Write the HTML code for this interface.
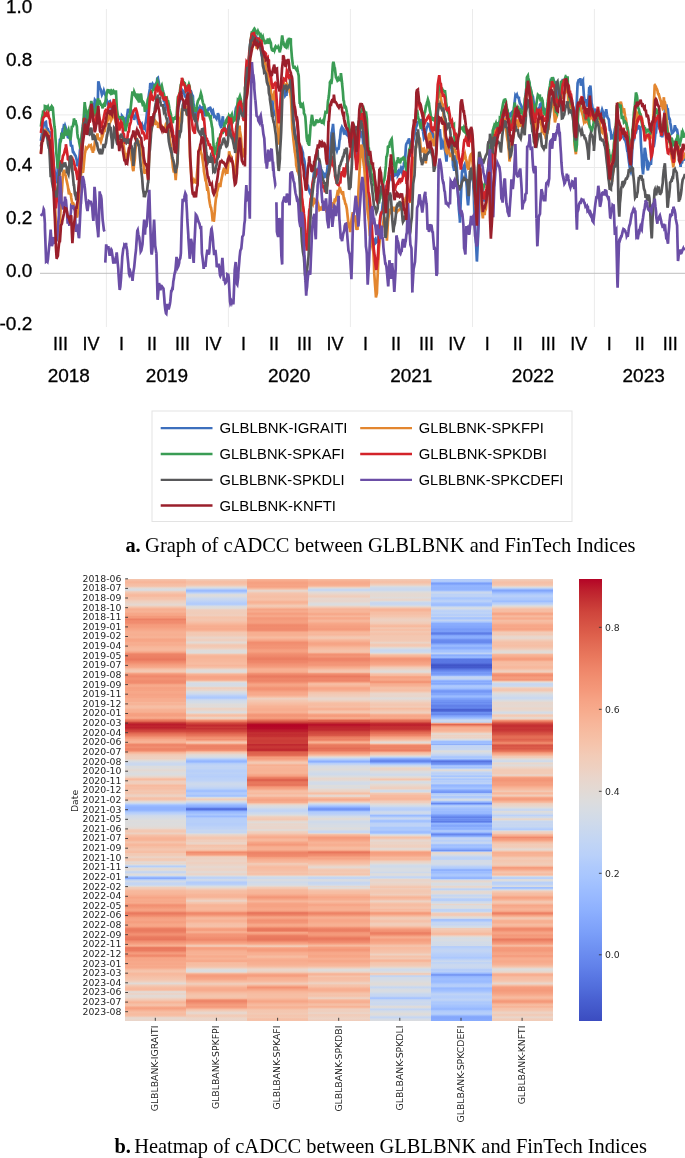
<!DOCTYPE html>
<html><head><meta charset="utf-8"><title>cADCC</title>
<style>
html,body{margin:0;padding:0;background:#fff;}
body{width:685px;height:1158px;position:relative;overflow:hidden;}
svg{position:absolute;left:0;top:0;}
.ax{font-family:"Liberation Sans",sans-serif;fill:#000;stroke:#000;stroke-width:0.3px;}
.lg{font-family:"Liberation Sans",sans-serif;fill:#000;font-size:15.2px;}
.cap{font-family:"Liberation Serif",serif;fill:#000;font-size:20.4px;}
.hm{font-family:"DejaVu Sans","Liberation Sans",sans-serif;fill:#262626;font-size:9.3px;}
.hmcol{position:absolute;top:578.7px;height:442.1px;}
</style></head><body>
<div class="hmcol" style="left:125.00px;width:61.44px;background:linear-gradient(to bottom,#f3c7b1 0.0%,#f5c0a7 0.2%,#f7b99e 0.5%,#f7b497 0.7%,#f7b89c 0.9%,#f7bca1 1.1%,#f6bfa6 1.4%,#f5c0a7 1.6%,#f2cbb7 1.8%,#e6d7cf 2.0%,#dbdcde 2.3%,#d5dbe5 2.5%,#e6d7cf 2.7%,#f2cbb7 2.9%,#f5c4ac 3.2%,#f6bea4 3.4%,#f7b99e 3.6%,#f7b99e 3.9%,#f5c0a7 4.1%,#f5c4ac 4.3%,#f5c2aa 4.5%,#f2cbb7 4.8%,#efcebd 5.0%,#edd2c3 5.2%,#ebd3c6 5.4%,#e6d7cf 5.7%,#e4d9d2 5.9%,#eed0c0 6.1%,#f3c8b2 6.3%,#f7b99e 6.6%,#f7af91 6.8%,#f7af91 7.0%,#f7b396 7.3%,#f7b194 7.5%,#f7aa8c 7.7%,#f6a586 7.9%,#f7a889 8.2%,#f49a7b 8.4%,#f49a7b 8.6%,#f49a7b 8.8%,#ec7f63 9.1%,#ee8669 9.3%,#f18d6f 9.5%,#f08b6e 9.8%,#f18d6f 10.0%,#f39577 10.2%,#f59c7d 10.4%,#f59c7d 10.7%,#f59d7e 10.9%,#f6a283 11.1%,#f6a586 11.3%,#f7a98b 11.6%,#f7ad90 11.8%,#f7b093 12.0%,#f7b093 12.2%,#f7af91 12.5%,#f7ad90 12.7%,#f7b194 12.9%,#f7b396 13.2%,#f7ad90 13.4%,#f6a586 13.6%,#f6a586 13.8%,#f7a688 14.1%,#f7ac8e 14.3%,#f7af91 14.5%,#f7ac8e 14.7%,#f7ad90 15.0%,#f7b497 15.2%,#f7b599 15.4%,#f7b89c 15.6%,#f7b99e 15.9%,#f7b99e 16.1%,#f7b396 16.3%,#f6a385 16.6%,#f29274 16.8%,#ed8366 17.0%,#ed8366 17.2%,#ec8165 17.5%,#ec7f63 17.7%,#ec7f63 17.9%,#e8765c 18.1%,#eb7d62 18.4%,#ee8669 18.6%,#f08a6c 18.8%,#f29072 19.0%,#f49a7b 19.3%,#f5a081 19.5%,#f6a385 19.7%,#f7aa8c 20.0%,#f7b79b 20.2%,#f6bfa6 20.4%,#f4c6af 20.6%,#f2cab5 20.9%,#f5c2aa 21.1%,#f7a98b 21.3%,#f49a7b 21.5%,#f18f71 21.8%,#ef886b 22.0%,#f08b6e 22.2%,#f29274 22.4%,#f29274 22.7%,#f18d6f 22.9%,#f08b6e 23.1%,#f08b6e 23.4%,#f29072 23.6%,#f5a081 23.8%,#f7a98b 24.0%,#f7a98b 24.3%,#f6a385 24.5%,#f5a081 24.7%,#f6a385 24.9%,#f6a283 25.2%,#f7a889 25.4%,#f7a889 25.6%,#f7a688 25.9%,#f6a385 26.1%,#f6a385 26.3%,#f7a688 26.5%,#f7a688 26.8%,#f7ac8e 27.0%,#f7ad90 27.2%,#f7ad90 27.4%,#f7ad90 27.7%,#f7b79b 27.9%,#f7b599 28.1%,#f7b194 28.3%,#f7ba9f 28.6%,#f6bea4 28.8%,#f6bfa6 29.0%,#f7b99e 29.3%,#f7b396 29.5%,#f7b093 29.7%,#f7b194 29.9%,#f7ac8e 30.2%,#f6a283 30.4%,#f5a081 30.6%,#f59d7e 30.8%,#f6a385 31.1%,#f7a98b 31.3%,#f7ac8e 31.5%,#f18f71 31.7%,#e9785d 32.0%,#e36c55 32.2%,#d0473d 32.4%,#c12b30 32.7%,#bb1b2c 32.9%,#bd1f2d 33.1%,#c0282f 33.3%,#bd1f2d 33.6%,#c0282f 33.8%,#c53334 34.0%,#cc403a 34.2%,#d1493f 34.5%,#da5a49 34.7%,#e16751 34.9%,#e67259 35.1%,#eb7d62 35.4%,#ef886b 35.6%,#f39577 35.8%,#f59f80 36.1%,#f7a98b 36.3%,#f7ac8e 36.5%,#f7b497 36.7%,#f7b194 37.0%,#f5a081 37.2%,#ef886b 37.4%,#ee8468 37.6%,#f08b6e 37.9%,#f18f71 38.1%,#ee8669 38.3%,#ed8366 38.5%,#ef886b 38.8%,#f4987a 39.0%,#f7b093 39.2%,#f6bea4 39.5%,#f3c8b2 39.7%,#f2cbb7 39.9%,#efcebd 40.1%,#eed0c0 40.4%,#efcfbf 40.6%,#ead5c9 40.8%,#e2dad5 41.0%,#d7dce3 41.3%,#d1dae9 41.5%,#cbd8ee 41.7%,#cad8ef 42.0%,#cfdaea 42.2%,#dbdcde 42.4%,#dadce0 42.6%,#dedcdb 42.9%,#e1dad6 43.1%,#e5d8d1 43.3%,#e0dbd8 43.5%,#dddcdc 43.8%,#dadce0 44.0%,#dbdcde 44.2%,#dedcdb 44.4%,#e8d6cc 44.7%,#edd1c2 44.9%,#f5c4ac 45.1%,#f7ba9f 45.4%,#f4c6af 45.6%,#efcebd 45.8%,#efcebd 46.0%,#f1cdba 46.3%,#f5c4ac 46.5%,#f7ba9f 46.7%,#f7bca1 46.9%,#f6bfa6 47.2%,#f6bea4 47.4%,#f5c1a9 47.6%,#f5c4ac 47.8%,#f3c7b1 48.1%,#f5c4ac 48.3%,#f4c6af 48.5%,#efcebd 48.8%,#edd1c2 49.0%,#eed0c0 49.2%,#f4c6af 49.4%,#f6bfa6 49.7%,#f5c2aa 49.9%,#f0cdbb 50.1%,#e5d8d1 50.3%,#d7dce3 50.6%,#c7d7f0 50.8%,#b1cbfc 51.0%,#9ebeff 51.2%,#94b6ff 51.5%,#90b2fe 51.7%,#90b2fe 51.9%,#90b2fe 52.2%,#96b7ff 52.4%,#a3c2fe 52.6%,#b1cbfc 52.8%,#bbd1f8 53.1%,#c3d5f4 53.3%,#cdd9ec 53.5%,#d1dae9 53.7%,#d4dbe6 54.0%,#d7dce3 54.2%,#dadce0 54.4%,#dcdddd 54.6%,#dddcdc 54.9%,#dbdcde 55.1%,#dddcdc 55.3%,#dcdddd 55.6%,#dedcdb 55.8%,#dfdbd9 56.0%,#e2dad5 56.2%,#e7d7ce 56.5%,#f0cdbb 56.7%,#f2c9b4 56.9%,#f3c7b1 57.1%,#f0cdbb 57.4%,#edd1c2 57.6%,#f3c8b2 57.8%,#f5c0a7 58.0%,#f7ba9f 58.3%,#f7b599 58.5%,#f7b396 58.7%,#f7b396 59.0%,#f7b79b 59.2%,#f5c0a7 59.4%,#f5c4ac 59.6%,#f7bca1 59.9%,#f7b79b 60.1%,#f7b79b 60.3%,#f6bda2 60.5%,#f5c0a7 60.8%,#f5c4ac 61.0%,#f4c6af 61.2%,#f5c2aa 61.5%,#f6bea4 61.7%,#f6bea4 61.9%,#f2c9b4 62.1%,#f2cab5 62.4%,#f1ccb8 62.6%,#edd1c2 62.8%,#ebd3c6 63.0%,#f2c9b4 63.3%,#f2c9b4 63.5%,#f1ccb8 63.7%,#e9d5cb 63.9%,#e2dad5 64.2%,#ead5c9 64.4%,#dddcdc 64.6%,#c0d4f5 64.9%,#b2ccfb 65.1%,#d2dbe8 65.3%,#e1dad6 65.5%,#e3d9d3 65.8%,#d9dce1 66.0%,#c7d7f0 66.2%,#c6d6f1 66.4%,#d8dce2 66.7%,#e0dbd8 66.9%,#d6dce4 67.1%,#b3cdfb 67.3%,#8caffe 67.6%,#88abfd 67.8%,#b2ccfb 68.0%,#cdd9ec 68.3%,#d2dbe8 68.5%,#c6d6f1 68.7%,#c3d5f4 68.9%,#c5d6f2 69.2%,#d2dbe8 69.4%,#e4d9d2 69.6%,#f0cdbb 69.8%,#f2c9b4 70.1%,#f5c1a9 70.3%,#f7ba9f 70.5%,#f7b89c 70.7%,#f7b79b 71.0%,#f7b599 71.2%,#f7b396 71.4%,#f7ac8e 71.7%,#f7a98b 71.9%,#f6a385 72.1%,#f7a889 72.3%,#f7ac8e 72.6%,#f7aa8c 72.8%,#f7a98b 73.0%,#f7ac8e 73.2%,#f6a283 73.5%,#f29274 73.7%,#f29072 73.9%,#f39475 74.1%,#f49a7b 74.4%,#f59f80 74.6%,#f6a385 74.8%,#f5a081 75.1%,#f18f71 75.3%,#eb7d62 75.5%,#e97a5f 75.7%,#ee8468 76.0%,#f18d6f 76.2%,#f39475 76.4%,#f59f80 76.6%,#f6a385 76.9%,#f6a586 77.1%,#f6a385 77.3%,#f59d7e 77.6%,#f5a081 77.8%,#f6a586 78.0%,#f7a889 78.2%,#f7a688 78.5%,#f59f80 78.7%,#f18d6f 78.9%,#ec7f63 79.1%,#e97a5f 79.4%,#e97a5f 79.6%,#ec7f63 79.8%,#ee8468 80.0%,#f29072 80.3%,#f29072 80.5%,#ef886b 80.7%,#ea7b60 81.0%,#e97a5f 81.2%,#e9785d 81.4%,#e8765c 81.6%,#f08b6e 81.9%,#f29274 82.1%,#f39778 82.3%,#f59f80 82.5%,#f7a98b 82.8%,#f7b396 83.0%,#f39778 83.2%,#e97a5f 83.4%,#e9785d 83.7%,#eb7d62 83.9%,#ea7b60 84.1%,#f29274 84.4%,#f4987a 84.6%,#f59d7e 84.8%,#f29072 85.0%,#ee8468 85.3%,#f39778 85.5%,#f6a586 85.7%,#f7a688 85.9%,#f6a586 86.2%,#f7a688 86.4%,#f7a98b 86.6%,#f7a98b 86.8%,#f7a688 87.1%,#f7a98b 87.3%,#f7ac8e 87.5%,#f7a688 87.8%,#f7ad90 88.0%,#f7b497 88.2%,#f6bea4 88.4%,#f5c4ac 88.7%,#f5c4ac 88.9%,#f6bda2 89.1%,#f7b89c 89.3%,#f7ba9f 89.6%,#f6bda2 89.8%,#f5c0a7 90.0%,#f5c1a9 90.2%,#f4c5ad 90.5%,#f4c6af 90.7%,#f1ccb8 90.9%,#edd2c3 91.2%,#e4d9d2 91.4%,#e0dbd8 91.6%,#efcebd 91.8%,#f4c6af 92.1%,#f5c0a7 92.3%,#f7bca1 92.5%,#f7ba9f 92.7%,#f7b99e 93.0%,#f1cdba 93.2%,#e0dbd8 93.4%,#e9d5cb 93.7%,#edd1c2 93.9%,#e5d8d1 94.1%,#e2dad5 94.3%,#e5d8d1 94.6%,#ead5c9 94.8%,#f1cdba 95.0%,#f2c9b4 95.2%,#f6bfa6 95.5%,#f7b396 95.7%,#f7b599 95.9%,#f6bda2 96.1%,#f5c1a9 96.4%,#f6bea4 96.6%,#f7aa8c 96.8%,#f5a081 97.1%,#f6a586 97.3%,#f7ad90 97.5%,#f7b599 97.7%,#f6bea4 98.0%,#f6bea4 98.2%,#f7ba9f 98.4%,#f7bca1 98.6%,#f5c1a9 98.9%,#edd1c2 99.1%,#e6d7cf 99.3%,#e7d7ce 99.5%,#ead5c9 99.8%,#e9d5cb 100.0%)"></div>
<div class="hmcol" style="left:186.14px;width:61.44px;background:linear-gradient(to bottom,#edd1c2 0.0%,#f2cab5 0.2%,#f5c0a7 0.5%,#f6bda2 0.7%,#f6bfa6 0.9%,#f5c0a7 1.1%,#f3c8b2 1.4%,#eed0c0 1.6%,#e1dad6 1.8%,#d7dce3 2.0%,#b9d0f9 2.3%,#9ebeff 2.5%,#97b8ff 2.7%,#a7c5fe 2.9%,#bfd3f6 3.2%,#d5dbe5 3.4%,#dedcdb 3.6%,#dbdcde 3.9%,#d5dbe5 4.1%,#cdd9ec 4.3%,#c9d7f0 4.5%,#c5d6f2 4.8%,#bed2f6 5.0%,#bbd1f8 5.2%,#b5cdfa 5.4%,#b1cbfc 5.7%,#bed2f6 5.9%,#d2dbe8 6.1%,#dedcdb 6.3%,#dedcdb 6.6%,#ead5c9 6.8%,#efcebd 7.0%,#f0cdbb 7.3%,#f1cdba 7.5%,#f1ccb8 7.7%,#f0cdbb 7.9%,#efcfbf 8.2%,#f2cbb7 8.4%,#f5c4ac 8.6%,#f5c4ac 8.8%,#f4c6af 9.1%,#f3c7b1 9.3%,#f5c4ac 9.5%,#f6bfa6 9.8%,#f7ba9f 10.0%,#f7b79b 10.2%,#f7b194 10.4%,#f7ac8e 10.7%,#f7af91 10.9%,#f7ad90 11.1%,#f7aa8c 11.3%,#f7b093 11.6%,#f7b99e 11.8%,#f4c5ad 12.0%,#f2cab5 12.2%,#f3c8b2 12.5%,#f2c9b4 12.7%,#f0cdbb 12.9%,#ead4c8 13.2%,#ebd3c6 13.4%,#eed0c0 13.6%,#f0cdbb 13.8%,#ead4c8 14.1%,#e2dad5 14.3%,#e4d9d2 14.5%,#efcebd 14.7%,#f3c7b1 15.0%,#f3c8b2 15.2%,#f2cab5 15.4%,#f1cdba 15.6%,#ead5c9 15.9%,#dedcdb 16.1%,#dfdbd9 16.3%,#dcdddd 16.6%,#e3d9d3 16.8%,#f4c6af 17.0%,#f7ba9f 17.2%,#f7b497 17.5%,#f7b497 17.7%,#f7b497 17.9%,#f7b79b 18.1%,#f7b79b 18.4%,#f7b89c 18.6%,#f7b99e 18.8%,#f7bca1 19.0%,#f7bca1 19.3%,#f7b599 19.5%,#f7b99e 19.7%,#f5c0a7 20.0%,#f2cab5 20.2%,#e9d5cb 20.4%,#e0dbd8 20.6%,#dddcdc 20.9%,#dfdbd9 21.1%,#efcebd 21.3%,#f7b497 21.5%,#f7ac8e 21.8%,#f6a385 22.0%,#f6a385 22.2%,#f6a385 22.4%,#f7a889 22.7%,#f7ac8e 22.9%,#f2c9b4 23.1%,#dedcdb 23.4%,#d5dbe5 23.6%,#d6dce4 23.8%,#d4dbe6 24.0%,#dbdcde 24.3%,#ebd3c6 24.5%,#f0cdbb 24.7%,#edd2c3 24.9%,#e8d6cc 25.2%,#dddcdc 25.4%,#d6dce4 25.6%,#cfdaea 25.9%,#c9d7f0 26.1%,#bed2f6 26.3%,#b6cefa 26.5%,#adc9fd 26.8%,#b1cbfc 27.0%,#c3d5f4 27.2%,#ccd9ed 27.4%,#d2dbe8 27.7%,#d2dbe8 27.9%,#d8dce2 28.1%,#dedcdb 28.3%,#e0dbd8 28.6%,#dedcdb 28.8%,#e0dbd8 29.0%,#ecd3c5 29.3%,#ebd3c6 29.5%,#e8d6cc 29.7%,#e1dad6 29.9%,#dadce0 30.2%,#e8d6cc 30.4%,#f2c9b4 30.6%,#f7bca1 30.8%,#f5c4ac 31.1%,#eed0c0 31.3%,#ecd3c5 31.5%,#f5c1a9 31.7%,#f29072 32.0%,#ec8165 32.2%,#de614d 32.4%,#cf453c 32.7%,#c83836 32.9%,#c0282f 33.1%,#c32e31 33.3%,#c83836 33.6%,#c32e31 33.8%,#c73635 34.0%,#cc403a 34.2%,#d0473d 34.5%,#d85646 34.7%,#dd5f4b 34.9%,#e36b54 35.1%,#e7745b 35.4%,#ec7f63 35.6%,#f18d6f 35.8%,#f39475 36.1%,#f18d6f 36.3%,#f59f80 36.5%,#f7b599 36.7%,#f3c7b1 37.0%,#f7bca1 37.2%,#f49a7b 37.4%,#ee8468 37.6%,#ec8165 37.9%,#ed8366 38.1%,#ec8165 38.3%,#ee8468 38.5%,#f29072 38.8%,#f7af91 39.0%,#f4c5ad 39.2%,#eed0c0 39.5%,#e5d8d1 39.7%,#dfdbd9 39.9%,#dcdddd 40.1%,#d1dae9 40.4%,#c1d4f4 40.6%,#afcafc 40.8%,#9ebeff 41.0%,#94b6ff 41.3%,#9ebeff 41.5%,#b2ccfb 41.7%,#bcd2f7 42.0%,#c0d4f5 42.2%,#c3d5f4 42.4%,#c0d4f5 42.6%,#c1d4f4 42.9%,#bcd2f7 43.1%,#b9d0f9 43.3%,#b7cff9 43.5%,#bbd1f8 43.8%,#bcd2f7 44.0%,#b9d0f9 44.2%,#b9d0f9 44.4%,#b6cefa 44.7%,#b9d0f9 44.9%,#bbd1f8 45.1%,#bcd2f7 45.4%,#bfd3f6 45.6%,#c3d5f4 45.8%,#c9d7f0 46.0%,#ccd9ed 46.3%,#cdd9ec 46.5%,#cad8ef 46.7%,#c9d7f0 46.9%,#c1d4f4 47.2%,#bcd2f7 47.4%,#b2ccfb 47.6%,#a3c2fe 47.8%,#a1c0ff 48.1%,#adc9fd 48.3%,#b1cbfc 48.5%,#aec9fc 48.8%,#a3c2fe 49.0%,#abc8fd 49.2%,#d7dce3 49.4%,#ecd3c5 49.7%,#f1cdba 49.9%,#e6d7cf 50.1%,#d9dce1 50.3%,#c5d6f2 50.6%,#b2ccfb 50.8%,#a2c1ff 51.0%,#96b7ff 51.2%,#8badfd 51.5%,#799cf8 51.7%,#5a78e4 51.9%,#5470de 52.2%,#7396f5 52.4%,#90b2fe 52.6%,#9abbff 52.8%,#a2c1ff 53.1%,#abc8fd 53.3%,#a3c2fe 53.5%,#97b8ff 53.7%,#adc9fd 54.0%,#b6cefa 54.2%,#b7cff9 54.4%,#b7cff9 54.6%,#b7cff9 54.9%,#b7cff9 55.1%,#b5cdfa 55.3%,#b6cefa 55.6%,#b7cff9 55.8%,#bbd1f8 56.0%,#bed2f6 56.2%,#bfd3f6 56.5%,#c4d5f3 56.7%,#c7d7f0 56.9%,#c5d6f2 57.1%,#c6d6f1 57.4%,#d7dce3 57.6%,#e6d7cf 57.8%,#ebd3c6 58.0%,#f1ccb8 58.3%,#f4c6af 58.5%,#f4c6af 58.7%,#f2cbb7 59.0%,#efcfbf 59.2%,#efcebd 59.4%,#ecd3c5 59.6%,#ebd3c6 59.9%,#f2cbb7 60.1%,#f5c1a9 60.3%,#f5c4ac 60.5%,#f3c7b1 60.8%,#f2cab5 61.0%,#f4c6af 61.2%,#f7b79b 61.5%,#f39778 61.7%,#f08a6c 61.9%,#f39577 62.1%,#f59d7e 62.4%,#f7b396 62.6%,#f2cab5 62.8%,#edd1c2 63.0%,#efcfbf 63.3%,#edd2c3 63.5%,#ecd3c5 63.7%,#ecd3c5 63.9%,#efcfbf 64.2%,#eed0c0 64.4%,#ebd3c6 64.6%,#ead5c9 64.9%,#e5d8d1 65.1%,#e7d7ce 65.3%,#ead5c9 65.5%,#ebd3c6 65.8%,#ead5c9 66.0%,#e3d9d3 66.2%,#e3d9d3 66.4%,#ead4c8 66.7%,#ead4c8 66.9%,#dfdbd9 67.1%,#cdd9ec 67.3%,#b9d0f9 67.6%,#c0d4f5 67.8%,#cfdaea 68.0%,#cad8ef 68.3%,#b7cff9 68.5%,#b1cbfc 68.7%,#b5cdfa 68.9%,#bcd2f7 69.2%,#cfdaea 69.4%,#dcdddd 69.6%,#e4d9d2 69.8%,#efcfbf 70.1%,#f3c7b1 70.3%,#f6bfa6 70.5%,#f6bda2 70.7%,#f7bca1 71.0%,#f7b99e 71.2%,#f7b599 71.4%,#f7b497 71.7%,#f7b396 71.9%,#f7b79b 72.1%,#f5c1a9 72.3%,#f2cbb7 72.6%,#ead5c9 72.8%,#efcebd 73.0%,#f4c6af 73.2%,#f6bfa6 73.5%,#f7b497 73.7%,#f7b497 73.9%,#f7b497 74.1%,#f7b79b 74.4%,#f7b79b 74.6%,#f7b79b 74.8%,#f7b093 75.1%,#f6a283 75.3%,#f08a6c 75.5%,#ef886b 75.7%,#f29072 76.0%,#f59f80 76.2%,#f7aa8c 76.4%,#f7b599 76.6%,#f7ba9f 76.9%,#f7b497 77.1%,#f7b093 77.3%,#f7b396 77.6%,#f7ba9f 77.8%,#f6bfa6 78.0%,#f5c0a7 78.2%,#f5c2aa 78.5%,#f6bea4 78.7%,#f7b093 78.9%,#f6a283 79.1%,#f59c7d 79.4%,#f6a283 79.6%,#f7b093 79.8%,#f7ad90 80.0%,#f49a7b 80.3%,#f39577 80.5%,#f39577 80.7%,#f29274 81.0%,#f18d6f 81.2%,#f08b6e 81.4%,#ee8669 81.6%,#f18f71 81.9%,#f59d7e 82.1%,#f59d7e 82.3%,#f7a889 82.5%,#f6bda2 82.8%,#efcfbf 83.0%,#f6bfa6 83.2%,#f6a283 83.4%,#f59f80 83.7%,#f6a586 83.9%,#f7ac8e 84.1%,#f7b194 84.4%,#f7b194 84.6%,#f7b194 84.8%,#f7b497 85.0%,#f7aa8c 85.3%,#f7ac8e 85.5%,#f7af91 85.7%,#f7b396 85.9%,#f7ac8e 86.2%,#f7a889 86.4%,#f7aa8c 86.6%,#f7bca1 86.8%,#f6bda2 87.1%,#f7bca1 87.3%,#f5c0a7 87.5%,#f5c4ac 87.8%,#efcebd 88.0%,#e6d7cf 88.2%,#dcdddd 88.4%,#d8dce2 88.7%,#dfdbd9 88.9%,#f0cdbb 89.1%,#f7b194 89.3%,#f59d7e 89.6%,#f59d7e 89.8%,#f59c7d 90.0%,#f6a283 90.2%,#f7a688 90.5%,#f7ac8e 90.7%,#f7b79b 90.9%,#f6bea4 91.2%,#f2c9b4 91.4%,#efcebd 91.6%,#f3c8b2 91.8%,#f7bca1 92.1%,#f7b497 92.3%,#f7ac8e 92.5%,#f7ac8e 92.7%,#f7a98b 93.0%,#f7ad90 93.2%,#f7b599 93.4%,#f6bda2 93.7%,#f5c0a7 93.9%,#f5c2aa 94.1%,#f4c5ad 94.3%,#f4c5ad 94.6%,#f5c0a7 94.8%,#f7b497 95.0%,#f18f71 95.2%,#ed8366 95.5%,#ef886b 95.7%,#f18f71 95.9%,#f39577 96.1%,#f59f80 96.4%,#f59d7e 96.6%,#f4987a 96.8%,#f7a98b 97.1%,#f7bca1 97.3%,#f4c6af 97.5%,#f1ccb8 97.7%,#ead5c9 98.0%,#e5d8d1 98.2%,#ead4c8 98.4%,#f1cdba 98.6%,#f2cab5 98.9%,#eed0c0 99.1%,#ecd3c5 99.3%,#ead5c9 99.5%,#ead4c8 99.8%,#edd2c3 100.0%)"></div>
<div class="hmcol" style="left:247.29px;width:61.44px;background:linear-gradient(to bottom,#f7b89c 0.0%,#f7af91 0.2%,#f7a889 0.5%,#f6a283 0.7%,#f5a081 0.9%,#f6a283 1.1%,#f6a586 1.4%,#f6a385 1.6%,#f6a283 1.8%,#f7af91 2.0%,#f5c0a7 2.3%,#ecd3c5 2.5%,#e3d9d3 2.7%,#eed0c0 2.9%,#f4c6af 3.2%,#f5c1a9 3.4%,#f5c2aa 3.6%,#f6bea4 3.9%,#f5c0a7 4.1%,#f6bea4 4.3%,#f5c4ac 4.5%,#f6bfa6 4.8%,#f7b89c 5.0%,#f7b194 5.2%,#f7b396 5.4%,#f6bda2 5.7%,#f4c6af 5.9%,#f1ccb8 6.1%,#f4c5ad 6.3%,#f7b89c 6.6%,#f6a385 6.8%,#f6a586 7.0%,#f7ac8e 7.3%,#f7a98b 7.5%,#f5a081 7.7%,#f59c7d 7.9%,#f6a586 8.2%,#f7aa8c 8.4%,#f6a385 8.6%,#f4987a 8.8%,#f49a7b 9.1%,#f59c7d 9.3%,#f59f80 9.5%,#f59f80 9.8%,#f59d7e 10.0%,#f29274 10.2%,#f08a6c 10.4%,#f08a6c 10.7%,#f18d6f 10.9%,#f08a6c 11.1%,#f08b6e 11.3%,#f08b6e 11.6%,#f4987a 11.8%,#f7ac8e 12.0%,#f7af91 12.2%,#f7af91 12.5%,#f7af91 12.7%,#f7b497 12.9%,#f7bca1 13.2%,#f7b89c 13.4%,#f7b093 13.6%,#f7aa8c 13.8%,#f59c7d 14.1%,#f18d6f 14.3%,#f18d6f 14.5%,#f18f71 14.7%,#f29274 15.0%,#f39475 15.2%,#f39577 15.4%,#f29274 15.6%,#f59d7e 15.9%,#f59f80 16.1%,#f6a385 16.3%,#f59c7d 16.6%,#f39475 16.8%,#f18f71 17.0%,#f08b6e 17.2%,#ef886b 17.5%,#ed8366 17.7%,#ec8165 17.9%,#ea7b60 18.1%,#ed8366 18.4%,#ee8669 18.6%,#ee8468 18.8%,#f08b6e 19.0%,#f29274 19.3%,#f39577 19.5%,#f4987a 19.7%,#f5a081 20.0%,#f7a98b 20.2%,#f7b093 20.4%,#f7b093 20.6%,#f7af91 20.9%,#f7ac8e 21.1%,#f39577 21.3%,#f18d6f 21.5%,#ec8165 21.8%,#e97a5f 22.0%,#ea7b60 22.2%,#ed8366 22.4%,#ee8669 22.7%,#ed8366 22.9%,#ee8468 23.1%,#f29072 23.4%,#f49a7b 23.6%,#f6a385 23.8%,#f6a586 24.0%,#f59f80 24.3%,#f39778 24.5%,#f39475 24.7%,#f18f71 24.9%,#f4987a 25.2%,#f59f80 25.4%,#f7a688 25.6%,#f7a98b 25.9%,#f7a98b 26.1%,#f7ad90 26.3%,#f7b599 26.5%,#f5c4ac 26.8%,#eed0c0 27.0%,#efcfbf 27.2%,#f2c9b4 27.4%,#f4c6af 27.7%,#f5c2aa 27.9%,#f6bfa6 28.1%,#f6bda2 28.3%,#f7b79b 28.6%,#f7b396 28.8%,#f7b396 29.0%,#f7af91 29.3%,#f7ad90 29.5%,#f7ac8e 29.7%,#f7b194 29.9%,#f7b093 30.2%,#f7a688 30.4%,#f49a7b 30.6%,#f39577 30.8%,#f39778 31.1%,#f59d7e 31.3%,#f59f80 31.5%,#f08a6c 31.7%,#e36c55 32.0%,#da5a49 32.2%,#d0473d 32.4%,#be242e 32.7%,#b50927 32.9%,#b40426 33.1%,#b40426 33.3%,#b50927 33.6%,#b50927 33.8%,#b8122a 34.0%,#bb1b2c 34.2%,#bd1f2d 34.5%,#c12b30 34.7%,#c43032 34.9%,#c12b30 35.1%,#c32e31 35.4%,#c32e31 35.6%,#ca3b37 35.8%,#cc403a 36.1%,#cb3e38 36.3%,#ca3b37 36.5%,#ca3b37 36.7%,#cb3e38 37.0%,#cc403a 37.2%,#c0282f 37.4%,#c12b30 37.6%,#c73635 37.9%,#c73635 38.1%,#c53334 38.3%,#c0282f 38.5%,#c12b30 38.8%,#d44e41 39.0%,#de614d 39.2%,#df634e 39.5%,#e16751 39.7%,#e26952 39.9%,#ee8669 40.1%,#f59f80 40.4%,#f59d7e 40.6%,#f6a385 40.8%,#f7ad90 41.0%,#f5c0a7 41.3%,#f3c8b2 41.5%,#f3c7b1 41.7%,#f7b599 42.0%,#f7af91 42.2%,#f7b599 42.4%,#f7b599 42.6%,#f7b396 42.9%,#f7b396 43.1%,#f7b194 43.3%,#f7b396 43.5%,#f7b497 43.8%,#f7b194 44.0%,#f7a98b 44.2%,#f7a688 44.4%,#f39577 44.7%,#ec8165 44.9%,#e97a5f 45.1%,#de614d 45.4%,#de614d 45.6%,#e57058 45.8%,#e8765c 46.0%,#e9785d 46.3%,#e7745b 46.5%,#e8765c 46.7%,#f18d6f 46.9%,#f59d7e 47.2%,#f6a283 47.4%,#f7aa8c 47.6%,#f7b89c 47.8%,#f6bfa6 48.1%,#f6bda2 48.3%,#f7b89c 48.5%,#f5c1a9 48.8%,#f5c4ac 49.0%,#f6bfa6 49.2%,#f7b093 49.4%,#f7a98b 49.7%,#f6a385 49.9%,#f6a283 50.1%,#f7a889 50.3%,#f7ad90 50.6%,#f4c5ad 50.8%,#ecd3c5 51.0%,#e1dad6 51.2%,#d9dce1 51.5%,#d5dbe5 51.7%,#cdd9ec 51.9%,#c4d5f3 52.2%,#c1d4f4 52.4%,#c3d5f4 52.6%,#cad8ef 52.8%,#cfdaea 53.1%,#d6dce4 53.3%,#e0dbd8 53.5%,#ebd3c6 53.7%,#f1ccb8 54.0%,#f2cab5 54.2%,#f3c7b1 54.4%,#eed0c0 54.6%,#e4d9d2 54.9%,#e0dbd8 55.1%,#e7d7ce 55.3%,#e9d5cb 55.6%,#e7d7ce 55.8%,#e9d5cb 56.0%,#e9d5cb 56.2%,#e9d5cb 56.5%,#e1dad6 56.7%,#e3d9d3 56.9%,#edd2c3 57.1%,#f0cdbb 57.4%,#f2c9b4 57.6%,#f6bfa6 57.8%,#f7b79b 58.0%,#f7ad90 58.3%,#f7aa8c 58.5%,#f7b194 58.7%,#f7b99e 59.0%,#f7b79b 59.2%,#f7af91 59.4%,#f7a688 59.6%,#f59f80 59.9%,#f4987a 60.1%,#f59f80 60.3%,#f7aa8c 60.5%,#f7b093 60.8%,#f7b093 61.0%,#f7b093 61.2%,#f5a081 61.5%,#f18f71 61.7%,#ed8366 61.9%,#ee8468 62.1%,#ef886b 62.4%,#f08a6c 62.6%,#f18f71 62.8%,#f5a081 63.0%,#f7a889 63.3%,#f7b093 63.5%,#f7b396 63.7%,#f7b79b 63.9%,#f6bea4 64.2%,#f1ccb8 64.4%,#f2c9b4 64.6%,#f5c1a9 64.9%,#f7bca1 65.1%,#f7ba9f 65.3%,#f7bca1 65.5%,#f6bea4 65.8%,#f6bfa6 66.0%,#f5c2aa 66.2%,#f5c4ac 66.4%,#f6bfa6 66.7%,#f5c4ac 66.9%,#edd1c2 67.1%,#d9dce1 67.3%,#ccd9ed 67.6%,#cdd9ec 67.8%,#dadce0 68.0%,#d8dce2 68.3%,#d1dae9 68.5%,#cedaeb 68.7%,#d3dbe7 68.9%,#d5dbe5 69.2%,#dddcdc 69.4%,#ead5c9 69.6%,#f2cbb7 69.8%,#f4c5ad 70.1%,#f7ba9f 70.3%,#f7b79b 70.5%,#f7b79b 70.7%,#f7b599 71.0%,#f7b497 71.2%,#f7ad90 71.4%,#f6a283 71.7%,#f4987a 71.9%,#f39778 72.1%,#f5a081 72.3%,#f7aa8c 72.6%,#f7b396 72.8%,#f7b79b 73.0%,#f7ad90 73.2%,#f6a283 73.5%,#f6a283 73.7%,#f6a283 73.9%,#f6a283 74.1%,#f7a688 74.4%,#f7a889 74.6%,#f7a98b 74.8%,#f6a283 75.1%,#f18f71 75.3%,#e7745b 75.5%,#e8765c 75.7%,#ed8366 76.0%,#f18d6f 76.2%,#f5a081 76.4%,#f7a688 76.6%,#f5a081 76.9%,#f39475 77.1%,#f29072 77.3%,#f39577 77.6%,#f39577 77.8%,#f6a283 78.0%,#f7a98b 78.2%,#f7a889 78.5%,#f59c7d 78.7%,#f08a6c 78.9%,#ea7b60 79.1%,#e8765c 79.4%,#e9785d 79.6%,#f18f71 79.8%,#f7a889 80.0%,#f59d7e 80.3%,#f18f71 80.5%,#ec7f63 80.7%,#e97a5f 81.0%,#e97a5f 81.2%,#e8765c 81.4%,#e8765c 81.6%,#ec8165 81.9%,#f29274 82.1%,#f59c7d 82.3%,#f6a385 82.5%,#f7b89c 82.8%,#f1cdba 83.0%,#f3c8b2 83.2%,#f7a98b 83.4%,#f59c7d 83.7%,#f59c7d 83.9%,#f59c7d 84.1%,#f7a688 84.4%,#f7af91 84.6%,#f7af91 84.8%,#f7b093 85.0%,#f7b99e 85.3%,#f6bda2 85.5%,#f7b89c 85.7%,#f7b093 85.9%,#f7ac8e 86.2%,#f7a98b 86.4%,#f7ad90 86.6%,#f7af91 86.8%,#f7b093 87.1%,#f7b396 87.3%,#f7b79b 87.5%,#f5c0a7 87.8%,#f2cab5 88.0%,#edd2c3 88.2%,#e8d6cc 88.4%,#ebd3c6 88.7%,#efcebd 88.9%,#f5c2aa 89.1%,#f7ad90 89.3%,#f59d7e 89.6%,#f59f80 89.8%,#f6a385 90.0%,#f7af91 90.2%,#f7b194 90.5%,#f7b396 90.7%,#f7b79b 90.9%,#f6bfa6 91.2%,#f2c9b4 91.4%,#f0cdbb 91.6%,#f6bfa6 91.8%,#f7aa8c 92.1%,#f39778 92.3%,#f29072 92.5%,#f5a081 92.7%,#f7a889 93.0%,#f7b093 93.2%,#f7b79b 93.4%,#f7b99e 93.7%,#f6bea4 93.9%,#f6bda2 94.1%,#f6bea4 94.3%,#f6bfa6 94.6%,#f7bca1 94.8%,#f7b79b 95.0%,#f7b093 95.2%,#f6a586 95.5%,#f7a889 95.7%,#f7ad90 95.9%,#f7b599 96.1%,#f7ba9f 96.4%,#f7ba9f 96.6%,#f7af91 96.8%,#f7b599 97.1%,#f6bea4 97.3%,#f4c5ad 97.5%,#f3c7b1 97.7%,#f4c6af 98.0%,#f2cab5 98.2%,#f2cab5 98.4%,#f3c7b1 98.6%,#f5c4ac 98.9%,#f2c9b4 99.1%,#f3c7b1 99.3%,#f5c0a7 99.5%,#f5c0a7 99.8%,#f5c4ac 100.0%)"></div>
<div class="hmcol" style="left:308.43px;width:61.44px;background:linear-gradient(to bottom,#f6bfa6 0.0%,#f7b89c 0.2%,#f7af91 0.5%,#f7ac8e 0.7%,#f7aa8c 0.9%,#f7ac8e 1.1%,#f7af91 1.4%,#f7b89c 1.6%,#f3c7b1 1.8%,#e3d9d3 2.0%,#ccd9ed 2.3%,#c0d4f5 2.5%,#cedaeb 2.7%,#dddcdc 2.9%,#e5d8d1 3.2%,#e9d5cb 3.4%,#edd2c3 3.6%,#f0cdbb 3.9%,#efcfbf 4.1%,#e9d5cb 4.3%,#e6d7cf 4.5%,#e8d6cc 4.8%,#e9d5cb 5.0%,#e5d8d1 5.2%,#e0dbd8 5.4%,#dadce0 5.7%,#dcdddd 5.9%,#e7d7ce 6.1%,#f1cdba 6.3%,#f6bfa6 6.6%,#f7b194 6.8%,#f7b599 7.0%,#f7b599 7.3%,#f7b497 7.5%,#f7af91 7.7%,#f6a586 7.9%,#f7ad90 8.2%,#f7ba9f 8.4%,#f7b194 8.6%,#f7a889 8.8%,#f7ac8e 9.1%,#f7b599 9.3%,#f7b89c 9.5%,#f7b093 9.8%,#f7a98b 10.0%,#f6a586 10.2%,#f6a385 10.4%,#f59f80 10.7%,#f59f80 10.9%,#f59f80 11.1%,#f4987a 11.3%,#f59f80 11.6%,#f7af91 11.8%,#f7b497 12.0%,#f7ba9f 12.2%,#f7b599 12.5%,#f7b99e 12.7%,#f5c1a9 12.9%,#f3c8b2 13.2%,#f3c8b2 13.4%,#f6bfa6 13.6%,#f7b89c 13.8%,#f7b093 14.1%,#f7a98b 14.3%,#f6a586 14.5%,#f6a385 14.7%,#f7a889 15.0%,#f7af91 15.2%,#f7b599 15.4%,#f7ba9f 15.6%,#f6bea4 15.9%,#f5c1a9 16.1%,#f4c5ad 16.3%,#f5c0a7 16.6%,#f7aa8c 16.8%,#f29274 17.0%,#f29072 17.2%,#f39577 17.5%,#f29274 17.7%,#ee8669 17.9%,#ee8468 18.1%,#ee8468 18.4%,#f08b6e 18.6%,#f18f71 18.8%,#f39475 19.0%,#f39577 19.3%,#f39577 19.5%,#f5a081 19.7%,#f7aa8c 20.0%,#f7b194 20.2%,#f7ba9f 20.4%,#f5c2aa 20.6%,#f3c7b1 20.9%,#f3c7b1 21.1%,#f6a283 21.3%,#f18f71 21.5%,#ee8468 21.8%,#e9785d 22.0%,#ec7f63 22.2%,#ee8468 22.4%,#ef886b 22.7%,#ee8468 22.9%,#ee8669 23.1%,#f6a385 23.4%,#f7b89c 23.6%,#f6bea4 23.8%,#f7ba9f 24.0%,#f7b497 24.3%,#f7aa8c 24.5%,#f7a688 24.7%,#f7a688 24.9%,#f7ad90 25.2%,#f7b497 25.4%,#f5c2aa 25.6%,#f3c7b1 25.9%,#f2cab5 26.1%,#f1ccb8 26.3%,#f0cdbb 26.5%,#ecd3c5 26.8%,#e8d6cc 27.0%,#e8d6cc 27.2%,#ecd3c5 27.4%,#f1ccb8 27.7%,#f5c4ac 27.9%,#f6bea4 28.1%,#f6bda2 28.3%,#f7bca1 28.6%,#f6bfa6 28.8%,#f6bea4 29.0%,#f7b396 29.3%,#f7b194 29.5%,#f7ba9f 29.7%,#f5c4ac 29.9%,#f4c6af 30.2%,#f7b99e 30.4%,#f7a688 30.6%,#f59c7d 30.8%,#f59c7d 31.1%,#f7a889 31.3%,#f7b093 31.5%,#f39475 31.7%,#dd5f4b 32.0%,#dd5f4b 32.2%,#cd423b 32.4%,#c0282f 32.7%,#b8122a 32.9%,#b8122a 33.1%,#bd1f2d 33.3%,#be242e 33.6%,#c0282f 33.8%,#c0282f 34.0%,#c12b30 34.2%,#cc403a 34.5%,#d0473d 34.7%,#d1493f 34.9%,#d55042 35.1%,#d85646 35.4%,#e36c55 35.6%,#e97a5f 35.8%,#ed8366 36.1%,#ec7f63 36.3%,#ee8669 36.5%,#f6a283 36.7%,#f7b194 37.0%,#f5a081 37.2%,#ee8669 37.4%,#e97a5f 37.6%,#e9785d 37.9%,#e7745b 38.1%,#e36b54 38.3%,#e67259 38.5%,#e7745b 38.8%,#ee8669 39.0%,#f39778 39.2%,#f6a283 39.5%,#f7b093 39.7%,#f6bda2 39.9%,#eed0c0 40.1%,#d9dce1 40.4%,#c5d6f2 40.6%,#b6cefa 40.8%,#a3c2fe 41.0%,#8caffe 41.3%,#9abbff 41.5%,#b6cefa 41.7%,#c3d5f4 42.0%,#d1dae9 42.2%,#d8dce2 42.4%,#dadce0 42.6%,#dddcdc 42.9%,#dfdbd9 43.1%,#dbdcde 43.3%,#d6dce4 43.5%,#d2dbe8 43.8%,#cfdaea 44.0%,#cedaeb 44.2%,#d3dbe7 44.4%,#dbdcde 44.7%,#e1dad6 44.9%,#e8d6cc 45.1%,#e6d7cf 45.4%,#e1dad6 45.6%,#d8dce2 45.8%,#d3dbe7 46.0%,#d2dbe8 46.3%,#d5dbe5 46.5%,#dcdddd 46.7%,#dedcdb 46.9%,#dadce0 47.2%,#e0dbd8 47.4%,#e6d7cf 47.6%,#ead5c9 47.8%,#edd1c2 48.1%,#f3c7b1 48.3%,#f7bca1 48.5%,#f1cdba 48.8%,#e5d8d1 49.0%,#e8d6cc 49.2%,#f5c1a9 49.4%,#f7b396 49.7%,#f7aa8c 49.9%,#f7b194 50.1%,#f5c1a9 50.3%,#ead5c9 50.6%,#d4dbe6 50.8%,#c5d6f2 51.0%,#b5cdfa 51.2%,#9bbcff 51.5%,#89acfd 51.7%,#779af7 51.9%,#7295f4 52.2%,#85a8fc 52.4%,#a5c3fe 52.6%,#b2ccfb 52.8%,#b6cefa 53.1%,#bed2f6 53.3%,#c6d6f1 53.5%,#d2dbe8 53.7%,#d8dce2 54.0%,#e0dbd8 54.2%,#dfdbd9 54.4%,#d7dce3 54.6%,#cfdaea 54.9%,#cfdaea 55.1%,#d3dbe7 55.3%,#d5dbe5 55.6%,#d7dce3 55.8%,#d6dce4 56.0%,#dadce0 56.2%,#dddcdc 56.5%,#dadce0 56.7%,#d1dae9 56.9%,#c9d7f0 57.1%,#c9d7f0 57.4%,#e7d7ce 57.6%,#f5c0a7 57.8%,#f7b599 58.0%,#f6a586 58.3%,#f49a7b 58.5%,#f59d7e 58.7%,#f6a385 59.0%,#f7a889 59.2%,#f7ad90 59.4%,#f7b396 59.6%,#f7b194 59.9%,#f7ad90 60.1%,#f7af91 60.3%,#f7b497 60.5%,#f7bca1 60.8%,#f7ba9f 61.0%,#f7b79b 61.2%,#f5a081 61.5%,#eb7d62 61.7%,#e8765c 61.9%,#ec8165 62.1%,#f18d6f 62.4%,#f29072 62.6%,#f59c7d 62.8%,#f6a586 63.0%,#f6a385 63.3%,#f7ac8e 63.5%,#f7b497 63.7%,#f7b99e 63.9%,#f6bea4 64.2%,#f5c1a9 64.4%,#f3c8b2 64.6%,#edd2c3 64.9%,#e7d7ce 65.1%,#e5d8d1 65.3%,#edd1c2 65.5%,#f3c8b2 65.8%,#f4c6af 66.0%,#f3c8b2 66.2%,#f2cab5 66.4%,#f4c6af 66.7%,#f4c5ad 66.9%,#ecd3c5 67.1%,#d5dbe5 67.3%,#c0d4f5 67.6%,#c4d5f3 67.8%,#d7dce3 68.0%,#d8dce2 68.3%,#cdd9ec 68.5%,#c5d6f2 68.7%,#c7d7f0 68.9%,#cdd9ec 69.2%,#d9dce1 69.4%,#e7d7ce 69.6%,#e0dbd8 69.8%,#e7d7ce 70.1%,#f3c8b2 70.3%,#f5c2aa 70.5%,#f6bfa6 70.7%,#f6bda2 71.0%,#f7bca1 71.2%,#f7b497 71.4%,#f7af91 71.7%,#f7a889 71.9%,#f7a688 72.1%,#f7ac8e 72.3%,#f7af91 72.6%,#f7b79b 72.8%,#f7bca1 73.0%,#f7b599 73.2%,#f7ac8e 73.5%,#f6a385 73.7%,#f7a688 73.9%,#f7ac8e 74.1%,#f7af91 74.4%,#f7af91 74.6%,#f7b093 74.8%,#f7aa8c 75.1%,#f39577 75.3%,#ee8669 75.5%,#ed8366 75.7%,#f18f71 76.0%,#f59c7d 76.2%,#f7a889 76.4%,#f7b093 76.6%,#f7ad90 76.9%,#f7a688 77.1%,#f7a688 77.3%,#f7a889 77.6%,#f7ac8e 77.8%,#f7af91 78.0%,#f7b194 78.2%,#f7af91 78.5%,#f6a385 78.7%,#f29072 78.9%,#ee8669 79.1%,#eb7d62 79.4%,#ec7f63 79.6%,#ee8669 79.8%,#f39577 80.0%,#f49a7b 80.3%,#f49a7b 80.5%,#f39475 80.7%,#ee8669 81.0%,#ea7b60 81.2%,#e9785d 81.4%,#ea7b60 81.6%,#ee8468 81.9%,#f08b6e 82.1%,#f29072 82.3%,#f59f80 82.5%,#f7b194 82.8%,#f5c0a7 83.0%,#f7ac8e 83.2%,#f59f80 83.4%,#f59c7d 83.7%,#f39475 83.9%,#f49a7b 84.1%,#f6a385 84.4%,#f7aa8c 84.6%,#f7a889 84.8%,#f7a98b 85.0%,#f6a283 85.3%,#f7a889 85.5%,#f7a98b 85.7%,#f7b093 85.9%,#f7ac8e 86.2%,#f6a586 86.4%,#f7a98b 86.6%,#f7ad90 86.8%,#f7b396 87.1%,#f7b599 87.3%,#f7b79b 87.5%,#f5c4ac 87.8%,#efcebd 88.0%,#e7d7ce 88.2%,#dcdddd 88.4%,#e1dad6 88.7%,#ebd3c6 88.9%,#f2cab5 89.1%,#f7b497 89.3%,#f7b396 89.6%,#f5c2aa 89.8%,#f5c4ac 90.0%,#f6bda2 90.2%,#f6bea4 90.5%,#f6bfa6 90.7%,#f5c1a9 90.9%,#f2cab5 91.2%,#edd1c2 91.4%,#eed0c0 91.6%,#f4c5ad 91.8%,#f5c2aa 92.1%,#f6bea4 92.3%,#f7b599 92.5%,#f7b093 92.7%,#f7ad90 93.0%,#f7af91 93.2%,#f7b79b 93.4%,#f5c0a7 93.7%,#f4c5ad 93.9%,#f5c2aa 94.1%,#f5c2aa 94.3%,#f2c9b4 94.6%,#ebd3c6 94.8%,#f1ccb8 95.0%,#f7b89c 95.2%,#f7b093 95.5%,#f7af91 95.7%,#f7b093 95.9%,#f6bda2 96.1%,#f5c0a7 96.4%,#f7b99e 96.6%,#f7af91 96.8%,#f5c4ac 97.1%,#efcfbf 97.3%,#efcfbf 97.5%,#efcebd 97.7%,#eed0c0 98.0%,#e8d6cc 98.2%,#eed0c0 98.4%,#f2cbb7 98.6%,#efcebd 98.9%,#eed0c0 99.1%,#edd2c3 99.3%,#ecd3c5 99.5%,#efcebd 99.8%,#f0cdbb 100.0%)"></div>
<div class="hmcol" style="left:369.57px;width:61.44px;background:linear-gradient(to bottom,#f1ccb8 0.0%,#f3c8b2 0.2%,#f5c1a9 0.5%,#f6bfa6 0.7%,#f5c2aa 0.9%,#f2c9b4 1.1%,#eed0c0 1.4%,#dfdbd9 1.6%,#d5dbe5 1.8%,#cdd9ec 2.0%,#cbd8ee 2.3%,#c7d7f0 2.5%,#d2dbe8 2.7%,#dcdddd 2.9%,#e2dad5 3.2%,#e3d9d3 3.4%,#e4d9d2 3.6%,#e4d9d2 3.9%,#e0dbd8 4.1%,#dddcdc 4.3%,#e7d7ce 4.5%,#e9d5cb 4.8%,#dcdddd 5.0%,#cfdaea 5.2%,#c6d6f1 5.4%,#c7d7f0 5.7%,#cdd9ec 5.9%,#d8dce2 6.1%,#ead5c9 6.3%,#f5c1a9 6.6%,#f7b599 6.8%,#f7b194 7.0%,#f7b89c 7.3%,#f6bea4 7.5%,#f6bfa6 7.7%,#f6bea4 7.9%,#f5c4ac 8.2%,#f5c4ac 8.4%,#f3c8b2 8.6%,#f1ccb8 8.8%,#efcfbf 9.1%,#edd1c2 9.3%,#eed0c0 9.5%,#f1cdba 9.8%,#f1ccb8 10.0%,#f3c7b1 10.2%,#f6bea4 10.4%,#f7b89c 10.7%,#f6bea4 10.9%,#f2cab5 11.1%,#f5c1a9 11.3%,#f6bea4 11.6%,#f3c8b2 11.8%,#f3c7b1 12.0%,#f5c4ac 12.2%,#f5c1a9 12.5%,#f4c5ad 12.7%,#f3c7b1 12.9%,#f3c7b1 13.2%,#f3c8b2 13.4%,#f3c7b1 13.6%,#f3c7b1 13.8%,#f2cbb7 14.1%,#ebd3c6 14.3%,#ead4c8 14.5%,#f2cab5 14.7%,#f3c7b1 15.0%,#f2cbb7 15.2%,#ebd3c6 15.4%,#dedcdb 15.6%,#d1dae9 15.9%,#c7d7f0 16.1%,#cad8ef 16.3%,#cedaeb 16.6%,#dfdbd9 16.8%,#f1ccb8 17.0%,#f6bda2 17.2%,#f7b497 17.5%,#f7a889 17.7%,#f4987a 17.9%,#f29274 18.1%,#f39778 18.4%,#f49a7b 18.6%,#f59f80 18.8%,#f6a283 19.0%,#f7a688 19.3%,#f7ad90 19.5%,#f7b99e 19.7%,#f2c9b4 20.0%,#f0cdbb 20.2%,#ecd3c5 20.4%,#e7d7ce 20.6%,#dfdbd9 20.9%,#e1dad6 21.1%,#efcfbf 21.3%,#f6bfa6 21.5%,#f6bda2 21.8%,#f7a98b 22.0%,#f5a081 22.2%,#f6a586 22.4%,#f7a889 22.7%,#f7a889 22.9%,#f39778 23.1%,#f39475 23.4%,#f6a586 23.6%,#f7ad90 23.8%,#f7ad90 24.0%,#f7b599 24.3%,#f6bda2 24.5%,#f5c0a7 24.7%,#f6bfa6 24.9%,#f6bda2 25.2%,#f5c2aa 25.4%,#f1ccb8 25.6%,#ead5c9 25.9%,#e8d6cc 26.1%,#e8d6cc 26.3%,#ead4c8 26.5%,#e3d9d3 26.8%,#dfdbd9 27.0%,#e1dad6 27.2%,#e9d5cb 27.4%,#edd2c3 27.7%,#f1cdba 27.9%,#f2cbb7 28.1%,#f3c7b1 28.3%,#f3c7b1 28.6%,#f2cbb7 28.8%,#f2cab5 29.0%,#f6bda2 29.3%,#f5c0a7 29.5%,#f4c5ad 29.7%,#f2cab5 29.9%,#efcebd 30.2%,#f3c8b2 30.4%,#f7b599 30.6%,#f7a98b 30.8%,#f7a688 31.1%,#f7aa8c 31.3%,#f7ac8e 31.5%,#f29072 31.7%,#e57058 32.0%,#e36b54 32.2%,#d65244 32.4%,#c32e31 32.7%,#be242e 32.9%,#bd1f2d 33.1%,#c32e31 33.3%,#c43032 33.6%,#c43032 33.8%,#c53334 34.0%,#cf453c 34.2%,#da5a49 34.5%,#e26952 34.7%,#e36c55 34.9%,#ea7b60 35.1%,#ee8468 35.4%,#f39577 35.6%,#f6a586 35.8%,#f7af91 36.1%,#f7b79b 36.3%,#f5c2aa 36.5%,#edd1c2 36.7%,#e1dad6 37.0%,#efcfbf 37.2%,#f7ad90 37.4%,#ef886b 37.6%,#ee8468 37.9%,#ed8366 38.1%,#ee8669 38.3%,#ed8366 38.5%,#eb7d62 38.8%,#f29274 39.0%,#f7b396 39.2%,#f5c1a9 39.5%,#f3c8b2 39.7%,#ecd3c5 39.9%,#dcdddd 40.1%,#b2ccfb 40.4%,#90b2fe 40.6%,#7ea1fa 40.8%,#6a8bef 41.0%,#6687ed 41.3%,#799cf8 41.5%,#96b7ff 41.7%,#b6cefa 42.0%,#c9d7f0 42.2%,#d4dbe6 42.4%,#e4d9d2 42.6%,#ecd3c5 42.9%,#ead4c8 43.1%,#e6d7cf 43.3%,#dddcdc 43.5%,#d8dce2 43.8%,#d4dbe6 44.0%,#cfdaea 44.2%,#cfdaea 44.4%,#dddcdc 44.7%,#e4d9d2 44.9%,#eed0c0 45.1%,#f5c4ac 45.4%,#ebd3c6 45.6%,#dbdcde 45.8%,#d5dbe5 46.0%,#dddcdc 46.3%,#e4d9d2 46.5%,#e7d7ce 46.7%,#ead4c8 46.9%,#eed0c0 47.2%,#efcfbf 47.4%,#e7d7ce 47.6%,#d2dbe8 47.8%,#d2dbe8 48.1%,#e5d8d1 48.3%,#f3c8b2 48.5%,#f5c2aa 48.8%,#f7ba9f 49.0%,#f7ba9f 49.2%,#f7b99e 49.4%,#f7b599 49.7%,#f7b89c 49.9%,#f5c2aa 50.1%,#f1ccb8 50.3%,#efcfbf 50.6%,#e6d7cf 50.8%,#e0dbd8 51.0%,#d7dce3 51.2%,#ccd9ed 51.5%,#bfd3f6 51.7%,#b9d0f9 51.9%,#b5cdfa 52.2%,#bed2f6 52.4%,#cad8ef 52.6%,#cedaeb 52.8%,#cbd8ee 53.1%,#b5cdfa 53.3%,#9abbff 53.5%,#a5c3fe 53.7%,#bfd3f6 54.0%,#c9d7f0 54.2%,#bed2f6 54.4%,#a6c4fe 54.6%,#a3c2fe 54.9%,#afcafc 55.1%,#bcd2f7 55.3%,#bed2f6 55.6%,#bfd3f6 55.8%,#b9d0f9 56.0%,#abc8fd 56.2%,#abc8fd 56.5%,#aec9fc 56.7%,#aac7fd 56.9%,#9fbfff 57.1%,#9ebeff 57.4%,#afcafc 57.6%,#cfdaea 57.8%,#e0dbd8 58.0%,#f2cbb7 58.3%,#f5c0a7 58.5%,#f3c7b1 58.7%,#ebd3c6 59.0%,#e5d8d1 59.2%,#e8d6cc 59.4%,#ebd3c6 59.6%,#ead4c8 59.9%,#edd2c3 60.1%,#eed0c0 60.3%,#efcfbf 60.5%,#ebd3c6 60.8%,#e2dad5 61.0%,#e5d8d1 61.2%,#f4c6af 61.5%,#f7a889 61.7%,#f59d7e 61.9%,#f5a081 62.1%,#f6a385 62.4%,#f7a889 62.6%,#f7b093 62.8%,#f7b99e 63.0%,#f7b89c 63.3%,#f7ba9f 63.5%,#f3c7b1 63.7%,#edd1c2 63.9%,#e8d6cc 64.2%,#e2dad5 64.4%,#d8dce2 64.6%,#cfdaea 64.9%,#cfdaea 65.1%,#d2dbe8 65.3%,#d6dce4 65.5%,#d7dce3 65.8%,#d7dce3 66.0%,#d4dbe6 66.2%,#cdd9ec 66.4%,#dddcdc 66.7%,#dddcdc 66.9%,#d9dce1 67.1%,#cad8ef 67.3%,#c3d5f4 67.6%,#d8dce2 67.8%,#ead4c8 68.0%,#ead4c8 68.3%,#e8d6cc 68.5%,#e6d7cf 68.7%,#ead5c9 68.9%,#ecd3c5 69.2%,#f0cdbb 69.4%,#f3c8b2 69.6%,#f4c6af 69.8%,#efcfbf 70.1%,#f3c8b2 70.3%,#f3c8b2 70.5%,#f3c7b1 70.7%,#f2c9b4 71.0%,#f2cab5 71.2%,#efcebd 71.4%,#f5c2aa 71.7%,#f7b89c 71.9%,#f7b396 72.1%,#f7ba9f 72.3%,#f5c2aa 72.6%,#eed0c0 72.8%,#edd2c3 73.0%,#f2cab5 73.2%,#f6bea4 73.5%,#f7bca1 73.7%,#f6bda2 73.9%,#f5c0a7 74.1%,#f5c4ac 74.4%,#f5c1a9 74.6%,#f7b99e 74.8%,#f6bfa6 75.1%,#f7af91 75.3%,#f59c7d 75.5%,#f49a7b 75.7%,#f7a889 76.0%,#f7b79b 76.2%,#f5c0a7 76.4%,#f2cab5 76.6%,#f1ccb8 76.9%,#f3c7b1 77.1%,#f5c1a9 77.3%,#f5c1a9 77.6%,#f2cab5 77.8%,#f1cdba 78.0%,#f1cdba 78.2%,#f2c9b4 78.5%,#f7bca1 78.7%,#f7b093 78.9%,#f6a385 79.1%,#f39577 79.4%,#f29274 79.6%,#f29072 79.8%,#ec8165 80.0%,#ec7f63 80.3%,#f18d6f 80.5%,#f49a7b 80.7%,#f7ad90 81.0%,#f7ac8e 81.2%,#f6a385 81.4%,#f59d7e 81.6%,#f5a081 81.9%,#f6a586 82.1%,#f7a889 82.3%,#f7ac8e 82.5%,#f7bca1 82.8%,#f4c5ad 83.0%,#f5c1a9 83.2%,#f7ba9f 83.4%,#f7bca1 83.7%,#f6bea4 83.9%,#f5c0a7 84.1%,#f5c2aa 84.4%,#f4c6af 84.6%,#f1ccb8 84.8%,#edd2c3 85.0%,#f5c4ac 85.3%,#f5c1a9 85.5%,#f3c7b1 85.7%,#f2c9b4 85.9%,#f7b79b 86.2%,#f7b396 86.4%,#f7ba9f 86.6%,#f4c5ad 86.8%,#f3c7b1 87.1%,#f3c7b1 87.3%,#f1ccb8 87.5%,#ecd3c5 87.8%,#e0dbd8 88.0%,#d4dbe6 88.2%,#cedaeb 88.4%,#d5dbe5 88.7%,#dfdbd9 88.9%,#e4d9d2 89.1%,#f3c7b1 89.3%,#e9d5cb 89.6%,#b7cff9 89.8%,#c9d7f0 90.0%,#d3dbe7 90.2%,#d3dbe7 90.5%,#d5dbe5 90.7%,#d8dce2 90.9%,#dbdcde 91.2%,#dfdbd9 91.4%,#e0dbd8 91.6%,#e0dbd8 91.8%,#d6dce4 92.1%,#c6d6f1 92.3%,#c7d7f0 92.5%,#d3dbe7 92.7%,#d9dce1 93.0%,#d9dce1 93.2%,#d6dce4 93.4%,#cedaeb 93.7%,#c7d7f0 93.9%,#c5d6f2 94.1%,#c6d6f1 94.3%,#bad0f8 94.6%,#9dbdff 94.8%,#b1cbfc 95.0%,#c6d6f1 95.2%,#cad8ef 95.5%,#cdd9ec 95.7%,#cedaeb 95.9%,#c9d7f0 96.1%,#cdd9ec 96.4%,#d9dce1 96.6%,#e2dad5 96.8%,#d6dce4 97.1%,#bfd3f6 97.3%,#c6d6f1 97.5%,#d3dbe7 97.7%,#d7dce3 98.0%,#dcdddd 98.2%,#e0dbd8 98.4%,#dedcdb 98.6%,#d3dbe7 98.9%,#c4d5f3 99.1%,#c7d7f0 99.3%,#d3dbe7 99.5%,#d8dce2 99.8%,#dbdcde 100.0%)"></div>
<div class="hmcol" style="left:430.71px;width:61.44px;background:linear-gradient(to bottom,#afcafc 0.0%,#b2ccfb 0.2%,#b5cdfa 0.5%,#a1c0ff 0.7%,#7b9ff9 0.9%,#7b9ff9 1.1%,#8caffe 1.4%,#9abbff 1.6%,#8db0fe 1.8%,#93b5fe 2.0%,#90b2fe 2.3%,#96b7ff 2.5%,#a5c3fe 2.7%,#c6d6f1 2.9%,#ccd9ed 3.2%,#bcd2f7 3.4%,#bcd2f7 3.6%,#c1d4f4 3.9%,#b5cdfa 4.1%,#a7c5fe 4.3%,#aac7fd 4.5%,#b7cff9 4.8%,#bbd1f8 5.0%,#b9d0f9 5.2%,#a6c4fe 5.4%,#a2c1ff 5.7%,#9abbff 5.9%,#abc8fd 6.1%,#c7d7f0 6.3%,#d8dce2 6.6%,#d2dbe8 6.8%,#c4d5f3 7.0%,#b9d0f9 7.3%,#bfd3f6 7.5%,#c0d4f5 7.7%,#bcd2f7 7.9%,#afcafc 8.2%,#c9d7f0 8.4%,#b7cff9 8.6%,#a1c0ff 8.8%,#aec9fc 9.1%,#c7d7f0 9.3%,#bad0f8 9.5%,#a5c3fe 9.8%,#8badfd 10.0%,#88abfd 10.2%,#89acfd 10.4%,#84a7fc 10.7%,#84a7fc 10.9%,#81a4fb 11.1%,#779af7 11.3%,#799cf8 11.6%,#80a3fa 11.8%,#7396f5 12.0%,#5b7ae5 12.2%,#6282ea 12.5%,#7da0f9 12.7%,#89acfd 12.9%,#8caffe 13.2%,#88abfd 13.4%,#7699f6 13.6%,#6a8bef 13.8%,#688aef 14.1%,#6485ec 14.3%,#7093f3 14.5%,#81a4fb 14.7%,#97b8ff 15.0%,#9abbff 15.2%,#8fb1fe 15.4%,#86a9fc 15.6%,#94b6ff 15.9%,#a5c3fe 16.1%,#a1c0ff 16.3%,#adc9fd 16.6%,#c5d6f2 16.8%,#aec9fc 17.0%,#85a8fc 17.2%,#93b5fe 17.5%,#9ebeff 17.7%,#84a7fc 17.9%,#5977e3 18.1%,#5a78e4 18.4%,#5977e3 18.6%,#5a78e4 18.8%,#5875e1 19.0%,#485fd1 19.3%,#3e51c5 19.5%,#455cce 19.7%,#4358cb 20.0%,#4c66d6 20.2%,#5673e0 20.4%,#6180e9 20.6%,#6b8df0 20.9%,#799cf8 21.1%,#7597f6 21.3%,#779af7 21.5%,#86a9fc 21.8%,#b6cefa 22.0%,#c1d4f4 22.2%,#c7d7f0 22.4%,#bbd1f8 22.7%,#9dbdff 22.9%,#84a7fc 23.1%,#90b2fe 23.4%,#86a9fc 23.6%,#82a6fb 23.8%,#a6c4fe 24.0%,#aec9fc 24.3%,#aac7fd 24.5%,#a5c3fe 24.7%,#98b9ff 24.9%,#7a9df8 25.2%,#7396f5 25.4%,#7699f6 25.6%,#84a7fc 25.9%,#82a6fb 26.1%,#8fb1fe 26.3%,#9ebeff 26.5%,#92b4fe 26.8%,#82a6fb 27.0%,#81a4fb 27.2%,#7295f4 27.4%,#7295f4 27.7%,#688aef 27.9%,#7093f3 28.1%,#6e90f2 28.3%,#6180e9 28.6%,#5f7fe8 28.8%,#6788ee 29.0%,#5d7ce6 29.3%,#4961d2 29.5%,#4a63d3 29.7%,#4c66d6 29.9%,#6c8ff1 30.2%,#6b8df0 30.4%,#6282ea 30.6%,#779af7 30.8%,#86a9fc 31.1%,#93b5fe 31.3%,#9dbdff 31.5%,#b6cefa 31.7%,#ccd9ed 32.0%,#c7d7f0 32.2%,#c1d4f4 32.4%,#f59c7d 32.7%,#e0654f 32.9%,#e97a5f 33.1%,#f39778 33.3%,#f7aa8c 33.6%,#f7b093 33.8%,#f7b093 34.0%,#f7b093 34.2%,#f7ba9f 34.5%,#f4c5ad 34.7%,#ead5c9 34.9%,#e4d9d2 35.1%,#edd2c3 35.4%,#ead5c9 35.6%,#edd1c2 35.8%,#e5d8d1 36.1%,#d9dce1 36.3%,#c7d7f0 36.5%,#9ebeff 36.7%,#9ebeff 37.0%,#a3c2fe 37.2%,#82a6fb 37.4%,#bcd2f7 37.6%,#c4d5f3 37.9%,#c1d4f4 38.1%,#c6d6f1 38.3%,#c1d4f4 38.5%,#d6dce4 38.8%,#dddcdc 39.0%,#d7dce3 39.2%,#cfdaea 39.5%,#c6d6f1 39.7%,#c1d4f4 39.9%,#aec9fc 40.1%,#a9c6fd 40.4%,#b2ccfb 40.6%,#97b8ff 40.8%,#6e90f2 41.0%,#5673e0 41.3%,#6485ec 41.5%,#6b8df0 41.7%,#7a9df8 42.0%,#a1c0ff 42.2%,#aec9fc 42.4%,#9fbfff 42.6%,#b9d0f9 42.9%,#d6dce4 43.1%,#e2dad5 43.3%,#d1dae9 43.5%,#bfd3f6 43.8%,#bad0f8 44.0%,#c0d4f5 44.2%,#b3cdfb 44.4%,#a7c5fe 44.7%,#c4d5f3 44.9%,#b6cefa 45.1%,#a9c6fd 45.4%,#b9d0f9 45.6%,#b5cdfa 45.8%,#b9d0f9 46.0%,#bed2f6 46.3%,#a1c0ff 46.5%,#94b6ff 46.7%,#98b9ff 46.9%,#a1c0ff 47.2%,#a6c4fe 47.4%,#96b7ff 47.6%,#85a8fc 47.8%,#779af7 48.1%,#7597f6 48.3%,#aac7fd 48.5%,#bad0f8 48.8%,#c1d4f4 49.0%,#aec9fc 49.2%,#aec9fc 49.4%,#c6d6f1 49.7%,#d6dce4 49.9%,#cedaeb 50.1%,#a9c6fd 50.3%,#85a8fc 50.6%,#6687ed 50.8%,#81a4fb 51.0%,#abc8fd 51.2%,#b9d0f9 51.5%,#abc8fd 51.7%,#a5c3fe 51.9%,#9dbdff 52.2%,#a1c0ff 52.4%,#9abbff 52.6%,#9abbff 52.8%,#97b8ff 53.1%,#84a7fc 53.3%,#779af7 53.5%,#6c8ff1 53.7%,#6180e9 54.0%,#7396f5 54.2%,#6a8bef 54.4%,#6e90f2 54.6%,#5b7ae5 54.9%,#7295f4 55.1%,#94b6ff 55.3%,#8caffe 55.6%,#82a6fb 55.8%,#86a9fc 56.0%,#92b4fe 56.2%,#8db0fe 56.5%,#94b6ff 56.7%,#abc8fd 56.9%,#aec9fc 57.1%,#93b5fe 57.4%,#7597f6 57.6%,#6687ed 57.8%,#7699f6 58.0%,#93b5fe 58.3%,#b9d0f9 58.5%,#c4d5f3 58.7%,#c3d5f4 59.0%,#b7cff9 59.2%,#bed2f6 59.4%,#c7d7f0 59.6%,#bfd3f6 59.9%,#a3c2fe 60.1%,#9fbfff 60.3%,#a5c3fe 60.5%,#9fbfff 60.8%,#90b2fe 61.0%,#85a8fc 61.2%,#6b8df0 61.5%,#b5cdfa 61.7%,#e7d7ce 61.9%,#e3d9d3 62.1%,#d8dce2 62.4%,#d1dae9 62.6%,#c5d6f2 62.8%,#bfd3f6 63.0%,#bcd2f7 63.3%,#c0d4f5 63.5%,#d4dbe6 63.7%,#d2dbe8 63.9%,#d3dbe7 64.2%,#d4dbe6 64.4%,#cfdaea 64.6%,#c3d5f4 64.9%,#b7cff9 65.1%,#b3cdfb 65.3%,#abc8fd 65.5%,#8badfd 65.8%,#90b2fe 66.0%,#a1c0ff 66.2%,#9bbcff 66.4%,#a5c3fe 66.7%,#abc8fd 66.9%,#abc8fd 67.1%,#a3c2fe 67.3%,#92b4fe 67.6%,#93b5fe 67.8%,#c7d7f0 68.0%,#e8d6cc 68.3%,#e6d7cf 68.5%,#dedcdb 68.7%,#d8dce2 68.9%,#d6dce4 69.2%,#dedcdb 69.4%,#e9d5cb 69.6%,#e3d9d3 69.8%,#c3d5f4 70.1%,#bcd2f7 70.3%,#d8dce2 70.5%,#e3d9d3 70.7%,#e5d8d1 71.0%,#e1dad6 71.2%,#d1dae9 71.4%,#c1d4f4 71.7%,#cfdaea 71.9%,#d1dae9 72.1%,#bed2f6 72.3%,#b3cdfb 72.6%,#b7cff9 72.8%,#cedaeb 73.0%,#d1dae9 73.2%,#dcdddd 73.5%,#edd2c3 73.7%,#dbdcde 73.9%,#dbdcde 74.1%,#dedcdb 74.4%,#d2dbe8 74.6%,#bcd2f7 74.8%,#c0d4f5 75.1%,#c7d7f0 75.3%,#e8d6cc 75.5%,#f2cbb7 75.7%,#f2c9b4 76.0%,#f0cdbb 76.2%,#e4d9d2 76.4%,#e0dbd8 76.6%,#cbd8ee 76.9%,#96b7ff 77.1%,#aac7fd 77.3%,#bbd1f8 77.6%,#cbd8ee 77.8%,#c5d6f2 78.0%,#c3d5f4 78.2%,#cfdaea 78.5%,#d4dbe6 78.7%,#dbdcde 78.9%,#f3c8b2 79.1%,#f1ccb8 79.4%,#f5c4ac 79.6%,#f4c5ad 79.8%,#f5c0a7 80.0%,#f7b89c 80.3%,#f6bfa6 80.5%,#eed0c0 80.7%,#dedcdb 81.0%,#d7dce3 81.2%,#d5dbe5 81.4%,#d9dce1 81.6%,#d8dce2 81.9%,#d3dbe7 82.1%,#d1dae9 82.3%,#d4dbe6 82.5%,#cfdaea 82.8%,#d2dbe8 83.0%,#adc9fd 83.2%,#b9d0f9 83.4%,#bfd3f6 83.7%,#c1d4f4 83.9%,#c3d5f4 84.1%,#c0d4f5 84.4%,#bbd1f8 84.6%,#b9d0f9 84.8%,#b6cefa 85.0%,#b5cdfa 85.3%,#b1cbfc 85.5%,#aac7fd 85.7%,#b3cdfb 85.9%,#c1d4f4 86.2%,#c7d7f0 86.4%,#ccd9ed 86.6%,#bcd2f7 86.8%,#c6d6f1 87.1%,#cad8ef 87.3%,#cad8ef 87.5%,#cbd8ee 87.8%,#c6d6f1 88.0%,#c0d4f5 88.2%,#b1cbfc 88.4%,#b9d0f9 88.7%,#bad0f8 88.9%,#a1c0ff 89.1%,#92b4fe 89.3%,#6788ee 89.6%,#8fb1fe 89.8%,#96b7ff 90.0%,#9abbff 90.2%,#9fbfff 90.5%,#9ebeff 90.7%,#9abbff 90.9%,#9abbff 91.2%,#a3c2fe 91.4%,#adc9fd 91.6%,#b5cdfa 91.8%,#b6cefa 92.1%,#b2ccfb 92.3%,#98b9ff 92.5%,#98b9ff 92.7%,#9fbfff 93.0%,#a1c0ff 93.2%,#aac7fd 93.4%,#b6cefa 93.7%,#bfd3f6 93.9%,#bed2f6 94.1%,#b7cff9 94.3%,#b6cefa 94.6%,#b6cefa 94.8%,#bcd2f7 95.0%,#bfd3f6 95.2%,#b7cff9 95.5%,#aac7fd 95.7%,#adc9fd 95.9%,#aec9fc 96.1%,#a7c5fe 96.4%,#a3c2fe 96.6%,#a2c1ff 96.8%,#9abbff 97.1%,#92b4fe 97.3%,#9fbfff 97.5%,#afcafc 97.7%,#b2ccfb 98.0%,#b7cff9 98.2%,#b5cdfa 98.4%,#aac7fd 98.6%,#8badfd 98.9%,#84a7fc 99.1%,#84a7fc 99.3%,#85a8fc 99.5%,#88abfd 99.8%,#89acfd 100.0%)"></div>
<div class="hmcol" style="left:491.86px;width:61.14px;background:linear-gradient(to bottom,#edd1c2 0.0%,#f2cab5 0.2%,#f4c5ad 0.5%,#f6bfa6 0.7%,#f5c0a7 0.9%,#f5c2aa 1.1%,#f4c6af 1.4%,#eed0c0 1.6%,#e0dbd8 1.8%,#cad8ef 2.0%,#a3c2fe 2.3%,#81a4fb 2.5%,#82a6fb 2.7%,#90b2fe 2.9%,#a2c1ff 3.2%,#aac7fd 3.4%,#b3cdfb 3.6%,#b9d0f9 3.9%,#b5cdfa 4.1%,#aec9fc 4.3%,#adc9fd 4.5%,#aac7fd 4.8%,#97b8ff 5.0%,#a7c5fe 5.2%,#b5cdfa 5.4%,#bed2f6 5.7%,#cedaeb 5.9%,#dbdcde 6.1%,#e8d6cc 6.3%,#f2c9b4 6.6%,#f6bea4 6.8%,#f7bca1 7.0%,#f6bfa6 7.3%,#f7b599 7.5%,#f7ac8e 7.7%,#f5a081 7.9%,#f7b093 8.2%,#f7ba9f 8.4%,#f7b89c 8.6%,#f7ac8e 8.8%,#f7ac8e 9.1%,#f6bea4 9.3%,#f6bea4 9.5%,#f7b99e 9.8%,#f7b79b 10.0%,#f7af91 10.2%,#f7a889 10.4%,#f7a688 10.7%,#f7a98b 10.9%,#f7a889 11.1%,#f5a081 11.3%,#f7aa8c 11.6%,#f7b99e 11.8%,#f3c8b2 12.0%,#f0cdbb 12.2%,#f3c8b2 12.5%,#f1cdba 12.7%,#ead4c8 12.9%,#e7d7ce 13.2%,#e6d7cf 13.4%,#ecd3c5 13.6%,#f1cdba 13.8%,#f4c6af 14.1%,#f5c1a9 14.3%,#f5c0a7 14.5%,#f5c2aa 14.7%,#f6bea4 15.0%,#f5c0a7 15.2%,#f5c2aa 15.4%,#f3c7b1 15.6%,#f0cdbb 15.9%,#e9d5cb 16.1%,#e4d9d2 16.3%,#dfdbd9 16.6%,#e6d7cf 16.8%,#f7bca1 17.0%,#f7b497 17.2%,#f7af91 17.5%,#f7a889 17.7%,#f6a283 17.9%,#f49a7b 18.1%,#f6a586 18.4%,#f7b497 18.6%,#f7bca1 18.8%,#f7ba9f 19.0%,#f6bda2 19.3%,#f6bea4 19.5%,#f7b99e 19.7%,#f7b89c 20.0%,#f7ba9f 20.2%,#f5c0a7 20.4%,#f2c9b4 20.6%,#eed0c0 20.9%,#f2cbb7 21.1%,#f7a889 21.3%,#f39778 21.5%,#f18d6f 21.8%,#f39475 22.0%,#f49a7b 22.2%,#f59f80 22.4%,#f39577 22.7%,#f39778 22.9%,#f5c4ac 23.1%,#dedcdb 23.4%,#ccd9ed 23.6%,#c7d7f0 23.8%,#c9d7f0 24.0%,#cedaeb 24.3%,#e8d6cc 24.5%,#f0cdbb 24.7%,#f3c7b1 24.9%,#f4c6af 25.2%,#efcebd 25.4%,#e7d7ce 25.6%,#dddcdc 25.9%,#d8dce2 26.1%,#d3dbe7 26.3%,#d2dbe8 26.5%,#cbd8ee 26.8%,#cad8ef 27.0%,#cfdaea 27.2%,#d8dce2 27.4%,#e0dbd8 27.7%,#e6d7cf 27.9%,#e7d7ce 28.1%,#e6d7cf 28.3%,#e5d8d1 28.6%,#e3d9d3 28.8%,#e7d7ce 29.0%,#ead5c9 29.3%,#e8d6cc 29.5%,#e7d7ce 29.7%,#dfdbd9 29.9%,#d4dbe6 30.2%,#d8dce2 30.4%,#e9d5cb 30.6%,#f2c9b4 30.8%,#f1cdba 31.1%,#e8d6cc 31.3%,#e6d7cf 31.5%,#f1cdba 31.7%,#f39577 32.0%,#ec8165 32.2%,#e0654f 32.4%,#d1493f 32.7%,#ca3b37 32.9%,#c43032 33.1%,#c32e31 33.3%,#c73635 33.6%,#c83836 33.8%,#c53334 34.0%,#c73635 34.2%,#cc403a 34.5%,#d1493f 34.7%,#d55042 34.9%,#d65244 35.1%,#df634e 35.4%,#e36b54 35.6%,#e46e56 35.8%,#e26952 36.1%,#de614d 36.3%,#e16751 36.5%,#e46e56 36.7%,#ee8669 37.0%,#ee8669 37.2%,#e46e56 37.4%,#d65244 37.6%,#d95847 37.9%,#dc5d4a 38.1%,#d85646 38.3%,#dc5d4a 38.5%,#e36b54 38.8%,#e7745b 39.0%,#f18f71 39.2%,#f6a385 39.5%,#f7ad90 39.7%,#f7b89c 39.9%,#f2c9b4 40.1%,#f0cdbb 40.4%,#e8d6cc 40.6%,#dfdbd9 40.8%,#d3dbe7 41.0%,#cfdaea 41.3%,#e0dbd8 41.5%,#e8d6cc 41.7%,#e2dad5 42.0%,#dfdbd9 42.2%,#e5d8d1 42.4%,#ead5c9 42.6%,#eed0c0 42.9%,#f1ccb8 43.1%,#f2cab5 43.3%,#f2cbb7 43.5%,#f2cbb7 43.8%,#f2cbb7 44.0%,#eed0c0 44.2%,#e8d6cc 44.4%,#f7b99e 44.7%,#f6a385 44.9%,#f49a7b 45.1%,#f39778 45.4%,#f39577 45.6%,#f49a7b 45.8%,#f59d7e 46.0%,#f5a081 46.3%,#f59f80 46.5%,#f6a283 46.7%,#f7aa8c 46.9%,#f7b396 47.2%,#f7b89c 47.4%,#f7bca1 47.6%,#f5c2aa 47.8%,#f2cab5 48.1%,#f7bca1 48.3%,#f7b79b 48.5%,#f5c4ac 48.8%,#f0cdbb 49.0%,#f5c1a9 49.2%,#f7aa8c 49.4%,#f59d7e 49.7%,#f59d7e 49.9%,#f6a586 50.1%,#f7b093 50.3%,#f6bea4 50.6%,#efcebd 50.8%,#edd2c3 51.0%,#ead4c8 51.2%,#e5d8d1 51.5%,#dfdbd9 51.7%,#d5dbe5 51.9%,#c5d6f2 52.2%,#cbd8ee 52.4%,#dedcdb 52.6%,#dadce0 52.8%,#d2dbe8 53.1%,#c9d7f0 53.3%,#bbd1f8 53.5%,#c9d7f0 53.7%,#d1dae9 54.0%,#e3d9d3 54.2%,#e8d6cc 54.4%,#d9dce1 54.6%,#c6d6f1 54.9%,#c6d6f1 55.1%,#c9d7f0 55.3%,#c6d6f1 55.6%,#c6d6f1 55.8%,#c7d7f0 56.0%,#c0d4f5 56.2%,#b6cefa 56.5%,#b1cbfc 56.7%,#cfdaea 56.9%,#e9d5cb 57.1%,#efcfbf 57.4%,#f1ccb8 57.6%,#f7ba9f 57.8%,#f7b194 58.0%,#f59c7d 58.3%,#ef886b 58.5%,#f39778 58.7%,#f59d7e 59.0%,#f7a688 59.2%,#f7b497 59.4%,#f6bfa6 59.6%,#f3c7b1 59.9%,#f1ccb8 60.1%,#f2cbb7 60.3%,#f2cbb7 60.5%,#efcfbf 60.8%,#ead5c9 61.0%,#e5d8d1 61.2%,#efcebd 61.5%,#f7bca1 61.7%,#f7af91 61.9%,#f7b093 62.1%,#f7b497 62.4%,#f7b497 62.6%,#f6bda2 62.8%,#f4c6af 63.0%,#f2cbb7 63.3%,#f2c9b4 63.5%,#f4c6af 63.7%,#f3c8b2 63.9%,#f2cab5 64.2%,#f1ccb8 64.4%,#f1ccb8 64.6%,#f5c4ac 64.9%,#f7b194 65.1%,#f4987a 65.3%,#f5a081 65.5%,#f7aa8c 65.8%,#f7b79b 66.0%,#f6bfa6 66.2%,#f5c4ac 66.4%,#f6bda2 66.7%,#f7bca1 66.9%,#f1ccb8 67.1%,#d4dbe6 67.3%,#b7cff9 67.6%,#b9d0f9 67.8%,#dddcdc 68.0%,#dcdddd 68.3%,#c4d5f3 68.5%,#b7cff9 68.7%,#bbd1f8 68.9%,#c1d4f4 69.2%,#d1dae9 69.4%,#d5dbe5 69.6%,#9fbfff 69.8%,#aec9fc 70.1%,#d3dbe7 70.3%,#e9d5cb 70.5%,#f2cbb7 70.7%,#f5c2aa 71.0%,#f6bda2 71.2%,#f6bda2 71.4%,#f7b599 71.7%,#f7a889 71.9%,#f6a283 72.1%,#f7a889 72.3%,#f7b396 72.6%,#f6bea4 72.8%,#f3c7b1 73.0%,#f4c6af 73.2%,#f7bca1 73.5%,#f7ad90 73.7%,#f6a586 73.9%,#f7aa8c 74.1%,#f7ad90 74.4%,#f7b396 74.6%,#f7b497 74.8%,#f7ad90 75.1%,#f5a081 75.3%,#ee8468 75.5%,#ec8165 75.7%,#f39778 76.0%,#f7aa8c 76.2%,#f7b497 76.4%,#f5c4ac 76.6%,#f2c9b4 76.9%,#f7bca1 77.1%,#f7af91 77.3%,#f7af91 77.6%,#f7af91 77.8%,#f7b89c 78.0%,#f6bda2 78.2%,#f7b79b 78.5%,#f7ad90 78.7%,#f4987a 78.9%,#f08a6c 79.1%,#f08a6c 79.4%,#f29274 79.6%,#f59d7e 79.8%,#f6a385 80.0%,#f6a586 80.3%,#f49a7b 80.5%,#f4987a 80.7%,#f59d7e 81.0%,#f49a7b 81.2%,#ec8165 81.4%,#e97a5f 81.6%,#ee8669 81.9%,#f29072 82.1%,#f39577 82.3%,#f59d7e 82.5%,#f7ad90 82.8%,#f5c2aa 83.0%,#f7ac8e 83.2%,#f59c7d 83.4%,#f49a7b 83.7%,#f49a7b 83.9%,#f4987a 84.1%,#f5a081 84.4%,#f6a586 84.6%,#f6a586 84.8%,#f7a688 85.0%,#f4987a 85.3%,#f6a385 85.5%,#f7a98b 85.7%,#f7ad90 85.9%,#f7ad90 86.2%,#f7a889 86.4%,#f7aa8c 86.6%,#f7ac8e 86.8%,#f7b194 87.1%,#f7b497 87.3%,#f6bda2 87.5%,#f3c7b1 87.8%,#ecd3c5 88.0%,#dfdbd9 88.2%,#dcdddd 88.4%,#e4d9d2 88.7%,#e8d6cc 88.9%,#f1cdba 89.1%,#f7b599 89.3%,#f7a98b 89.6%,#f7b497 89.8%,#f7ba9f 90.0%,#f6bea4 90.2%,#f6bea4 90.5%,#f5c1a9 90.7%,#f5c4ac 90.9%,#f1ccb8 91.2%,#ead5c9 91.4%,#e9d5cb 91.6%,#f3c7b1 91.8%,#f7b194 92.1%,#f6a283 92.3%,#f59c7d 92.5%,#f59d7e 92.7%,#f49a7b 93.0%,#f49a7b 93.2%,#f59f80 93.4%,#f6a283 93.7%,#f7a688 93.9%,#f7ac8e 94.1%,#f7b093 94.3%,#f7ba9f 94.6%,#f7b99e 94.8%,#f7b396 95.0%,#f7a889 95.2%,#f39778 95.5%,#f59c7d 95.7%,#f5a081 95.9%,#f7b396 96.1%,#f6bda2 96.4%,#f7ba9f 96.6%,#f7b194 96.8%,#f5c0a7 97.1%,#f4c5ad 97.3%,#f5c1a9 97.5%,#f2c9b4 97.7%,#eed0c0 98.0%,#ebd3c6 98.2%,#efcebd 98.4%,#f2c9b4 98.6%,#efcebd 98.9%,#e8d6cc 99.1%,#ead4c8 99.3%,#f0cdbb 99.5%,#f1ccb8 99.8%,#f1cdba 100.0%)"></div>
<div class="hmcol" style="left:579.2px;width:22.5px;background:linear-gradient(to bottom,#b40426 0.0%,#bd1f2d 2.5%,#c53334 5.0%,#cf453c 7.5%,#d65244 10.0%,#dd5f4b 12.5%,#e36c55 15.0%,#e9785d 17.5%,#ee8468 20.0%,#f18f71 22.5%,#f4987a 25.0%,#f6a385 27.5%,#f7ac8e 30.0%,#f7b599 32.5%,#f6bda2 35.0%,#f5c4ac 37.5%,#f2cbb7 40.0%,#eed0c0 42.5%,#e9d5cb 45.0%,#e3d9d3 47.5%,#dddcdc 50.0%,#d6dce4 52.5%,#cfdaea 55.0%,#c7d7f0 57.5%,#c0d4f5 60.0%,#b9d0f9 62.5%,#afcafc 65.0%,#a7c5fe 67.5%,#9ebeff 70.0%,#96b7ff 72.5%,#8db0fe 75.0%,#84a7fc 77.5%,#7b9ff9 80.0%,#7295f4 82.5%,#6a8bef 85.0%,#6282ea 87.5%,#5977e3 90.0%,#516ddb 92.5%,#4961d2 95.0%,#4257c9 97.5%,#3b4cc0 100.0%)"></div>
<svg width="685" height="1158" viewBox="0 0 685 1158">
<line x1="40" y1="62.0" x2="685" y2="62.0" stroke="#ebebeb" stroke-width="1"/>
<line x1="40" y1="114.9" x2="685" y2="114.9" stroke="#ebebeb" stroke-width="1"/>
<line x1="40" y1="167.5" x2="685" y2="167.5" stroke="#ebebeb" stroke-width="1"/>
<line x1="40" y1="220.4" x2="685" y2="220.4" stroke="#ebebeb" stroke-width="1"/>
<line x1="106.4" y1="9" x2="106.4" y2="327" stroke="#ebebeb" stroke-width="1"/>
<line x1="228.4" y1="9" x2="228.4" y2="327" stroke="#ebebeb" stroke-width="1"/>
<line x1="350.4" y1="9" x2="350.4" y2="327" stroke="#ebebeb" stroke-width="1"/>
<line x1="472.5" y1="9" x2="472.5" y2="327" stroke="#ebebeb" stroke-width="1"/>
<line x1="594.4" y1="9" x2="594.4" y2="327" stroke="#ebebeb" stroke-width="1"/>
<line x1="40" y1="273.3" x2="685" y2="273.3" stroke="#bfbfbf" stroke-width="1"/>
<polyline fill="none" stroke="#3d6fbd" stroke-width="2.7" stroke-linejoin="miter" stroke-linecap="butt" points="40.9,140.9 41.9,134.1 42.9,129.1 43.1,128.1 43.9,124.2 44.9,122.0 44.9,122.3 45.9,121.9 46.6,128.1 46.9,129.4 47.9,129.3 48.4,130.8 48.9,132.4 49.9,132.3 50.1,132.5 50.9,132.8 51.9,139.9 51.9,140.0 52.9,153.0 53.6,161.0 53.9,166.6 54.9,173.3 55.4,176.4 55.9,181.7 56.9,182.1 57.2,180.4 57.9,164.8 58.0,159.7 58.9,153.2 59.8,141.2 59.9,139.7 60.9,138.8 61.5,133.0 61.9,134.2 62.9,128.1 63.3,129.6 63.9,125.5 64.9,125.9 65.0,125.6 65.9,128.3 66.8,133.9 66.9,133.3 67.9,137.2 68.5,137.4 68.9,134.9 69.9,134.9 70.3,139.5 70.9,145.6 71.9,146.3 72.0,144.8 72.9,151.9 73.8,153.0 73.9,152.9 74.9,154.9 75.5,155.6 75.9,156.9 76.9,160.6 77.3,166.2 77.9,164.9 78.9,165.2 79.1,162.6 79.9,150.9 80.8,144.3 80.9,147.5 81.9,136.8 82.6,130.1 82.9,126.2 83.9,119.1 84.3,118.0 84.9,115.6 85.9,119.3 86.1,117.1 86.9,119.7 87.8,124.0 87.9,125.8 88.9,118.8 89.6,115.8 89.9,116.1 90.9,111.6 91.3,108.1 91.9,111.4 92.9,114.9 93.1,114.4 93.9,106.6 94.8,100.8 94.9,100.0 95.9,101.4 96.6,104.4 96.9,107.1 97.6,106.2 97.9,98.1 98.3,81.4 98.9,83.5 99.9,88.0 100.1,88.3 100.9,89.7 101.8,94.2 101.9,94.6 102.9,92.4 103.6,92.1 103.9,90.9 104.9,94.0 105.3,94.8 105.9,96.1 106.2,101.4 106.9,100.9 107.9,105.4 108.0,103.7 108.9,105.7 109.7,101.4 109.9,101.3 110.9,105.2 111.5,107.8 111.9,109.1 112.9,107.5 113.2,110.0 113.9,111.4 114.9,112.6 115.0,112.7 115.9,118.2 116.7,117.2 116.9,115.7 117.9,119.0 118.5,119.1 118.9,118.4 119.9,118.9 120.2,117.9 120.9,117.5 121.9,117.6 122.0,116.0 122.9,117.2 123.7,120.0 123.9,119.6 124.9,122.9 125.5,122.9 125.9,118.4 126.9,117.5 127.2,115.4 127.9,110.0 128.9,109.9 129.0,109.1 129.9,111.4 130.7,111.3 130.9,109.8 131.9,112.1 132.5,115.9 132.9,116.7 133.9,117.9 134.2,119.9 134.9,116.1 135.9,116.4 136.0,114.9 136.9,116.5 137.7,119.4 137.9,121.4 138.9,125.0 139.5,121.3 139.9,123.6 140.9,126.3 141.2,125.7 141.9,124.4 142.9,127.8 143.0,129.8 143.9,125.2 144.2,126.9 144.9,128.2 145.0,125.4 145.9,121.6 146.8,114.3 146.9,112.2 147.9,102.1 148.5,97.6 148.9,94.7 149.9,88.7 150.3,83.0 150.9,84.4 151.9,88.6 152.0,88.2 152.9,84.4 153.8,85.9 153.9,84.7 154.9,85.0 155.5,84.2 155.9,85.6 156.9,82.1 157.3,78.4 157.9,77.9 158.9,83.8 159.0,83.6 159.9,88.4 160.8,89.7 160.9,88.2 161.9,93.0 162.5,91.9 162.9,90.1 163.9,101.9 164.3,99.6 164.9,103.4 165.9,108.0 166.0,107.1 166.9,105.3 167.8,110.7 167.9,108.1 168.9,112.2 169.5,117.8 169.9,121.5 170.9,126.4 171.3,128.7 171.9,130.8 172.9,136.7 173.0,136.7 173.9,140.1 174.8,145.6 174.9,144.4 175.9,141.6 176.5,137.6 176.9,130.2 177.9,111.2 177.9,109.8 178.9,104.4 179.2,101.7 179.9,101.3 180.9,93.4 180.9,92.4 181.9,89.6 182.7,90.5 182.9,92.3 183.9,92.1 184.4,94.1 184.9,96.4 185.9,97.3 186.2,97.2 186.9,97.3 187.9,93.4 187.9,93.1 188.9,94.1 189.7,92.6 189.9,91.2 190.9,91.1 191.4,92.7 191.9,94.6 192.9,96.1 193.2,102.1 193.9,105.9 194.9,113.0 194.9,110.8 195.9,115.6 196.7,115.0 196.9,114.4 197.9,109.0 198.4,109.4 198.9,108.4 199.9,106.6 200.2,107.0 200.9,107.6 201.9,110.2 201.9,108.1 202.9,107.3 203.7,109.7 203.9,111.4 204.9,115.1 205.4,115.0 205.9,110.1 206.9,110.7 207.2,111.7 207.9,110.3 208.9,107.7 208.9,108.5 209.9,107.9 210.7,109.8 210.9,109.5 211.9,112.5 212.4,111.1 212.9,110.5 213.9,115.2 214.2,116.6 214.9,116.2 215.9,117.7 215.9,116.0 216.9,118.2 217.7,116.5 217.9,113.2 218.9,115.9 219.5,121.2 219.9,124.5 220.9,126.7 221.2,128.1 221.9,122.5 222.9,116.2 223.0,119.3 223.9,124.5 224.7,127.8 224.9,130.6 225.9,130.0 226.5,132.2 226.9,133.3 227.9,132.6 228.2,128.3 228.9,129.2 229.9,122.6 230.0,122.7 230.9,120.4 231.7,117.0 231.9,118.5 232.9,121.6 233.5,120.7 233.9,118.9 234.9,117.6 235.2,112.6 235.9,108.3 236.9,106.4 237.0,106.6 237.9,108.2 238.7,105.5 238.9,103.6 239.9,104.4 240.5,109.5 240.9,108.4 241.9,110.8 242.2,113.7 242.9,116.1 243.9,117.6 244.0,116.2 244.9,96.1 244.9,98.3 245.9,82.8 246.1,77.0 246.9,81.1 247.5,81.7 247.9,76.0 248.9,61.7 248.9,61.5 249.9,48.0 250.1,43.8 250.9,42.4 251.9,35.9 251.9,38.5 252.9,35.3 253.6,37.1 253.9,37.3 254.9,42.1 255.4,38.8 255.9,36.6 256.9,38.0 257.2,38.6 257.9,38.7 258.9,41.4 258.9,42.1 259.9,45.3 260.7,41.9 260.9,48.5 261.9,56.3 262.1,53.3 262.9,53.1 263.3,58.7 263.9,62.8 264.9,64.6 265.0,69.4 265.9,71.8 266.8,74.3 266.9,76.3 267.9,81.7 268.5,82.2 268.9,84.7 269.9,89.5 269.9,90.0 270.9,96.0 271.2,98.6 271.9,100.3 272.4,100.7 272.9,106.6 273.8,112.0 273.9,113.1 274.9,115.7 275.2,112.7 275.9,115.8 276.4,120.6 276.9,123.2 277.6,121.1 277.9,121.7 278.9,121.5 279.1,119.4 279.9,110.6 280.5,104.0 280.9,94.0 281.7,88.2 281.9,89.2 282.9,87.9 283.4,87.9 283.9,89.2 284.9,93.6 285.2,95.5 285.9,94.4 286.4,95.8 286.9,90.2 287.8,88.1 287.9,87.8 288.9,86.5 289.6,86.0 289.9,88.6 290.9,91.4 291.0,92.1 291.9,99.2 292.2,105.2 292.9,114.1 293.4,119.1 293.9,125.9 294.8,130.9 294.9,132.7 295.9,137.4 296.2,141.2 296.9,145.9 297.4,145.0 297.9,143.5 298.7,148.2 298.9,150.4 299.9,150.1 300.1,149.9 300.9,152.0 301.8,149.4 301.9,149.8 302.9,152.8 303.2,157.4 303.9,158.8 304.5,161.4 304.9,165.6 305.7,173.2 305.9,175.6 306.9,182.5 307.1,185.0 307.9,185.5 308.8,189.9 308.9,189.4 309.9,192.8 310.2,193.4 310.9,191.5 311.5,193.1 311.9,190.7 312.7,184.5 312.9,181.9 313.9,172.7 314.1,172.4 314.9,177.7 315.8,175.0 315.9,176.0 316.9,170.7 317.6,169.0 317.9,168.9 318.9,168.0 319.3,161.9 319.9,164.2 320.9,168.1 321.1,171.1 321.9,170.8 322.8,172.4 322.9,174.2 323.9,178.3 324.6,172.7 324.9,173.6 325.9,176.5 326.4,176.9 326.9,172.5 327.8,164.8 327.9,163.0 328.9,159.1 329.0,159.0 329.9,153.5 330.2,149.9 330.9,142.2 331.6,132.8 331.9,132.4 332.9,125.8 333.0,123.8 333.9,135.4 334.2,138.8 334.9,145.5 335.5,150.4 335.9,147.9 336.9,150.9 337.9,147.6 338.3,149.8 338.9,146.8 339.5,140.3 339.9,139.4 340.7,131.2 340.9,129.7 341.9,127.1 342.1,127.5 342.9,128.9 343.5,131.4 343.9,130.5 344.7,132.9 344.9,134.5 345.9,131.6 346.1,130.2 346.9,133.8 347.0,135.0 347.9,135.7 348.8,135.7 348.9,137.1 349.9,142.7 350.2,139.0 350.9,139.7 351.4,138.5 351.9,136.4 352.6,137.3 352.9,136.0 353.9,143.2 354.0,145.6 354.9,150.5 355.4,152.0 355.9,151.0 356.6,156.0 356.9,152.3 357.9,152.8 357.9,151.1 358.9,140.4 359.3,137.0 359.9,133.7 360.7,132.7 360.9,131.0 361.9,137.6 361.9,134.9 362.9,139.1 363.1,142.4 363.9,153.4 364.5,160.1 364.9,162.0 365.9,173.6 365.9,174.1 366.9,184.3 367.2,186.6 367.9,194.7 368.4,201.9 368.9,209.1 369.8,219.7 369.9,223.7 370.9,231.3 371.2,232.4 371.9,236.2 372.4,239.7 372.9,240.8 373.6,244.0 373.9,240.9 374.9,239.6 375.0,243.6 375.9,242.6 376.8,242.3 376.9,242.8 377.9,237.8 378.5,236.1 378.9,231.5 379.9,225.0 379.9,223.7 380.9,214.1 381.2,214.4 381.9,212.4 382.4,206.9 382.9,202.9 383.8,199.9 383.9,201.7 384.9,193.1 385.5,189.3 385.9,185.5 386.9,188.3 387.3,183.9 387.9,183.8 388.9,181.5 389.1,180.5 389.9,179.4 390.8,175.6 390.9,177.0 391.9,175.1 392.6,175.4 392.9,173.0 393.9,171.4 394.3,172.7 394.9,175.4 395.9,174.8 396.1,173.3 396.9,172.5 397.8,171.5 397.9,175.3 398.9,173.8 399.6,172.3 399.9,171.6 400.9,168.5 401.3,169.8 401.9,171.7 402.7,168.2 402.9,167.1 403.9,165.8 403.9,163.3 404.9,160.9 405.2,157.6 405.9,146.7 406.2,144.4 406.9,143.0 407.4,142.9 407.9,140.9 408.7,139.8 408.9,138.4 409.7,141.6 409.9,141.0 410.9,156.6 410.9,156.7 411.9,151.7 412.2,149.5 412.9,142.8 413.6,139.0 413.9,137.1 414.9,133.2 415.0,130.3 415.9,129.5 416.2,125.8 416.9,125.5 417.4,122.7 417.9,122.1 418.8,122.0 418.9,121.9 419.9,120.1 420.2,120.4 420.9,122.0 421.5,119.2 421.9,124.0 422.7,130.9 422.9,130.2 423.9,137.8 424.1,137.4 424.9,137.9 425.5,133.7 425.9,131.3 426.7,127.9 426.9,126.8 427.9,126.2 427.9,123.9 428.9,124.4 429.3,124.7 429.9,126.5 430.7,131.0 430.9,131.3 431.9,135.2 432.0,132.8 432.9,134.0 433.2,136.2 433.9,138.5 434.6,139.4 434.9,138.7 435.9,138.5 436.0,137.1 436.9,134.6 437.2,135.1 437.9,131.4 438.5,130.2 438.9,132.7 439.9,129.0 439.9,130.1 440.9,141.5 441.3,149.7 441.9,143.5 442.5,144.0 442.9,142.4 443.7,145.4 443.9,146.2 444.9,149.8 445.1,149.6 445.9,156.7 446.5,161.7 446.9,156.3 447.7,145.7 447.9,143.8 448.9,140.7 449.0,140.8 449.9,143.1 450.4,144.0 450.9,143.1 451.8,150.5 451.9,149.9 452.9,163.0 453.0,165.5 453.9,169.0 454.2,170.8 454.9,158.9 455.0,155.2 455.9,160.2 456.4,161.5 456.9,169.8 457.6,183.0 457.9,190.3 458.9,210.3 458.9,209.3 459.9,220.3 459.9,222.8 460.8,199.0 460.9,197.5 461.9,173.5 462.0,172.1 462.9,167.0 463.4,168.5 463.9,166.3 464.6,164.7 464.9,167.8 465.9,177.1 466.9,188.1 467.3,197.3 467.9,204.0 468.1,205.3 468.9,194.6 469.4,183.3 469.9,181.7 470.8,171.9 470.9,169.9 471.9,168.4 472.2,167.9 472.9,177.6 473.4,184.1 473.9,195.8 474.6,216.1 474.9,221.0 475.9,243.4 476.0,242.3 476.9,261.5 476.9,261.6 477.9,240.3 478.1,236.0 478.9,214.8 479.5,199.3 479.9,198.1 480.9,183.9 480.9,181.3 481.9,184.8 482.2,186.8 482.9,193.7 483.4,195.8 483.9,199.4 484.8,201.4 484.9,199.4 485.9,197.9 486.5,199.1 486.9,195.3 487.9,184.1 487.9,180.9 488.9,170.2 489.2,164.3 489.9,153.4 490.9,145.5 490.9,147.6 491.9,145.9 492.7,137.4 492.9,133.9 493.9,135.6 494.4,130.9 494.9,129.1 495.9,125.1 496.2,125.1 496.9,127.9 497.9,125.0 497.9,124.2 498.9,122.6 499.7,124.6 499.9,122.3 500.9,121.8 501.4,120.1 501.9,118.5 502.9,112.4 503.2,113.0 503.9,114.5 504.9,110.1 504.9,108.2 505.9,108.0 506.7,112.3 506.9,112.4 507.9,115.7 508.4,117.8 508.9,114.1 509.9,115.6 510.2,114.7 510.9,113.4 511.4,112.8 511.9,115.6 512.8,116.5 512.9,114.3 513.9,110.0 514.2,105.4 514.9,99.9 515.4,95.6 515.9,96.4 516.9,94.7 517.2,95.8 517.9,97.5 518.9,97.8 518.9,98.9 519.9,103.4 520.2,103.5 520.9,104.8 521.6,106.6 521.9,108.5 522.9,109.2 523.0,108.6 523.9,109.2 524.2,107.7 524.9,101.9 525.4,96.7 525.9,93.5 526.8,83.0 526.9,83.0 527.9,80.7 528.2,79.9 528.9,81.9 529.5,84.6 529.9,86.7 530.7,91.3 530.9,91.0 531.9,94.8 532.1,95.4 532.9,96.7 533.5,100.9 533.9,103.7 534.7,106.8 534.9,106.4 535.9,108.6 535.9,107.7 536.9,112.1 537.3,110.3 537.9,109.3 538.7,108.3 538.9,110.0 539.9,106.2 540.0,104.5 540.9,103.6 541.2,105.9 541.9,107.6 542.6,109.0 542.9,109.3 543.9,110.8 544.0,112.1 544.9,113.0 545.2,109.8 545.9,110.4 546.4,112.6 546.9,110.7 547.8,103.6 547.9,104.8 548.9,93.8 549.2,91.3 549.9,90.0 550.5,85.4 550.9,79.8 551.7,79.7 551.9,83.1 552.9,78.7 553.1,78.7 553.9,82.8 554.5,81.0 554.9,83.9 555.7,88.1 555.9,84.8 556.9,90.8 557.0,91.2 557.9,95.4 558.4,97.7 558.9,97.0 559.8,93.3 559.9,93.7 560.9,89.2 561.0,89.3 561.9,83.4 562.2,82.8 562.9,79.0 563.6,82.6 563.9,82.3 564.9,80.0 565.0,80.0 565.9,78.2 566.2,77.9 566.9,79.8 567.5,82.0 567.9,91.0 568.5,99.3 568.9,97.2 569.9,96.4 570.3,98.8 570.9,99.7 571.9,100.3 572.0,100.4 572.9,109.3 573.8,111.8 573.9,111.8 574.9,119.7 575.2,126.4 575.9,117.8 576.4,111.6 576.9,99.1 577.6,83.2 577.9,82.3 578.9,79.4 579.0,81.4 579.9,79.3 580.4,79.3 580.9,85.7 581.6,83.1 581.9,81.7 582.9,80.3 582.9,81.4 583.9,95.6 583.9,96.1 584.9,102.0 585.1,102.0 585.9,99.2 586.4,101.9 586.9,105.4 587.8,105.5 587.9,103.4 588.9,93.2 589.2,87.9 589.9,87.4 590.4,85.7 590.9,92.1 591.6,103.7 591.9,104.3 592.9,109.8 593.0,111.4 593.9,113.8 594.4,111.1 594.9,110.2 595.7,111.6 595.9,109.9 596.9,110.2 596.9,111.2 597.9,112.6 598.3,112.9 598.9,113.7 599.7,114.2 599.9,112.6 600.9,115.5 600.9,114.3 601.9,110.3 602.1,109.6 602.9,111.8 603.5,115.8 603.9,117.5 604.9,115.4 604.9,114.2 605.9,111.5 606.2,109.1 606.9,114.5 607.4,117.0 607.9,118.0 608.8,119.4 608.9,120.5 609.9,131.0 610.2,130.0 610.9,132.6 611.4,138.0 611.9,137.7 612.6,136.6 612.9,139.3 613.9,136.1 614.1,134.8 614.9,129.1 615.5,127.1 615.9,126.4 616.7,124.1 616.9,126.3 617.9,129.4 617.9,127.3 618.9,130.6 619.3,129.1 619.9,132.2 620.7,134.5 620.9,133.5 621.9,133.7 621.9,135.0 622.9,134.2 623.2,137.0 623.9,138.5 624.6,137.8 624.9,138.8 625.9,142.4 626.0,142.1 626.9,148.4 627.2,147.9 627.9,152.9 628.4,157.6 628.9,161.2 629.8,167.9 629.9,169.3 630.9,172.0 631.2,170.9 631.9,155.7 632.4,147.0 632.9,142.9 633.7,138.3 633.9,140.4 634.9,134.0 635.1,133.6 635.9,132.7 636.5,129.7 636.9,128.1 637.7,127.3 637.9,129.3 638.9,125.3 638.9,127.6 639.9,127.3 640.3,127.6 640.9,142.8 641.2,147.4 641.9,159.1 642.1,165.3 642.9,172.6 643.0,174.5 643.8,164.6 643.9,164.6 644.7,147.9 644.9,148.6 645.9,155.0 645.9,156.3 646.9,161.0 647.0,166.1 647.9,170.4 648.2,168.6 648.9,164.0 649.4,165.0 649.9,163.7 650.8,163.4 650.9,164.8 651.7,154.5 651.9,153.6 652.9,145.7 652.9,145.3 653.9,145.7 654.3,143.2 654.9,138.5 655.7,130.1 655.9,133.6 656.9,123.1 657.0,120.5 657.9,119.2 658.2,121.9 658.9,124.3 659.6,129.3 659.9,128.2 660.9,133.0 661.0,135.1 661.9,134.8 662.2,137.3 662.9,133.4 663.5,128.5 663.9,121.8 664.9,111.0 664.9,109.1 665.9,107.7 666.3,104.4 666.9,108.2 667.5,110.3 667.9,110.1 668.7,117.6 668.9,117.4 669.9,119.7 670.1,122.2 670.9,126.0 671.5,130.7 671.9,133.3 672.7,132.7 672.9,132.0 673.9,131.0 674.0,131.5 674.9,125.1 675.4,129.1 675.9,128.4 676.8,130.1 676.9,129.1 677.9,134.6 678.0,136.9 678.9,151.6 679.2,155.0 679.9,156.0 680.6,166.9 680.9,163.5 681.9,162.5 682.0,163.3 682.9,157.1 683.2,157.6 683.9,157.3 684.5,159.5 684.9,159.4 685.0,159.3"/>
<polyline fill="none" stroke="#e3862f" stroke-width="2.7" stroke-linejoin="miter" stroke-linecap="butt" points="40.9,153.1 41.9,143.9 42.9,137.0 43.1,134.2 43.9,131.6 44.9,129.1 44.9,128.9 45.9,132.8 46.6,133.6 46.9,132.2 47.9,133.2 48.4,136.2 48.9,139.8 49.9,143.1 50.1,137.9 50.9,157.1 51.0,158.7 51.9,166.4 52.9,172.1 53.6,176.3 53.9,180.6 54.9,204.6 54.9,202.7 55.9,223.0 56.3,229.8 56.9,233.5 57.9,239.6 58.0,239.7 58.9,228.3 59.8,220.5 59.9,220.5 60.9,204.1 61.5,194.7 61.9,191.4 62.9,173.7 62.9,174.0 63.9,170.8 64.2,169.8 64.9,173.8 65.9,176.2 65.9,177.2 66.9,181.9 67.7,185.4 67.9,186.6 68.9,194.3 69.4,192.3 69.9,194.0 70.9,194.3 71.2,197.5 71.9,201.7 72.9,205.4 72.9,202.4 73.9,204.8 74.7,209.1 74.9,209.1 75.9,214.9 75.9,212.3 76.9,216.5 77.3,216.4 77.9,211.6 78.7,201.9 78.9,199.7 79.9,186.1 79.9,185.4 80.9,175.7 81.7,167.3 81.9,168.2 82.9,172.9 83.4,169.6 83.9,163.6 84.9,153.1 85.2,152.4 85.9,147.8 86.9,148.7 86.9,148.7 87.9,147.2 88.7,146.0 88.9,146.6 89.9,146.0 90.4,145.5 90.9,145.2 91.9,150.3 92.2,148.8 92.9,152.7 93.9,146.7 93.9,150.5 94.9,141.7 95.7,138.4 95.9,135.1 96.9,138.4 97.4,133.3 97.9,138.6 98.9,139.2 99.2,138.5 99.9,138.7 100.9,141.5 101.8,138.2 101.9,132.9 102.9,134.5 103.6,131.6 103.9,127.7 104.9,129.1 105.3,126.3 105.9,125.7 106.9,123.3 107.1,121.7 107.9,120.1 108.8,114.3 108.9,115.2 109.9,115.3 110.6,116.7 110.9,120.5 111.9,118.3 112.3,116.1 112.9,115.8 113.9,113.9 114.1,115.1 114.9,118.6 115.8,122.5 115.9,122.7 116.9,128.5 117.6,134.9 117.9,138.4 118.9,141.7 119.3,144.9 119.9,143.1 120.9,141.4 121.1,139.8 121.9,140.6 122.8,145.1 122.9,142.3 123.9,147.5 124.6,153.4 124.9,155.6 125.9,159.8 126.4,159.1 126.9,154.5 127.9,153.1 128.1,151.9 128.9,149.8 129.9,145.4 129.9,146.7 130.9,154.9 131.6,160.4 131.9,160.7 132.9,169.7 133.4,171.1 133.9,165.9 134.9,158.4 135.1,153.2 135.9,144.4 136.9,139.5 137.9,141.7 138.6,141.6 138.9,141.6 139.9,143.4 140.9,144.2 141.2,144.3 141.9,152.6 142.9,158.1 143.0,158.6 143.9,168.4 143.9,171.6 144.9,173.8 145.0,171.4 145.9,170.5 146.8,170.2 146.9,172.4 147.9,175.5 148.2,180.7 148.9,161.8 149.4,147.8 149.9,141.7 150.9,132.0 151.1,129.8 151.9,126.8 152.9,123.9 152.9,121.7 153.9,122.9 154.6,123.4 154.9,120.3 155.9,121.9 156.4,124.7 156.9,122.0 157.9,125.4 158.1,128.0 158.9,123.9 159.9,124.2 159.9,125.6 160.9,127.4 161.6,124.7 161.9,127.6 162.9,128.1 163.4,129.1 163.9,130.6 164.9,129.1 165.1,128.4 165.9,124.0 166.9,122.4 166.9,124.1 167.9,127.2 168.6,131.9 168.9,129.8 169.9,139.3 170.4,143.3 170.9,144.9 171.9,158.4 172.2,159.5 172.9,166.7 173.9,172.6 173.9,169.2 174.9,170.7 175.7,180.1 175.9,176.6 176.9,165.4 177.4,163.0 177.9,150.2 178.6,126.9 178.9,125.2 179.9,119.9 180.0,118.9 180.9,116.2 181.8,109.9 181.9,109.2 182.9,108.9 183.5,107.1 183.9,109.6 184.9,109.4 185.3,110.0 185.9,109.0 186.9,115.4 187.0,112.4 187.9,115.0 188.8,116.0 188.9,119.3 189.9,153.2 190.2,161.0 190.9,170.0 191.4,176.2 191.9,181.3 192.9,182.3 193.2,181.8 193.9,180.0 194.9,182.1 194.9,182.2 195.9,182.6 196.7,178.1 196.9,175.2 197.9,163.6 198.4,151.8 198.9,150.5 199.9,147.2 200.2,146.9 200.9,152.1 201.9,155.3 201.9,154.7 202.9,161.9 203.7,167.6 203.9,171.1 204.9,176.6 205.4,179.9 205.9,179.8 206.9,187.3 207.2,186.8 207.9,188.2 208.9,195.8 208.9,197.4 209.9,203.7 210.7,207.8 210.9,206.9 211.9,212.9 212.4,218.0 212.9,217.2 213.7,221.6 213.9,220.9 214.9,210.5 215.1,206.4 215.9,198.7 216.8,195.1 216.9,192.5 217.9,188.9 218.6,184.5 218.9,184.1 219.9,184.3 220.3,187.0 220.9,182.2 221.9,177.1 222.1,176.6 222.9,172.1 223.8,169.1 223.9,168.9 224.9,169.1 225.6,172.5 225.9,171.9 226.9,170.5 227.3,173.8 227.9,167.5 228.9,155.1 229.1,151.3 229.9,154.8 230.8,156.4 230.9,157.3 231.9,160.8 232.6,161.4 232.9,164.4 233.9,170.9 234.3,178.8 234.9,175.4 235.7,173.9 235.9,168.6 236.9,151.0 237.0,151.0 237.9,142.2 238.7,131.9 238.9,131.5 239.6,125.6 239.9,130.9 240.9,136.3 241.4,143.2 241.9,150.0 242.9,156.6 243.1,157.3 243.9,152.5 244.9,154.8 244.9,153.4 245.8,99.6 245.9,97.0 246.9,95.0 247.2,93.2 247.9,87.5 248.4,83.9 248.9,75.8 249.6,63.0 249.9,61.0 250.9,51.4 251.0,49.3 251.9,49.6 252.8,42.1 252.9,44.3 253.9,38.5 254.5,39.6 254.9,41.3 255.9,41.5 256.3,45.4 256.9,48.9 257.9,41.9 258.0,41.5 258.9,42.4 259.8,45.6 259.9,47.2 260.9,49.7 261.5,49.5 261.9,50.2 262.9,51.7 262.9,55.0 263.9,59.9 264.2,62.1 264.9,61.3 265.9,66.0 265.9,68.4 266.9,71.6 267.7,73.5 267.9,75.5 268.9,79.7 269.4,80.9 269.9,83.3 270.9,91.1 271.2,94.5 271.9,94.9 272.9,100.2 272.9,99.5 273.9,95.2 274.7,90.4 274.9,94.7 275.9,108.6 275.9,106.3 276.9,117.4 277.3,125.3 277.9,131.8 278.7,144.7 278.9,141.8 279.9,133.6 279.9,133.6 280.9,119.3 281.2,112.3 281.9,96.5 282.6,87.4 282.9,88.7 283.9,85.6 284.3,84.0 284.9,85.7 285.9,88.7 286.1,86.3 286.9,84.2 287.8,86.5 287.9,86.8 288.9,86.0 289.6,91.3 289.9,91.2 290.9,98.2 291.0,98.4 291.9,118.2 292.2,127.9 292.9,133.6 293.4,139.4 293.9,143.6 294.8,151.6 294.9,151.6 295.9,159.4 296.2,165.2 296.9,167.9 297.4,170.8 297.9,170.8 298.7,173.8 298.9,173.3 299.9,174.8 300.1,178.2 300.9,189.7 301.8,199.2 301.9,198.7 302.9,207.1 303.6,217.6 303.9,218.7 304.9,230.3 305.3,233.3 305.9,237.6 306.6,242.1 306.9,236.1 307.9,233.4 308.0,234.5 308.9,217.4 309.2,215.7 309.9,211.1 310.6,206.4 310.9,205.8 311.9,199.9 312.3,202.1 312.9,203.5 313.9,197.7 314.1,198.7 314.9,202.3 315.8,201.4 315.9,200.1 316.9,199.9 317.6,202.4 317.9,203.0 318.9,207.5 319.3,206.3 319.9,209.6 320.9,208.9 321.1,210.2 321.9,207.8 322.8,206.1 322.9,205.9 323.9,204.4 324.6,205.2 324.9,207.1 325.9,209.6 326.4,208.5 326.9,207.6 327.9,208.3 328.1,210.0 328.9,211.2 329.9,207.9 329.9,207.6 330.9,205.3 331.6,206.0 331.9,208.1 332.9,202.3 333.4,207.2 333.9,205.0 334.9,198.5 335.1,202.0 335.9,199.1 336.9,195.9 337.9,190.1 338.6,192.3 338.9,190.9 339.9,186.9 340.0,188.5 340.9,191.0 341.9,193.6 342.1,193.8 342.9,191.2 343.9,199.5 343.9,197.3 344.9,201.6 345.3,203.7 345.9,204.2 346.9,209.3 347.0,210.5 347.9,218.5 348.8,227.7 348.9,224.9 349.9,229.5 350.2,232.2 350.9,223.8 351.4,220.8 351.9,217.8 352.6,213.4 352.9,213.4 353.9,216.5 354.0,216.0 354.9,216.4 355.4,220.9 355.9,223.6 356.6,229.8 356.9,226.4 357.5,230.0 357.9,217.2 358.4,191.7 358.9,183.6 358.9,183.0 359.9,164.2 360.1,158.6 360.9,150.7 361.4,144.7 361.9,146.1 362.8,151.0 362.9,157.5 363.9,165.8 364.2,166.5 364.9,176.3 365.4,182.1 365.9,189.3 366.6,199.9 366.9,204.7 367.9,214.3 368.0,214.7 368.9,221.4 369.4,228.5 369.9,235.5 370.7,237.2 370.9,236.1 371.9,244.8 371.9,244.5 372.9,249.6 373.3,251.5 373.9,262.1 374.2,272.5 374.9,282.7 375.9,296.2 375.9,297.5 376.9,293.1 377.1,287.5 377.9,270.1 378.5,256.0 378.9,248.4 379.9,239.2 379.9,236.8 380.9,233.0 381.2,233.9 381.9,232.5 382.0,227.9 382.9,225.7 383.4,221.9 383.9,217.7 384.7,218.3 384.9,219.1 385.9,231.5 385.9,233.7 386.9,237.9 386.9,240.7 387.9,222.2 388.2,219.1 388.9,214.9 389.4,210.0 389.9,209.9 390.8,214.1 390.9,210.1 391.9,206.2 392.2,208.7 392.9,209.9 393.4,209.1 393.9,209.7 394.7,210.4 394.9,206.7 395.9,210.3 396.1,210.0 396.9,212.0 397.8,210.7 397.9,210.5 398.9,210.3 399.6,209.4 399.9,209.3 400.9,208.5 401.3,206.6 401.9,203.3 402.9,203.9 403.1,205.3 403.9,204.8 404.8,200.4 404.9,201.3 405.9,197.6 406.6,197.0 406.9,195.1 407.9,194.0 408.3,195.4 408.9,197.9 409.9,202.9 410.1,199.9 410.9,188.9 411.5,182.3 411.9,178.0 412.7,165.0 412.9,166.1 413.9,158.0 413.9,159.6 414.9,156.0 415.3,150.3 415.9,147.8 416.7,140.5 416.9,142.1 417.9,136.9 418.0,137.4 418.9,140.8 419.2,137.7 419.9,138.9 420.6,146.8 420.9,147.7 421.9,152.5 422.0,151.7 422.9,147.7 423.2,149.3 423.9,148.8 424.4,150.6 424.9,153.6 425.8,163.5 425.9,160.6 426.9,151.5 427.2,148.0 427.9,146.5 428.5,136.4 428.9,134.5 429.7,133.7 429.9,133.7 430.9,136.8 431.1,139.3 431.9,140.3 432.5,141.1 432.9,140.7 433.7,143.8 433.9,146.1 434.9,143.1 434.9,142.8 435.9,130.7 436.4,130.0 436.9,121.0 437.8,105.3 437.9,98.1 438.9,89.8 439.0,89.4 439.9,93.5 440.2,94.3 440.9,98.3 441.6,102.8 441.9,103.1 442.9,104.7 443.0,105.2 443.9,121.7 444.2,129.9 444.9,137.6 445.5,145.0 445.9,150.9 446.9,152.8 447.9,150.9 448.3,149.4 448.9,151.4 449.5,153.2 449.9,154.8 450.7,157.0 450.9,154.6 451.9,154.8 452.1,156.0 452.9,154.0 453.5,151.4 453.9,149.2 454.9,150.3 455.0,151.4 455.9,151.7 456.8,155.4 456.9,155.1 457.9,158.0 458.2,157.6 458.9,158.9 459.4,161.6 459.9,163.6 460.6,165.6 460.9,162.7 461.9,160.0 462.0,161.2 462.9,155.6 463.4,158.6 463.9,157.5 464.6,154.7 464.9,153.9 465.9,158.7 466.9,162.8 467.3,167.2 467.9,168.3 468.7,167.2 468.9,167.5 469.9,157.4 469.9,157.3 470.9,154.4 471.1,154.2 471.9,158.5 472.5,162.4 472.9,167.9 473.9,180.6 473.9,180.8 474.9,193.5 475.1,200.0 475.9,207.8 476.4,212.9 476.9,205.5 477.8,199.9 477.9,198.4 478.9,185.5 479.2,182.5 479.9,187.9 480.4,192.7 480.9,196.8 481.6,207.3 481.9,210.6 482.9,218.4 483.0,215.9 483.9,213.0 484.8,213.4 484.9,211.6 485.9,208.9 486.5,202.9 486.9,199.2 487.9,184.3 487.9,185.2 488.9,175.3 489.2,173.8 489.9,168.7 490.9,165.7 490.9,162.7 491.9,152.0 492.7,145.9 492.9,144.3 493.9,139.3 494.4,136.0 494.9,131.2 495.9,131.0 496.2,128.7 496.9,132.1 497.9,129.7 497.9,128.7 498.9,127.1 499.7,126.4 499.9,126.0 500.9,122.7 501.4,123.6 501.9,122.8 502.9,121.7 503.2,119.7 503.9,121.5 504.9,120.1 504.9,125.1 505.9,128.4 506.2,129.6 506.9,136.0 507.6,140.4 507.9,141.6 508.6,149.0 508.9,150.8 509.5,161.5 509.9,158.5 510.4,157.4 510.9,152.9 511.4,145.5 511.9,141.3 512.8,137.5 512.9,138.6 513.9,134.9 514.2,130.4 514.9,124.0 515.4,121.8 515.9,123.7 516.7,119.4 516.9,123.3 517.9,125.3 518.1,121.7 518.9,120.4 519.5,123.5 519.9,123.9 520.7,126.8 520.9,122.9 521.9,126.8 521.9,126.3 522.9,124.4 523.3,122.6 523.9,120.6 524.7,117.9 524.9,118.7 525.9,106.8 525.9,103.8 526.9,89.5 527.2,89.6 527.9,90.3 528.6,87.8 528.9,89.7 529.9,94.8 530.0,94.7 530.9,100.1 531.2,105.4 531.9,106.4 532.4,113.5 532.9,113.4 533.8,119.8 533.9,118.4 534.9,127.4 535.2,129.8 535.9,129.0 536.5,125.7 536.9,121.8 537.7,122.0 537.9,121.5 538.9,118.2 539.1,119.8 539.9,118.2 540.5,122.4 540.9,122.9 541.7,126.3 541.9,131.6 542.9,131.4 542.9,130.7 543.9,133.7 544.3,133.6 544.9,133.6 545.7,137.8 545.9,139.1 546.9,130.4 547.0,134.2 547.9,130.1 548.2,129.1 548.9,123.5 549.6,112.2 549.9,112.5 550.9,105.5 551.0,104.9 551.9,104.0 552.2,101.3 552.9,104.8 553.5,107.6 553.9,110.0 554.9,121.6 554.9,122.4 555.9,118.1 556.3,117.8 556.9,115.6 557.5,103.7 557.9,100.8 558.7,100.4 558.9,98.6 559.9,97.5 560.1,99.2 560.9,99.7 561.5,96.8 561.9,98.7 562.7,95.2 562.9,94.3 563.9,93.1 564.0,92.8 564.9,92.8 565.4,91.9 565.9,89.5 566.8,89.6 566.9,88.7 567.9,89.7 568.0,91.0 568.2,101.2 568.9,102.1 569.4,103.5 569.9,106.3 570.6,104.3 570.9,103.4 571.9,105.0 572.0,107.2 572.9,116.2 573.4,121.5 573.9,127.0 574.6,144.8 574.9,147.6 575.9,154.2 576.9,132.8 576.9,130.3 577.9,110.9 578.1,107.5 578.9,105.0 579.4,105.5 579.9,105.8 580.8,108.5 580.9,109.4 581.9,112.3 582.2,113.4 582.9,115.6 583.4,118.9 583.9,121.6 584.6,119.9 584.9,120.3 585.9,120.0 586.0,121.3 586.9,120.3 587.4,119.2 587.9,122.7 588.6,124.0 588.9,121.8 589.9,112.8 589.9,112.3 590.9,114.8 591.3,116.6 591.9,115.5 592.7,118.2 592.9,117.7 593.9,121.3 593.9,121.4 594.9,122.3 595.1,118.3 595.9,114.5 596.5,113.6 596.9,113.8 597.9,111.0 597.9,111.8 598.9,114.9 599.2,116.3 599.9,125.2 600.4,132.3 600.9,131.2 601.8,132.2 601.9,128.8 602.9,129.9 603.2,129.1 603.9,129.3 604.4,130.9 604.9,136.5 605.6,135.5 605.9,135.0 606.9,142.1 607.0,144.2 607.9,152.8 608.4,158.3 608.9,160.0 609.7,169.1 609.9,170.8 610.9,176.1 610.9,180.4 611.9,177.8 612.3,178.4 612.9,172.9 613.7,170.3 613.9,166.8 614.9,146.9 614.9,148.3 615.9,128.8 616.2,126.2 616.9,107.4 617.0,105.7 617.9,104.4 618.4,102.3 618.9,106.5 619.7,102.6 619.9,104.6 620.9,101.7 621.1,103.3 621.9,106.6 622.5,109.1 622.9,110.1 623.7,113.2 623.9,108.3 624.9,114.6 624.9,116.2 625.9,118.8 626.3,122.0 626.9,127.9 627.7,128.0 627.9,130.4 628.9,138.3 628.9,138.2 629.9,146.6 630.2,147.6 630.9,149.2 631.2,151.3 631.9,147.2 632.4,138.6 632.9,138.5 633.7,129.3 633.9,129.2 634.9,124.9 635.1,123.8 635.9,118.8 636.5,117.0 636.9,113.1 637.7,114.6 637.9,119.3 638.9,114.3 638.9,111.4 639.9,113.8 640.3,114.0 640.9,116.4 641.7,119.1 641.9,117.6 642.9,124.2 643.0,127.0 643.9,130.0 644.2,131.6 644.9,130.5 645.6,134.5 645.9,134.5 646.9,135.7 647.0,136.9 647.9,137.1 648.2,137.5 648.9,138.5 649.4,138.1 649.9,138.6 650.8,137.2 650.9,137.2 651.9,131.3 652.2,132.9 652.9,122.6 653.5,113.3 653.9,103.7 654.7,85.4 654.9,85.2 655.9,86.7 656.1,87.7 656.9,89.0 657.5,90.8 657.9,93.3 658.7,94.9 658.9,94.8 659.9,98.7 659.9,98.4 660.9,101.5 661.4,106.9 661.9,105.2 662.8,108.7 662.9,108.6 663.9,97.2 664.0,100.5 664.9,102.3 665.2,104.0 665.9,111.6 666.6,119.5 666.9,123.1 667.9,132.4 668.0,134.8 668.9,140.0 669.2,139.0 669.9,143.8 670.5,145.3 670.9,150.2 671.9,159.1 672.9,163.6 673.3,167.4 673.9,162.2 674.5,161.4 674.9,156.2 675.7,146.6 675.9,146.2 676.9,147.2 677.1,143.9 677.9,141.3 678.5,148.5 678.9,150.2 679.7,152.5 679.9,154.5 680.9,154.8 681.0,154.8 681.9,158.6 682.4,157.8 682.9,158.4 683.8,156.6 683.9,158.0 684.9,155.6 685.0,152.5"/>
<polyline fill="none" stroke="#3a9c54" stroke-width="2.7" stroke-linejoin="miter" stroke-linecap="butt" points="40.9,126.7 41.9,118.5 42.9,113.6 43.1,110.5 43.9,112.4 44.9,108.7 44.9,106.1 45.9,106.4 46.9,108.2 47.5,107.2 47.9,106.6 48.9,110.5 49.9,108.8 50.1,109.7 50.9,109.6 51.9,106.5 52.8,107.7 52.9,108.9 53.9,120.9 54.5,126.8 54.9,129.6 55.9,144.9 56.3,152.8 56.9,158.0 57.5,166.0 57.9,168.6 58.9,162.6 58.9,160.3 59.9,145.6 60.1,143.4 60.9,140.6 61.5,135.8 61.9,134.0 62.9,134.9 63.3,138.8 63.9,136.3 64.9,128.8 65.0,129.0 65.9,133.4 66.8,135.4 66.9,133.2 67.9,131.3 68.5,129.8 68.9,131.8 69.9,138.2 70.3,140.3 70.9,136.4 71.9,126.0 72.0,126.6 72.9,126.2 73.8,120.8 73.9,118.5 74.9,121.7 75.5,120.1 75.9,122.9 76.9,126.4 77.3,133.2 77.9,137.6 78.9,139.8 79.1,141.8 79.9,146.0 80.5,149.0 80.9,143.6 81.7,135.2 81.9,133.3 82.9,126.4 83.4,121.2 83.9,115.3 84.7,102.2 84.9,104.6 85.9,110.8 86.4,111.4 86.9,113.7 87.9,119.6 88.2,120.8 88.9,110.1 89.9,108.8 89.9,107.8 90.9,104.7 91.3,101.0 91.9,104.5 92.9,110.4 93.1,108.7 93.9,112.5 94.8,113.9 94.9,116.4 95.9,110.7 96.6,105.1 96.9,103.7 97.9,99.8 98.0,98.3 98.9,103.0 99.2,102.6 99.9,101.9 100.9,104.7 100.9,104.7 101.9,105.2 102.7,108.4 102.9,105.2 103.9,104.0 104.5,106.9 104.9,103.8 105.9,99.4 106.2,96.4 106.9,92.3 107.9,89.1 108.0,91.6 108.9,92.2 109.7,89.3 109.9,91.2 110.9,93.9 111.5,93.8 111.9,90.7 112.9,91.4 113.2,94.1 113.9,91.4 114.9,92.8 115.8,91.9 115.9,90.3 116.7,105.7 116.9,109.1 117.9,116.3 118.5,116.6 118.9,116.9 119.9,118.0 120.2,117.9 120.9,118.6 121.9,118.7 122.0,117.7 122.9,117.5 123.7,120.5 123.9,122.8 124.9,127.2 125.5,131.2 125.9,128.7 126.9,124.6 127.2,124.6 127.9,119.9 128.9,115.1 129.0,117.7 129.9,114.1 130.7,108.1 130.9,106.0 131.9,96.5 132.5,91.5 132.9,92.6 133.9,94.0 134.2,92.0 134.9,93.8 135.9,94.6 136.0,97.1 136.9,98.4 137.7,94.7 137.9,93.6 138.9,101.4 139.5,101.4 139.9,98.2 140.9,93.6 141.2,95.2 141.9,101.8 142.9,105.5 143.0,106.3 143.9,103.2 144.2,103.7 144.9,112.0 145.0,109.3 145.9,108.4 146.8,108.0 146.9,106.5 147.9,99.2 148.5,98.4 148.9,97.5 149.9,95.5 150.3,94.7 150.9,92.5 151.9,92.3 152.0,90.7 152.9,89.9 153.8,89.5 153.9,88.9 154.9,84.2 155.5,86.9 155.9,86.3 156.9,82.5 157.3,81.1 157.9,83.2 158.9,86.4 159.0,87.0 159.9,89.4 160.8,87.5 160.9,88.9 161.9,86.1 162.5,88.9 162.9,92.3 163.9,94.0 164.3,95.9 164.9,96.9 165.9,98.2 166.0,99.7 166.9,98.6 167.8,102.8 167.9,100.3 168.9,105.2 169.5,109.0 169.9,110.9 170.9,114.5 171.3,117.6 171.9,118.1 172.9,123.2 173.0,120.2 173.9,118.4 174.8,117.7 174.9,118.8 175.9,118.4 176.5,117.7 176.9,111.6 177.9,97.2 177.9,97.1 178.9,96.3 179.2,94.6 179.9,91.5 180.9,83.8 180.9,84.1 181.9,83.0 182.7,78.7 182.9,81.3 183.9,82.2 184.4,84.2 184.9,84.0 185.9,91.0 186.2,90.7 186.9,87.0 187.9,85.9 187.9,87.4 188.9,84.3 189.7,86.8 189.9,90.9 190.9,95.6 191.4,98.0 191.9,96.7 192.9,105.9 193.2,106.5 193.9,109.2 194.9,108.6 194.9,110.6 195.9,110.8 196.7,106.8 196.9,105.6 197.9,101.0 198.4,100.2 198.9,99.2 199.9,97.7 200.2,96.2 200.9,93.3 201.9,96.9 201.9,98.1 202.9,102.6 203.7,105.3 203.9,104.0 204.9,107.9 205.4,110.6 205.9,111.0 206.9,116.3 207.2,112.8 207.9,112.9 208.9,114.3 208.9,114.4 209.9,117.6 210.7,115.1 210.9,119.4 211.9,126.4 212.4,128.5 212.9,135.8 213.9,150.2 214.2,149.9 214.9,153.5 215.1,153.1 215.9,150.6 216.8,144.9 216.9,143.7 217.9,141.9 218.6,137.8 218.9,139.3 219.9,137.8 220.3,134.6 220.9,134.4 221.9,132.1 222.1,131.2 222.9,131.9 223.8,128.2 223.9,128.5 224.9,122.3 225.6,124.3 225.9,120.8 226.9,119.0 227.3,120.6 227.9,122.7 228.9,118.1 229.1,115.9 229.9,117.1 230.8,115.9 230.9,116.9 231.9,114.6 232.6,118.1 232.9,121.5 233.9,119.4 234.3,121.3 234.9,118.1 235.9,115.8 236.1,111.7 236.9,107.8 237.8,101.1 237.9,99.9 238.9,100.9 239.6,96.8 239.9,96.0 240.9,99.6 241.4,103.6 241.9,103.9 242.9,104.7 243.1,107.0 243.9,104.5 244.9,102.4 244.9,99.3 244.9,88.0 245.9,83.4 246.6,70.0 246.9,69.7 247.9,64.1 248.4,61.2 248.9,59.7 249.9,49.2 250.1,45.2 250.9,39.2 251.9,31.3 251.9,32.6 252.9,31.3 253.6,30.1 253.9,32.0 254.9,29.6 255.4,30.5 255.9,32.9 256.9,32.3 257.2,32.9 257.9,31.2 258.9,33.7 258.9,32.0 259.9,35.5 260.7,34.8 260.9,35.6 261.9,39.4 262.4,38.0 262.9,36.9 263.9,41.4 264.2,39.7 264.9,43.1 265.9,43.4 265.9,43.8 266.9,41.1 267.7,39.8 267.9,38.4 268.9,43.8 269.4,41.9 269.9,40.6 270.9,43.1 271.2,47.1 271.9,49.7 272.9,49.7 272.9,51.7 273.9,49.8 274.7,48.2 274.9,49.5 275.9,46.9 276.4,47.7 276.9,47.3 277.9,47.8 278.2,47.1 278.9,48.8 279.9,52.5 279.9,51.4 280.9,47.5 281.2,44.4 281.9,37.6 282.2,35.4 282.9,40.2 283.4,42.4 283.9,44.7 284.7,46.0 284.9,46.5 285.9,47.2 286.1,44.8 286.9,42.6 287.8,45.2 287.9,44.7 288.9,37.9 289.6,41.2 289.9,41.6 290.8,38.2 290.9,44.5 291.7,54.7 291.9,57.5 292.7,63.6 292.9,65.0 293.9,68.7 293.9,67.7 294.9,67.1 295.7,68.7 295.9,69.2 296.9,70.6 297.4,69.3 297.9,72.2 298.7,75.6 298.9,81.3 299.7,103.9 299.9,101.6 300.9,107.9 300.9,108.1 301.9,104.3 302.7,104.9 302.9,104.6 303.9,110.7 303.9,113.2 304.9,115.1 305.3,116.6 305.9,125.0 306.7,137.6 306.9,138.8 307.9,137.3 308.0,143.3 308.9,144.6 309.2,144.6 309.9,136.1 310.6,125.5 310.9,123.7 311.9,115.2 312.0,114.9 312.9,121.1 313.2,121.5 313.9,126.0 314.9,123.2 315.0,125.2 315.9,122.0 316.7,119.4 316.9,121.1 317.9,121.9 318.5,121.7 318.9,121.5 319.9,120.0 320.2,121.2 320.9,120.9 321.9,122.5 322.0,123.9 322.9,121.3 323.7,122.6 323.9,121.1 324.9,115.3 325.5,112.0 325.9,112.1 326.9,112.4 327.2,112.0 327.9,101.8 328.5,98.3 328.9,95.5 329.9,84.5 329.9,82.4 330.9,80.7 331.3,84.2 331.9,79.6 332.5,69.6 332.9,63.9 333.4,61.7 333.9,63.9 334.6,68.6 334.9,68.6 335.9,77.0 336.0,77.0 336.9,79.3 337.7,78.4 337.9,80.5 338.9,79.7 339.5,79.5 339.9,79.8 340.7,76.6 340.9,73.2 341.9,81.4 342.1,84.0 342.9,91.8 343.5,100.5 343.9,101.0 344.7,108.6 344.9,105.6 345.9,107.2 346.7,111.2 346.9,112.5 347.9,117.1 347.9,118.4 348.9,126.5 349.1,128.0 349.9,130.7 350.5,134.2 350.9,131.7 351.9,130.6 351.9,130.7 352.9,126.7 353.1,122.8 353.9,127.6 354.4,135.9 354.9,135.8 355.8,136.5 355.9,136.9 356.9,137.8 357.2,136.1 357.9,130.4 358.4,125.1 358.9,121.3 359.6,114.5 359.9,115.0 360.9,114.2 361.0,112.5 361.9,109.7 362.8,107.9 362.9,105.9 363.9,110.0 364.5,111.4 364.9,113.0 365.9,113.6 365.9,111.4 366.9,119.0 367.2,127.1 367.9,137.3 368.4,149.5 368.9,149.3 369.8,159.8 369.9,159.5 370.9,169.4 371.2,172.8 371.9,175.3 372.4,179.7 372.9,178.2 373.6,181.6 373.9,180.9 374.9,186.8 375.0,188.5 375.9,193.8 376.4,200.5 376.9,197.2 377.7,199.8 377.9,201.5 378.9,202.3 378.9,203.6 379.9,197.1 380.3,197.3 380.9,192.6 381.7,190.3 381.9,189.8 382.9,186.9 382.9,185.5 383.9,179.6 384.1,180.7 384.9,175.8 385.2,171.8 385.9,165.7 386.4,156.8 386.9,156.1 387.6,152.3 387.9,146.7 388.9,146.0 389.1,147.9 389.9,142.4 390.5,141.6 390.9,140.3 391.7,139.0 391.9,140.5 392.6,150.1 392.9,152.8 393.9,163.0 394.0,164.2 394.9,168.1 395.2,173.0 395.9,167.5 396.4,163.6 396.9,161.4 397.8,161.7 397.9,157.4 398.9,160.7 399.6,161.5 399.9,163.3 400.9,160.0 401.3,158.9 401.9,159.0 402.7,158.2 402.9,160.5 403.9,158.1 403.9,156.9 404.9,160.4 405.2,164.4 405.9,168.3 406.6,173.4 406.9,170.0 407.9,162.0 408.0,160.0 408.9,152.5 409.2,149.7 409.9,148.2 410.4,148.7 410.9,145.3 411.8,142.8 411.9,143.5 412.9,136.0 413.2,130.9 413.9,127.8 414.5,127.0 414.9,122.7 415.7,119.5 415.9,117.1 416.9,115.4 417.1,109.8 417.9,115.7 418.5,118.9 418.9,119.9 419.7,123.5 419.9,124.1 420.9,129.0 420.9,128.9 421.9,124.3 422.3,123.4 422.9,119.2 423.7,116.5 423.9,116.8 424.9,110.8 425.0,112.6 425.9,106.2 426.2,106.2 426.9,102.9 427.6,100.7 427.9,99.5 428.9,102.7 429.0,104.0 429.9,110.7 430.2,111.8 430.9,116.4 431.4,117.4 431.9,117.7 432.8,120.6 432.9,119.8 433.9,117.3 434.2,121.5 434.9,119.7 435.5,117.4 435.9,115.6 436.7,103.5 436.9,103.5 437.9,94.2 438.1,94.6 438.9,86.8 439.5,86.2 439.9,87.4 440.7,89.4 440.9,88.1 441.9,88.4 442.0,91.1 442.9,90.2 443.4,90.9 443.9,91.0 444.8,92.0 444.9,90.1 445.9,99.2 446.0,101.7 446.9,107.1 447.2,110.3 447.9,112.3 448.6,113.5 448.9,114.2 449.9,121.3 450.0,119.3 450.9,121.7 451.2,121.3 451.9,121.1 452.5,125.3 452.9,125.9 453.9,124.8 453.9,127.6 454.9,144.4 455.0,146.1 455.9,145.8 456.8,143.8 456.9,143.2 457.9,138.9 458.2,134.9 458.9,134.1 459.4,130.1 459.9,128.2 460.6,127.9 460.9,128.3 461.9,127.8 462.0,128.1 462.9,129.7 463.4,128.5 463.9,131.2 464.6,131.9 464.9,129.7 465.9,132.1 466.9,135.7 467.3,134.0 467.9,139.5 468.7,136.5 468.9,136.9 469.9,130.5 469.9,134.4 470.9,132.4 471.1,133.8 471.9,137.8 472.5,140.3 472.9,150.5 473.9,166.7 473.9,164.7 474.9,184.4 475.1,186.4 475.9,188.9 476.4,194.0 476.9,191.2 477.8,189.6 477.9,186.3 478.9,176.8 479.2,172.3 479.9,174.1 480.4,176.6 480.9,183.1 481.6,187.6 481.9,184.1 482.9,189.1 483.0,189.9 483.9,185.8 484.8,183.9 484.9,184.0 485.9,182.7 486.5,182.3 486.9,178.5 487.9,172.4 487.9,172.3 488.9,161.0 489.2,158.4 489.9,151.4 490.9,141.1 490.9,143.4 491.9,139.6 492.7,136.8 492.9,130.2 493.9,127.0 494.4,125.2 494.9,125.8 495.9,123.3 496.2,124.6 496.9,125.8 497.9,122.1 497.9,122.7 498.9,124.9 499.7,122.8 499.9,117.9 500.9,118.5 501.4,112.3 501.9,110.7 502.9,104.6 503.2,103.1 503.9,100.3 504.9,100.1 504.9,98.6 505.9,101.2 506.2,104.3 506.9,108.4 507.6,110.1 507.9,114.0 508.9,116.4 509.3,120.1 509.9,124.0 510.9,125.6 511.1,125.6 511.9,121.3 512.5,118.6 512.9,112.5 513.7,109.8 513.9,108.7 514.9,102.4 514.9,106.6 515.9,108.6 516.3,106.4 516.9,108.8 517.7,107.4 517.9,105.8 518.9,110.0 518.9,110.3 519.9,109.6 520.2,113.2 520.9,113.1 521.6,111.9 521.9,112.9 522.9,113.8 523.0,114.9 523.9,113.7 524.2,108.9 524.9,99.0 525.4,96.1 525.9,95.1 526.8,79.4 526.9,77.5 527.9,75.8 528.2,77.8 528.9,80.5 529.5,82.4 529.9,86.4 530.7,89.0 530.9,89.4 531.9,94.3 532.1,99.6 532.9,105.9 533.5,109.2 533.9,108.2 534.7,113.9 534.9,112.9 535.9,107.6 535.9,106.5 536.9,100.7 537.3,98.3 537.9,94.8 538.7,95.6 538.9,95.9 539.9,95.8 540.0,98.2 540.9,101.4 541.2,99.2 541.9,98.7 542.6,100.7 542.9,103.7 543.9,114.7 544.0,113.3 544.9,114.2 545.2,112.9 545.9,113.3 546.4,113.2 546.9,109.0 547.8,101.9 547.9,100.5 548.9,92.8 549.2,89.7 549.9,86.0 550.5,81.8 550.9,81.2 551.7,79.5 551.9,78.2 552.9,78.1 553.1,79.1 553.9,81.1 554.5,83.9 554.9,92.4 555.7,111.1 555.9,111.9 556.9,112.5 557.0,112.7 557.9,102.7 558.4,103.4 558.9,97.8 559.8,91.0 559.9,93.9 560.9,82.5 561.0,81.9 561.9,81.5 562.2,81.1 562.9,81.2 563.6,81.2 563.9,81.8 564.9,78.8 565.0,79.2 565.9,77.5 566.2,78.2 566.9,80.9 567.5,77.7 567.6,77.7 567.9,84.9 568.2,89.4 568.9,88.7 569.4,97.6 569.9,98.2 570.6,102.6 570.9,102.9 571.9,105.2 572.0,105.1 572.9,111.9 573.4,115.0 573.9,123.6 574.6,141.2 574.9,142.3 575.9,151.6 576.9,144.7 576.9,143.7 577.9,117.7 578.1,113.1 578.9,107.1 579.4,105.7 579.9,102.1 580.8,103.6 580.9,104.3 581.9,101.4 582.2,100.0 582.9,104.7 583.4,108.9 583.9,110.0 584.6,113.3 584.9,116.4 585.9,119.1 586.0,119.1 586.9,118.8 587.4,116.3 587.9,116.1 588.6,120.3 588.9,120.4 589.9,128.1 589.9,126.1 590.9,129.4 591.3,131.5 591.9,130.2 592.7,127.4 592.9,126.8 593.9,121.8 593.9,120.0 594.9,117.9 595.1,116.0 595.9,117.8 596.5,112.2 596.9,114.3 597.9,112.8 597.9,114.6 598.9,118.3 599.2,115.3 599.9,120.0 600.4,117.2 600.9,116.6 601.8,119.6 601.9,117.6 602.9,122.1 603.2,122.1 603.9,119.4 604.4,124.1 604.9,126.5 605.6,133.6 605.9,132.6 606.9,137.7 607.0,140.9 607.9,145.0 608.4,151.1 608.9,150.9 609.7,158.7 609.9,161.6 610.9,160.2 610.9,158.7 611.9,154.6 612.3,158.3 612.9,152.9 613.7,148.6 613.9,144.2 614.9,135.2 614.9,136.5 615.9,125.4 616.2,119.6 616.9,106.3 617.0,105.5 617.9,104.2 618.1,104.3 618.9,104.8 619.3,104.8 619.9,106.5 620.7,106.2 620.9,109.1 621.9,119.2 621.9,118.8 622.9,117.8 623.2,117.6 623.9,121.9 624.6,121.0 624.9,121.1 625.9,123.1 626.0,122.4 626.9,125.3 627.2,128.2 627.9,130.2 628.4,135.7 628.9,138.6 629.8,144.7 629.9,146.2 630.9,149.0 631.2,149.2 631.9,140.2 632.4,129.7 632.9,128.1 633.7,116.4 633.9,112.7 634.9,105.4 635.1,103.0 635.9,93.7 635.9,92.5 636.9,95.5 637.2,97.4 637.9,105.2 638.2,107.8 638.9,109.1 639.5,112.8 639.9,113.4 640.7,115.2 640.9,117.9 641.9,123.6 642.1,123.1 642.9,125.5 643.5,125.9 643.9,126.1 644.7,129.4 644.9,127.6 645.9,133.1 645.9,133.4 646.9,130.2 647.3,130.0 647.9,130.9 648.7,131.0 648.9,130.4 649.9,131.4 650.0,134.7 650.9,128.3 651.2,129.4 651.9,129.5 652.6,125.5 652.9,123.5 653.9,120.7 654.0,120.5 654.9,116.4 655.2,112.3 655.9,109.3 656.4,109.5 656.9,111.3 657.8,113.7 657.9,112.1 658.9,118.1 659.2,118.4 659.9,121.5 660.5,126.3 660.9,125.9 661.7,129.7 661.9,128.0 662.9,131.4 663.1,126.7 663.9,121.9 664.5,115.1 664.9,115.2 665.7,122.2 665.9,122.4 666.9,128.2 667.0,129.6 667.9,133.4 668.4,135.7 668.9,139.4 669.8,137.8 669.9,140.7 670.9,142.5 671.0,138.6 671.9,138.7 672.2,140.0 672.9,145.2 673.6,144.2 673.9,143.0 674.9,144.5 675.0,142.3 675.9,140.4 676.2,140.9 676.9,139.8 677.5,135.9 677.9,136.1 678.9,143.7 678.9,142.2 679.9,143.8 680.3,142.2 680.9,139.8 681.5,137.1 681.9,132.8 682.7,133.6 682.9,132.1 683.9,134.4 684.1,136.6 684.9,136.6 685.0,136.9"/>
<polyline fill="none" stroke="#d3232a" stroke-width="2.7" stroke-linejoin="miter" stroke-linecap="butt" points="40.9,133.0 41.9,125.8 42.9,119.3 43.1,118.1 43.9,117.0 44.9,116.0 44.9,113.7 45.9,114.9 46.6,113.4 46.9,115.3 47.9,116.1 48.4,114.8 48.9,117.5 49.9,119.5 50.1,122.9 50.9,126.6 51.9,130.9 51.9,132.8 52.8,152.2 52.9,152.6 53.9,168.9 54.5,179.9 54.9,184.8 55.9,206.9 55.9,208.4 56.9,198.9 57.2,195.5 57.9,190.0 58.9,179.5 58.9,177.9 59.9,170.2 60.7,163.1 60.9,162.1 61.9,162.9 62.4,159.4 62.9,156.0 63.9,154.1 64.2,153.3 64.9,150.1 65.9,147.0 65.9,144.3 66.9,151.3 67.7,156.6 67.9,159.2 68.9,160.0 69.4,160.3 69.9,164.9 70.9,161.2 71.2,160.3 71.9,156.9 72.9,161.5 72.9,159.2 73.9,162.3 74.7,165.6 74.9,169.0 75.9,168.8 76.4,172.7 76.9,175.3 77.6,180.0 77.9,177.3 78.9,171.3 79.1,169.3 79.9,163.3 80.8,153.4 80.9,151.4 81.9,143.5 82.6,134.8 82.9,132.5 83.9,121.3 84.3,117.9 84.9,121.3 85.9,126.3 86.1,123.3 86.9,123.3 87.8,123.7 87.9,125.1 88.9,121.9 89.6,121.6 89.9,121.5 90.9,112.3 91.3,106.5 91.9,111.2 92.9,114.9 93.1,114.9 93.9,122.8 94.8,129.9 94.9,131.0 95.9,122.7 96.6,115.0 96.9,114.0 97.9,112.5 98.3,109.6 98.9,116.2 99.9,119.9 100.1,122.7 100.9,125.2 101.8,127.9 101.9,124.8 102.9,121.3 103.6,118.9 103.9,117.1 104.9,112.1 105.3,112.4 105.9,110.0 106.9,110.3 107.1,111.1 107.9,108.7 108.8,105.3 108.9,104.7 109.9,106.0 110.6,104.3 110.9,105.2 111.9,106.5 112.3,104.4 112.9,104.7 113.9,99.1 114.1,100.8 114.9,104.4 115.8,110.4 115.9,110.5 116.9,122.4 117.6,121.1 117.9,120.8 118.9,126.4 119.3,130.6 119.9,127.4 120.9,123.1 121.1,121.9 121.9,123.3 122.8,129.3 122.9,133.0 123.9,134.0 124.6,141.0 124.9,141.9 125.9,140.9 126.4,142.5 126.9,141.8 127.9,133.8 128.1,132.3 128.9,131.6 129.9,123.2 129.9,125.1 130.9,121.5 131.6,115.3 131.9,116.3 132.9,113.1 133.4,111.6 133.9,110.2 134.9,109.5 135.1,108.8 135.9,108.7 136.9,111.8 137.9,116.7 138.6,119.2 138.9,119.7 139.9,124.6 140.4,123.4 140.9,124.4 141.9,131.3 142.1,131.0 142.9,131.6 143.9,134.5 143.9,132.7 144.9,136.9 145.0,138.4 145.9,137.5 146.8,136.6 146.9,139.3 147.9,126.2 148.5,116.1 148.9,111.4 149.9,98.4 150.3,95.1 150.9,93.2 151.9,96.1 152.0,99.4 152.9,99.9 153.8,97.8 153.9,99.3 154.9,96.0 155.5,91.4 155.9,88.8 156.9,86.9 157.3,86.2 157.9,89.0 158.9,86.7 159.0,86.4 159.9,93.1 160.8,92.6 160.9,94.5 161.9,95.2 162.5,94.5 162.9,98.2 163.9,98.7 164.3,99.7 164.9,99.8 165.9,96.4 166.0,97.5 166.9,103.6 167.8,106.0 167.9,107.1 168.9,115.2 169.5,116.0 169.9,116.7 170.9,120.9 171.3,123.4 171.9,126.7 172.9,132.0 173.0,134.9 173.9,136.0 174.8,140.1 174.9,140.7 175.9,141.8 176.5,144.3 176.9,136.8 177.4,117.8 177.9,108.4 178.3,97.7 178.9,95.4 179.9,93.0 180.0,93.8 180.9,87.1 181.8,79.9 181.9,77.9 182.9,82.4 183.5,85.3 183.9,83.9 184.9,85.7 185.3,87.6 185.9,90.6 186.9,89.1 187.0,91.4 187.9,89.2 188.8,84.4 188.9,85.3 189.9,91.0 190.2,92.0 190.9,106.4 191.4,118.8 191.9,121.4 192.9,129.1 193.2,130.4 193.9,131.5 194.9,133.7 194.9,130.8 195.9,123.5 196.7,123.3 196.9,122.8 197.9,117.4 198.4,113.4 198.9,111.9 199.9,111.9 200.2,110.2 200.9,110.4 201.9,112.1 201.9,110.9 202.9,119.1 203.7,120.1 203.9,117.4 204.9,129.0 205.4,135.5 205.9,138.4 206.9,138.7 207.2,140.5 207.9,141.1 208.9,146.0 208.9,144.5 209.9,144.7 210.7,149.4 210.9,147.1 211.9,147.7 212.4,152.5 212.9,155.1 213.9,156.5 214.2,163.3 214.9,160.1 215.9,159.7 215.9,160.6 216.9,159.2 217.7,151.1 217.9,151.8 218.9,145.1 219.5,142.4 219.9,137.8 220.9,135.4 221.2,133.9 221.9,130.5 222.9,129.7 223.0,130.6 223.9,130.1 224.7,127.6 224.9,129.7 225.9,130.7 226.5,134.8 226.9,134.6 227.9,130.7 228.2,129.2 228.9,121.8 229.1,118.3 229.9,119.0 230.8,121.4 230.9,117.6 231.9,128.3 232.6,132.0 232.9,134.2 233.9,139.8 234.3,144.4 234.9,138.6 235.9,130.9 236.1,128.6 236.9,122.7 237.8,110.7 237.9,106.6 238.9,103.3 239.6,102.2 239.9,103.9 240.9,102.9 241.4,105.9 241.9,110.0 242.9,116.1 243.1,118.5 243.9,120.8 244.9,114.4 244.9,117.3 245.4,79.9 245.9,71.7 246.6,61.8 246.9,62.2 247.9,68.7 248.0,67.5 248.9,57.8 249.3,51.8 249.9,49.2 250.7,40.8 250.9,39.2 251.9,34.0 252.4,33.8 252.9,33.5 253.9,33.2 254.2,36.9 254.9,36.4 255.9,38.6 255.9,38.8 256.9,39.0 257.7,38.7 257.9,39.2 258.9,40.5 259.4,39.6 259.9,40.5 260.9,40.7 261.2,39.9 261.9,45.1 262.4,49.9 262.9,51.2 263.9,54.7 264.2,51.9 264.9,52.5 265.9,53.7 265.9,55.6 266.9,58.7 267.7,57.7 267.9,59.5 268.9,60.4 268.9,63.9 269.9,73.8 270.3,76.5 270.9,76.5 271.7,84.0 271.9,84.1 272.9,89.1 272.9,85.8 273.9,84.6 274.7,83.6 274.9,84.6 275.9,84.0 275.9,88.5 276.9,103.7 277.3,108.7 277.9,113.6 278.7,123.1 278.9,122.2 279.9,112.2 279.9,111.8 280.9,96.6 281.2,90.7 281.9,86.7 282.6,83.5 282.9,82.5 283.9,78.7 284.3,79.0 284.9,79.9 285.9,80.5 286.1,79.0 286.9,70.6 287.8,72.5 287.9,74.6 288.9,77.2 289.6,75.5 289.9,75.6 290.9,79.6 291.3,81.8 291.9,90.1 292.7,95.4 292.9,94.5 293.9,105.8 293.9,106.3 294.9,107.2 295.2,110.8 295.9,116.8 296.6,120.4 296.9,120.4 297.9,131.5 298.0,134.0 298.9,147.0 299.2,149.7 299.9,163.1 300.4,175.8 300.9,181.9 301.8,191.9 301.9,197.1 302.9,205.4 303.6,209.9 303.9,213.7 304.9,222.5 305.3,232.4 305.9,238.5 306.7,250.7 306.9,248.3 307.9,236.4 308.0,235.2 308.9,218.3 309.2,210.9 309.9,207.7 310.6,200.1 310.9,200.3 311.9,191.9 312.3,184.6 312.9,181.9 313.9,177.9 314.1,177.5 314.9,177.4 315.8,175.1 315.9,173.7 316.9,173.5 317.6,170.2 317.9,170.4 318.9,171.7 319.3,174.3 319.9,175.5 320.9,179.1 321.1,180.8 321.9,183.5 322.8,186.0 322.9,186.8 323.9,186.4 324.6,189.3 324.9,192.3 325.9,187.1 326.4,183.9 326.9,186.5 327.9,178.6 328.1,174.9 328.9,173.8 329.9,167.7 329.9,167.3 330.9,163.9 331.6,157.3 331.9,155.9 332.9,163.2 333.4,165.8 333.9,165.8 334.9,172.6 335.1,176.2 335.9,179.3 336.9,183.4 337.9,184.7 338.6,185.1 338.9,184.0 339.9,182.4 340.4,182.3 340.9,175.4 341.9,171.3 342.1,174.4 342.9,173.2 343.9,167.4 343.9,168.1 344.0,167.5 344.1,177.3 344.9,175.1 345.3,173.8 345.9,170.0 346.9,163.3 347.0,164.8 347.9,161.6 348.8,157.9 348.9,157.6 349.9,154.7 350.2,155.1 350.9,149.7 351.4,146.3 351.9,141.2 352.6,127.3 352.9,126.0 353.9,133.5 354.0,133.1 354.9,151.1 355.4,157.0 355.9,160.7 356.6,170.1 356.9,167.6 357.9,159.8 357.9,159.2 358.9,138.0 359.3,131.0 359.9,124.6 360.7,119.1 360.9,122.2 361.9,113.6 361.9,113.2 362.9,115.1 363.1,119.0 363.9,123.2 364.5,129.1 364.9,133.6 365.9,148.0 365.9,149.2 366.9,165.7 367.2,171.4 367.9,183.7 368.4,192.0 368.9,193.3 369.8,199.4 369.9,200.8 370.9,211.9 371.2,217.3 371.9,226.8 372.4,236.3 372.9,240.8 373.6,246.6 373.9,250.3 374.9,257.5 375.0,261.1 375.9,267.9 376.3,269.9 376.9,265.6 377.7,256.9 377.9,257.1 378.9,237.1 378.9,233.8 379.9,220.3 380.3,216.6 380.9,213.9 381.9,211.8 382.0,211.7 382.9,211.0 383.4,208.2 383.9,203.6 384.7,201.2 384.9,201.9 385.9,190.6 385.9,192.0 386.9,184.7 387.3,181.6 387.9,180.7 388.9,174.5 389.1,172.4 389.9,168.4 390.8,166.0 390.9,166.1 391.9,174.7 392.6,181.2 392.9,179.5 393.9,185.0 394.3,190.2 394.9,189.7 395.9,185.7 396.1,185.7 396.9,184.2 397.8,182.5 397.9,184.7 398.9,180.7 399.6,180.9 399.9,178.1 400.9,181.0 401.3,180.2 401.9,180.4 402.9,176.9 403.1,175.6 403.9,171.7 404.8,172.0 404.9,174.8 405.9,174.0 406.6,183.8 406.9,183.1 407.9,189.7 408.3,190.6 408.9,193.4 409.9,200.4 410.1,200.2 410.9,183.8 411.5,165.8 411.9,158.3 412.7,138.4 412.9,136.1 413.9,126.1 413.9,126.9 414.9,124.0 415.3,118.4 415.9,111.1 416.7,104.5 416.9,102.1 417.9,102.3 418.0,102.1 418.9,102.7 419.2,104.8 419.9,108.6 420.6,109.8 420.9,109.1 421.9,113.4 422.0,113.2 422.9,113.1 423.2,114.4 423.9,121.5 424.4,120.7 424.9,122.4 425.8,119.7 425.9,120.8 426.9,119.4 427.2,118.3 427.9,116.9 428.5,116.1 428.9,117.9 429.7,118.5 429.9,116.3 430.9,123.8 431.1,126.3 431.9,130.1 432.5,130.7 432.9,126.5 433.7,128.4 433.9,129.4 434.9,129.8 434.9,126.1 435.9,116.8 436.4,111.8 436.9,102.1 437.8,84.2 437.9,83.6 438.9,77.5 439.3,75.1 439.9,81.7 440.7,84.3 440.9,84.3 441.9,92.8 442.0,91.2 442.9,95.8 443.4,95.9 443.9,95.5 444.8,97.6 444.9,99.2 445.9,107.5 446.0,109.1 446.9,109.2 447.2,111.2 447.9,108.9 448.6,108.3 448.9,110.2 449.9,115.8 450.0,118.7 450.9,122.4 451.2,123.0 451.9,121.5 452.5,127.2 452.9,127.3 453.9,129.7 453.9,129.3 454.9,135.6 455.0,133.8 455.9,133.8 456.8,140.5 456.9,139.5 457.9,149.1 458.2,151.0 458.9,157.4 459.4,159.0 459.9,160.6 460.6,166.6 460.9,169.6 461.9,159.6 462.0,159.4 462.9,153.0 463.4,148.3 463.9,143.1 464.6,139.1 464.9,141.8 465.9,137.6 466.9,138.8 467.3,142.5 467.9,145.3 468.7,145.5 468.9,142.4 469.9,140.3 469.9,142.2 470.9,134.8 471.1,134.8 471.9,138.2 472.5,144.7 472.9,150.8 473.9,168.7 473.9,169.0 474.9,187.9 475.1,194.6 475.9,204.7 476.4,202.0 476.9,202.3 477.8,196.8 477.9,198.2 478.9,178.7 479.2,172.5 479.9,175.4 480.4,178.2 480.9,181.6 481.6,188.3 481.9,187.7 482.9,198.4 483.0,197.6 483.9,198.2 484.8,195.9 484.9,192.5 485.9,191.1 486.5,188.5 486.9,184.3 487.9,175.6 487.9,175.7 488.9,162.6 489.2,158.3 489.9,163.3 490.9,171.7 490.9,173.5 491.9,166.1 492.1,160.3 492.9,148.9 493.5,139.4 493.9,139.8 494.9,136.4 494.9,135.4 495.9,135.6 496.2,132.9 496.9,131.2 497.9,127.3 497.9,130.8 498.9,130.7 499.7,127.6 499.9,127.1 500.9,121.5 501.4,118.9 501.9,120.8 502.9,114.0 503.2,115.4 503.9,112.3 504.9,108.2 504.9,109.0 505.9,116.3 506.2,113.2 506.9,116.5 507.6,115.5 507.9,118.7 508.9,119.1 509.3,122.5 509.9,127.6 510.9,129.5 511.1,130.9 511.9,127.1 512.5,124.4 512.9,122.3 513.7,117.4 513.9,116.4 514.9,112.9 514.9,111.5 515.9,107.6 516.3,110.3 516.9,110.9 517.7,112.7 517.9,115.0 518.9,118.0 518.9,115.4 519.9,118.9 520.2,119.9 520.9,119.3 521.6,116.9 521.9,117.1 522.9,120.1 523.0,122.0 523.9,117.2 524.2,114.4 524.9,110.2 525.4,102.3 525.9,96.9 526.8,88.5 526.9,89.5 527.9,87.0 528.2,85.6 528.9,86.7 529.5,90.4 529.9,92.7 530.7,99.1 530.9,96.5 531.9,105.4 532.1,108.2 532.9,111.6 533.5,113.6 533.9,115.5 534.7,122.7 534.9,122.1 535.9,117.3 535.9,116.8 536.9,111.2 537.3,112.2 537.9,110.2 538.7,110.0 538.9,112.2 539.9,114.5 540.0,113.6 540.9,111.2 541.2,113.1 541.9,116.7 542.6,115.0 542.9,118.5 543.9,119.6 544.0,120.7 544.9,120.5 545.2,119.9 545.9,116.8 546.4,118.9 546.9,115.1 547.8,107.6 547.9,109.6 548.9,96.1 549.2,94.3 549.9,91.7 550.5,88.4 550.9,88.4 551.7,86.3 551.9,81.3 552.9,83.8 553.1,84.2 553.9,84.9 554.5,86.7 554.9,89.4 555.7,92.0 555.9,95.3 556.9,103.0 557.0,99.7 557.9,102.9 558.4,104.0 558.9,104.5 559.8,100.0 559.9,103.6 560.9,98.2 561.0,94.8 561.9,92.4 562.2,88.9 562.9,83.9 563.6,83.1 563.9,80.3 564.9,79.5 565.0,79.0 565.9,82.0 566.2,80.1 566.9,84.4 567.5,84.3 567.9,87.0 568.2,90.0 568.9,88.7 569.4,94.1 569.9,90.6 570.6,96.5 570.9,93.8 571.9,100.3 572.0,104.0 572.9,107.5 573.4,111.6 573.9,118.9 574.6,133.6 574.9,131.3 575.9,136.6 576.9,113.2 576.9,111.2 577.9,104.5 578.1,106.4 578.9,106.2 579.4,104.5 579.9,101.8 580.8,101.3 580.9,99.0 581.9,96.3 582.2,98.9 582.9,103.3 583.4,107.2 583.9,107.0 584.6,112.3 584.9,112.3 585.9,113.7 586.0,119.4 586.9,112.0 587.4,112.2 587.9,111.6 588.6,116.4 588.9,114.4 589.9,107.5 589.9,105.7 590.9,109.0 591.3,113.9 591.9,113.0 592.7,112.3 592.9,113.0 593.9,117.6 593.9,119.6 594.9,119.9 595.1,118.2 595.9,115.7 596.5,113.5 596.9,113.1 597.9,106.7 597.9,108.8 598.9,115.0 599.2,114.1 599.9,117.1 600.4,116.7 600.9,118.9 601.8,122.0 601.9,121.0 602.9,122.9 603.2,124.6 603.9,123.0 604.4,124.0 604.9,126.2 605.6,129.4 605.9,135.7 606.9,145.0 607.0,145.1 607.9,152.4 608.4,155.8 608.9,159.1 609.7,171.0 609.9,172.3 610.9,174.4 610.9,175.5 611.9,169.5 612.3,164.4 612.9,159.6 613.7,153.2 613.9,154.6 614.9,141.1 614.9,144.0 615.9,132.0 616.2,124.4 616.9,113.0 617.0,113.3 617.9,122.1 618.1,125.5 618.9,132.5 619.3,138.3 619.9,139.4 620.7,138.2 620.9,135.1 621.9,129.9 621.9,133.1 622.9,127.7 623.2,130.2 623.9,132.8 624.6,132.1 624.9,132.4 625.9,134.3 626.0,135.9 626.9,134.1 627.2,136.6 627.9,142.3 628.4,147.5 628.9,147.3 629.5,154.5 629.9,153.8 630.7,157.5 630.9,152.6 631.6,142.3 631.9,139.9 632.9,138.2 633.0,133.5 633.9,135.3 634.2,138.5 634.9,133.1 635.4,130.4 635.9,130.0 636.8,122.9 636.9,121.4 637.9,119.3 638.2,120.4 638.9,118.8 639.5,117.6 639.9,116.7 640.7,117.2 640.9,115.8 641.9,120.7 642.1,122.0 642.9,126.0 643.5,128.7 643.9,131.1 644.7,139.7 644.9,141.3 645.9,136.8 645.9,136.2 646.9,136.1 647.3,135.2 647.9,134.9 648.7,136.7 648.9,134.0 649.9,139.2 650.0,143.1 650.9,153.7 651.2,156.9 651.9,155.5 652.6,150.9 652.9,147.7 653.9,129.3 654.0,129.4 654.9,119.8 655.2,118.9 655.9,120.0 656.4,118.8 656.9,118.2 657.8,118.4 657.9,114.8 658.9,119.3 659.2,124.3 659.9,129.2 660.5,131.4 660.9,132.5 661.7,135.6 661.9,133.1 662.9,127.3 663.1,129.6 663.9,118.7 664.5,112.9 664.9,118.0 665.7,135.0 665.9,135.1 666.9,145.7 667.0,147.0 667.9,153.2 668.4,153.5 668.9,149.8 669.8,150.2 669.9,149.5 670.9,148.4 671.0,147.2 671.9,151.1 672.2,154.5 672.9,158.4 673.6,162.8 673.9,160.3 674.9,148.8 675.0,150.3 675.9,145.7 676.2,143.8 676.9,146.5 677.5,147.3 677.9,150.4 678.9,150.9 678.9,152.5 679.9,152.0 680.3,151.5 680.9,152.7 681.5,160.6 681.9,156.6 682.7,151.0 682.9,151.0 683.9,147.3 684.1,147.6 684.9,146.2 685.0,148.1"/>
<polyline fill="none" stroke="#58585a" stroke-width="2.7" stroke-linejoin="miter" stroke-linecap="butt" points="40.9,146.4 41.9,141.5 42.9,137.4 43.1,135.5 43.9,131.4 44.9,132.6 44.9,130.5 45.9,134.8 46.9,136.8 47.5,139.1 47.9,143.3 48.9,148.1 49.3,148.3 49.9,159.6 50.7,177.1 50.9,171.0 51.0,166.9 51.9,180.3 51.9,180.9 52.9,186.9 53.6,189.8 53.9,190.7 54.9,191.9 55.9,192.3 56.3,197.4 56.9,195.0 57.9,185.7 58.0,185.8 58.9,179.2 59.8,169.8 59.9,172.4 60.9,165.4 61.5,166.8 61.9,168.1 62.9,164.2 63.3,167.2 63.9,164.1 64.9,164.7 65.0,162.4 65.9,166.0 66.8,167.6 66.9,172.2 67.9,172.8 68.5,174.3 68.9,171.2 69.9,158.8 69.9,156.8 70.9,156.3 71.2,156.5 71.9,167.2 72.0,168.5 72.9,175.9 73.8,185.9 73.9,184.1 74.9,193.8 75.2,194.9 75.9,196.7 76.4,200.2 76.9,195.3 77.6,191.9 77.9,193.3 78.9,187.4 79.1,186.5 79.9,179.9 80.8,168.8 80.9,168.7 81.9,151.0 82.6,139.8 82.9,133.3 83.9,125.4 84.3,123.4 84.9,123.4 85.9,120.0 86.1,118.6 86.9,124.4 87.8,127.7 87.9,125.8 88.9,133.4 89.6,134.5 89.9,134.3 90.9,129.1 91.3,127.7 91.9,132.5 92.9,140.2 93.1,136.1 93.9,135.3 94.8,136.7 94.9,137.1 95.9,140.8 96.6,143.4 96.9,142.5 97.9,148.8 98.3,150.0 98.9,151.4 99.9,148.6 100.1,154.2 100.9,152.4 101.8,151.1 101.9,154.3 102.9,150.0 103.6,144.0 103.9,146.0 104.9,146.5 105.3,144.8 105.9,143.1 106.9,135.7 107.1,135.7 107.9,131.1 108.8,125.6 108.9,123.1 109.9,128.2 110.6,128.2 110.9,134.1 111.9,140.9 112.3,148.6 112.9,142.5 113.9,130.3 114.1,128.0 114.9,129.0 115.8,137.9 115.9,137.6 116.9,143.0 117.6,144.9 117.9,139.3 118.9,136.1 119.3,139.7 119.9,136.2 120.9,136.2 121.1,133.5 121.9,136.5 122.8,138.0 122.9,141.0 123.9,140.2 124.6,140.3 124.9,138.4 125.9,141.3 126.4,142.4 126.9,141.6 127.9,142.3 128.1,139.8 128.9,139.5 129.9,140.2 129.9,139.4 130.9,145.1 131.6,146.3 131.9,147.6 132.9,158.2 133.4,165.8 133.9,158.5 134.9,146.9 135.1,143.6 135.9,142.8 136.9,138.4 137.9,142.9 138.6,146.2 138.9,143.8 139.9,156.5 140.4,162.2 140.9,167.7 141.9,175.9 142.1,177.5 142.9,188.5 143.9,194.9 143.9,196.0 144.9,196.1 145.0,196.1 145.9,191.9 146.8,191.8 146.9,192.4 147.9,183.2 148.2,182.6 148.9,165.6 149.4,152.1 149.9,149.8 150.9,136.5 151.1,132.5 151.9,127.7 152.9,121.7 152.9,123.0 153.9,118.4 154.6,112.6 154.9,108.4 155.9,102.4 156.4,96.7 156.9,99.6 157.9,94.5 158.1,96.7 158.9,101.0 159.9,99.5 159.9,100.0 160.9,104.0 161.6,106.5 161.9,105.1 162.9,105.2 163.4,108.4 163.9,111.7 164.9,109.9 165.1,110.7 165.9,116.3 166.9,119.6 166.9,118.1 167.9,129.0 168.6,138.6 168.9,141.6 169.9,146.6 170.4,148.8 170.9,147.4 171.9,154.6 172.2,156.2 172.9,159.1 173.9,162.7 173.9,162.8 174.9,170.3 175.7,173.1 175.9,169.6 176.9,166.9 177.4,162.4 177.9,150.3 178.6,131.5 178.9,131.4 179.9,133.9 180.0,133.3 180.9,131.3 181.4,124.6 181.9,121.1 182.7,105.5 182.9,104.8 183.9,106.4 184.4,109.1 184.9,110.0 185.9,110.5 186.2,110.3 186.9,114.3 187.9,115.6 187.9,115.9 188.9,105.8 189.7,97.2 189.9,97.9 190.9,93.5 190.9,94.0 191.9,105.7 192.3,108.6 192.9,113.6 193.9,118.2 194.1,118.6 194.9,113.6 195.8,118.5 195.9,120.1 196.9,123.4 197.6,127.6 197.9,129.6 198.9,131.8 199.3,131.8 199.9,133.7 200.9,135.2 201.1,134.4 201.9,129.3 202.8,129.0 202.9,131.8 203.9,134.9 204.6,136.0 204.9,139.1 205.9,148.1 206.3,152.8 206.9,156.5 207.9,162.4 208.1,161.9 208.9,158.3 209.8,159.5 209.9,162.7 210.9,156.4 211.6,157.9 211.9,157.1 212.9,164.4 213.3,170.9 213.9,170.1 214.9,171.9 215.1,171.6 215.9,167.8 216.8,163.5 216.9,160.0 217.9,157.7 218.6,154.3 218.9,154.7 219.9,146.1 220.3,148.9 220.9,145.4 221.9,144.4 222.1,144.3 222.9,140.4 223.8,138.4 223.9,137.7 224.9,141.5 225.6,144.1 225.9,143.3 226.9,146.0 227.3,145.5 227.9,142.1 228.9,127.9 229.1,127.4 229.9,130.4 230.8,134.7 230.9,135.3 231.9,138.3 232.6,138.5 232.9,140.8 233.9,145.4 234.3,148.3 234.9,149.3 235.2,153.0 235.9,146.3 236.9,135.3 237.0,131.0 237.9,121.7 238.7,116.3 238.9,116.6 239.9,109.5 240.5,110.5 240.9,112.0 241.9,113.7 242.2,114.9 242.9,114.7 243.9,116.9 244.0,117.6 244.4,110.4 244.9,100.5 245.8,82.7 245.9,83.5 246.9,72.4 247.2,66.7 247.9,71.8 248.4,77.6 248.9,69.0 249.6,58.3 249.9,50.0 250.9,39.5 251.0,41.5 251.9,40.5 252.8,38.4 252.9,37.1 253.9,38.0 254.5,38.1 254.9,39.7 255.9,44.5 256.3,39.2 256.9,44.6 257.9,44.8 258.0,42.2 258.9,43.4 259.8,43.0 259.9,44.3 260.9,50.0 261.5,53.6 261.9,54.4 262.9,66.5 262.9,65.9 263.9,69.6 264.2,72.5 264.9,72.0 265.9,73.9 265.9,74.0 266.9,82.1 267.1,82.7 267.9,85.2 268.5,86.1 268.9,93.0 269.9,96.7 269.9,99.2 270.9,105.7 271.2,108.2 271.9,114.6 272.4,114.2 272.9,118.5 273.8,123.1 273.9,121.5 274.9,128.4 275.2,130.7 275.9,135.3 276.4,142.1 276.9,148.3 277.6,156.0 277.9,162.9 278.7,170.8 278.9,170.0 279.9,158.6 279.9,153.9 280.9,137.3 281.2,131.3 281.9,110.3 282.6,90.6 282.9,89.9 283.9,88.4 284.0,87.1 284.9,88.3 285.2,89.2 285.9,84.7 286.9,88.3 286.9,89.6 287.9,88.2 288.7,87.6 288.9,86.4 289.9,84.1 290.4,79.2 290.9,84.6 291.7,91.5 291.9,94.8 292.9,116.0 293.1,120.0 293.9,125.8 294.5,134.0 294.9,135.4 295.7,140.3 295.9,136.3 296.9,147.0 296.9,146.5 297.9,157.6 298.3,160.4 298.9,168.6 299.2,174.8 299.9,185.8 300.1,192.3 300.6,218.6 300.9,222.7 301.8,238.4 301.9,240.8 302.9,251.6 303.6,255.5 303.9,257.1 304.9,271.6 305.0,274.5 305.9,279.2 305.9,282.0 306.9,274.4 307.1,269.7 307.9,261.6 308.5,257.0 308.9,249.3 309.7,230.5 309.9,228.3 310.9,209.7 310.9,208.1 311.9,196.9 312.0,198.0 312.9,189.1 313.7,182.6 313.9,183.2 314.9,172.5 315.0,166.8 315.9,157.8 316.2,157.1 316.9,154.5 317.6,149.6 317.9,157.6 318.9,159.8 319.0,158.6 319.9,161.9 320.2,167.9 320.9,169.5 321.4,175.4 321.9,176.9 322.8,178.9 322.9,179.7 323.9,181.7 324.2,184.0 324.9,182.0 325.5,189.2 325.9,189.4 326.7,193.8 326.9,190.8 327.9,173.9 328.1,176.2 328.9,170.5 329.5,166.7 329.9,164.3 330.7,159.0 330.9,160.2 331.9,142.1 332.0,140.5 332.9,134.7 333.0,132.5 333.9,148.9 334.2,157.3 334.9,166.3 335.5,176.3 335.9,174.6 336.9,183.9 337.9,178.4 338.3,176.9 338.9,171.0 339.5,166.0 339.9,165.9 340.7,164.0 340.9,162.8 341.9,160.1 342.1,160.1 342.9,156.8 343.5,156.5 343.9,154.1 344.7,151.2 344.9,148.9 345.3,151.6 345.9,150.4 346.7,147.7 346.9,149.6 347.9,172.3 347.9,171.9 348.9,185.8 349.1,189.7 349.9,187.5 350.5,187.2 350.9,179.9 351.9,164.3 351.9,165.0 352.6,142.0 352.9,142.3 353.9,139.6 354.0,139.0 354.9,135.6 355.4,130.2 355.9,128.6 356.6,126.1 356.9,128.7 357.9,127.9 358.4,127.4 358.9,125.4 359.9,127.5 360.1,125.7 360.9,120.4 361.9,124.5 361.9,125.1 362.9,130.6 363.1,131.5 363.9,139.1 364.5,144.8 364.9,146.2 365.9,149.4 365.9,148.4 366.9,151.4 367.2,157.6 367.9,163.4 368.4,165.4 368.9,166.2 369.8,172.6 369.9,172.9 370.9,180.3 371.2,182.2 371.9,186.0 372.4,191.6 372.9,195.7 373.6,202.0 373.9,205.6 374.9,207.2 375.0,207.8 375.9,210.4 376.4,212.6 376.9,211.5 377.7,208.4 377.9,203.9 378.9,199.8 378.9,197.0 379.9,190.2 380.3,192.0 380.9,187.7 381.7,186.0 381.9,185.7 382.9,194.7 382.9,190.4 383.9,211.3 384.1,215.7 384.9,228.6 385.5,238.0 385.9,235.9 386.9,224.8 386.9,225.9 387.9,211.2 388.2,201.3 388.9,196.1 389.4,194.8 389.9,192.6 390.8,196.0 390.9,197.1 391.9,212.7 392.2,219.0 392.9,226.5 393.4,232.3 393.9,227.1 394.7,223.9 394.9,223.2 395.9,214.6 396.1,211.7 396.9,205.4 397.8,203.9 397.9,202.5 398.9,204.8 399.6,202.0 399.9,202.0 400.9,203.3 401.3,206.3 401.9,210.5 402.7,220.9 402.9,221.9 403.9,219.9 403.9,221.0 404.9,217.8 405.2,215.4 405.9,217.7 406.6,218.3 406.9,217.3 407.9,223.8 408.0,228.5 408.9,229.7 409.2,231.5 409.9,233.8 410.4,231.5 410.9,224.0 411.8,217.5 411.9,215.6 412.9,190.8 413.2,183.8 413.9,179.1 414.5,175.6 414.9,166.8 415.7,145.7 415.9,148.2 416.9,137.3 417.1,133.2 417.9,132.5 418.0,129.4 418.9,138.8 419.2,142.4 419.9,149.6 420.6,157.0 420.9,159.5 421.9,163.2 422.0,165.2 422.9,162.2 423.2,160.5 423.9,158.1 424.4,154.9 424.9,155.3 425.8,159.1 425.9,160.9 426.9,153.7 427.2,154.5 427.9,153.6 428.5,152.8 428.9,152.3 429.7,151.7 429.9,149.4 430.9,149.8 431.1,150.6 431.9,154.3 432.5,156.2 432.9,159.1 433.7,168.6 433.9,171.8 434.9,167.4 434.9,165.8 435.9,153.7 436.4,143.5 436.9,132.0 437.8,113.0 437.9,111.7 438.9,105.9 439.0,103.1 439.9,106.8 440.2,105.0 440.9,106.9 441.6,109.0 441.9,109.7 442.9,108.7 443.0,107.5 443.9,112.2 444.2,115.2 444.9,117.5 445.5,119.1 445.9,123.6 446.9,128.6 447.9,126.7 448.3,126.2 448.9,122.5 449.5,126.5 449.9,128.4 450.7,136.0 450.9,136.7 451.9,149.0 452.1,148.1 452.9,154.8 453.5,161.0 453.9,159.9 454.9,163.0 455.0,166.1 455.9,167.9 456.8,175.3 456.9,178.4 457.9,185.1 458.2,186.9 458.9,189.2 459.4,190.4 459.9,185.1 460.6,187.3 460.9,186.8 461.9,182.4 462.0,182.2 462.9,180.1 463.4,179.8 463.9,178.6 464.6,180.9 464.9,178.7 465.9,179.6 466.9,180.2 467.3,182.5 467.9,186.5 468.7,196.2 468.9,191.6 469.9,171.0 469.9,173.1 470.9,170.1 471.1,167.7 471.9,176.5 472.5,175.3 472.9,175.9 473.9,181.9 473.9,187.3 474.9,195.2 475.1,197.3 475.9,201.1 476.4,200.8 476.9,190.9 477.8,170.9 477.9,169.2 478.9,157.1 479.2,151.8 479.9,153.8 480.4,156.4 480.9,159.3 481.6,162.4 481.9,159.1 482.9,162.2 483.0,163.9 483.9,161.3 484.8,158.5 484.9,158.5 485.9,155.4 486.2,155.0 486.9,153.7 487.4,152.3 487.9,144.6 488.6,141.3 488.9,143.6 489.9,138.0 490.0,133.8 490.9,140.3 491.4,147.3 491.9,151.3 492.7,151.9 492.9,146.7 493.9,137.1 493.9,143.1 494.9,144.5 495.3,137.8 495.9,137.9 496.7,140.3 496.9,141.3 497.9,144.1 497.9,140.9 498.9,142.8 499.7,143.3 499.9,146.4 500.9,152.0 500.9,152.6 501.9,139.9 502.3,135.5 502.9,130.7 503.7,125.7 503.9,124.3 504.9,120.3 504.9,121.9 505.9,122.0 506.2,127.0 506.9,127.6 507.6,128.5 507.9,133.4 508.9,143.2 509.0,147.4 509.9,152.0 510.2,156.4 510.9,155.5 511.4,152.3 511.9,150.3 512.8,140.9 512.9,141.7 513.9,129.9 514.2,132.1 514.9,129.1 515.4,129.5 515.9,127.4 516.7,130.2 516.9,130.2 517.9,130.3 518.1,132.4 518.9,136.0 519.5,136.9 519.9,137.2 520.7,138.6 520.9,137.6 521.9,131.0 521.9,130.0 522.9,126.0 523.3,127.5 523.9,130.0 524.7,135.3 524.9,130.1 525.9,116.6 525.9,112.4 526.9,107.6 527.2,100.2 527.9,101.3 528.6,100.8 528.9,101.2 529.9,109.6 530.0,112.6 530.9,118.6 531.2,123.0 531.9,125.1 532.4,131.5 532.9,131.8 533.8,139.2 533.9,141.7 534.9,144.3 535.2,148.0 535.9,145.0 536.5,145.6 536.9,143.0 537.7,139.3 537.9,137.5 538.9,135.2 539.1,134.3 539.9,134.0 540.5,133.9 540.9,137.0 541.7,144.4 541.9,146.0 542.9,147.6 542.9,146.8 543.9,146.4 544.3,148.2 544.9,146.8 545.7,146.7 545.9,146.8 546.9,133.8 547.0,134.1 547.9,126.9 548.2,127.2 548.9,118.7 549.6,116.6 549.9,113.9 550.9,106.9 551.0,105.4 551.9,98.5 552.2,98.3 552.9,96.5 553.5,95.8 553.9,97.1 554.9,98.4 554.9,98.5 555.9,87.6 556.3,86.8 556.9,82.5 557.5,81.6 557.9,84.9 558.7,90.5 558.9,90.6 559.9,95.9 560.1,94.6 560.9,102.5 561.5,110.7 561.9,118.4 562.7,118.1 562.9,117.6 563.9,114.7 564.0,115.6 564.9,110.4 565.4,107.9 565.9,106.5 566.8,104.4 566.9,102.4 567.9,102.5 568.0,106.5 568.5,108.3 568.9,111.6 569.9,110.1 570.3,110.3 570.9,113.4 571.9,109.8 572.0,113.0 572.9,117.6 573.4,121.5 573.9,128.1 574.6,137.2 574.9,135.6 575.9,140.5 576.9,135.9 577.3,131.5 577.9,129.5 578.7,126.1 578.9,126.7 579.9,130.7 579.9,129.9 580.9,132.2 581.1,133.0 581.9,130.5 582.5,133.3 582.9,134.8 583.9,135.0 583.9,134.5 584.9,139.1 585.1,137.4 585.9,140.1 586.4,141.7 586.9,144.5 587.8,150.6 587.9,151.7 588.6,159.8 588.9,153.4 589.9,135.0 589.9,136.2 590.9,133.1 591.3,134.1 591.9,135.2 592.7,137.9 592.9,140.0 593.9,146.6 593.9,150.9 594.9,137.3 595.1,130.7 595.9,124.7 596.5,118.3 596.9,120.6 597.9,122.5 597.9,122.4 598.9,128.0 599.2,130.8 599.9,135.9 600.4,140.3 600.9,138.5 601.8,140.4 601.9,140.4 602.9,139.9 603.2,140.2 603.9,142.5 604.4,145.3 604.9,146.2 605.6,150.0 605.9,153.3 606.9,163.0 607.0,163.4 607.9,172.1 608.4,178.5 608.9,181.3 609.7,188.7 609.9,188.7 610.9,189.4 610.9,187.4 611.9,183.5 612.3,179.0 612.9,174.8 613.7,167.8 613.9,166.4 614.9,166.3 614.9,167.7 615.9,154.3 616.2,148.5 616.9,120.7 617.2,106.7 617.7,165.3 617.9,171.6 618.4,200.8 618.9,211.2 619.3,216.6 619.9,203.1 620.2,200.5 620.9,192.5 621.1,188.8 621.9,185.6 622.5,182.2 622.9,182.1 623.7,183.5 623.9,184.6 624.9,182.7 624.9,181.5 625.9,178.8 626.3,178.9 626.9,178.7 627.7,176.1 627.9,177.0 628.9,169.2 628.9,171.7 629.9,171.1 630.2,169.3 630.9,169.7 631.6,168.8 631.9,167.4 632.9,168.6 633.0,172.1 633.9,180.8 634.2,184.0 634.9,195.3 635.1,197.5 635.9,196.0 636.5,197.9 636.9,194.8 637.7,191.7 637.9,187.6 638.9,177.0 638.9,177.5 639.9,177.8 640.3,175.1 640.9,177.4 641.7,177.0 641.9,179.7 642.9,179.8 643.0,181.7 643.9,188.4 644.2,189.5 644.9,191.2 645.6,197.9 645.9,195.0 646.9,196.0 647.0,199.3 647.9,199.5 648.2,195.5 648.9,195.6 649.4,198.3 649.9,204.6 650.5,217.1 650.9,225.7 651.7,238.3 651.9,236.2 652.6,217.5 652.9,214.7 653.5,204.8 653.9,201.3 654.7,190.0 654.9,189.5 655.9,194.5 656.1,195.3 656.9,190.9 657.5,188.4 657.9,189.2 658.7,186.5 658.9,189.8 659.9,193.9 659.9,194.8 660.9,192.9 661.4,192.2 661.9,188.3 662.8,182.6 662.9,178.6 663.9,168.8 664.0,168.6 664.9,163.3 664.9,164.0 665.9,179.5 666.3,182.7 666.9,193.9 667.5,207.6 667.9,206.1 668.7,196.6 668.9,197.6 669.9,187.3 670.1,182.6 670.9,181.6 671.5,180.0 671.9,180.2 672.7,175.9 672.9,179.1 673.9,168.7 674.0,170.1 674.9,169.0 675.4,170.6 675.9,171.0 676.8,173.0 676.9,175.2 677.9,184.1 678.0,186.3 678.9,201.8 678.9,201.6 679.9,196.7 680.3,197.2 680.9,194.4 681.5,189.5 681.9,185.0 682.7,179.5 682.9,179.2 683.9,177.3 684.1,176.8 684.9,174.0 685.0,175.0"/>
<polyline fill="none" stroke="#6b4ea6" stroke-width="2.7" stroke-linejoin="miter" stroke-linecap="butt" points="40.9,215.9 41.9,214.4 42.9,214.0 43.7,209.1 43.9,209.5 44.9,223.6 44.9,227.4 45.9,255.2 46.1,261.6 46.9,261.0 47.5,261.7 47.9,259.5 48.9,248.9 49.3,245.0 49.9,239.8 50.7,229.5 50.9,234.0 51.9,244.2 51.9,246.2 52.9,242.3 53.6,237.3 53.9,238.2 54.9,243.9 55.4,240.5 55.9,238.8 56.9,237.0 57.2,237.6 57.9,227.1 58.9,215.3 58.9,211.7 59.9,185.4 60.1,176.0 60.9,187.9 61.5,202.0 61.9,202.8 62.9,207.5 63.3,209.4 63.9,204.3 64.9,200.3 65.0,196.6 65.9,203.3 65.9,199.7 66.9,211.7 67.7,223.6 67.9,223.1 68.9,222.6 69.4,225.7 69.9,219.3 70.9,212.1 71.2,206.5 71.9,207.5 72.9,206.2 72.9,205.2 73.9,208.4 74.7,208.0 74.9,211.3 75.9,231.9 75.9,229.8 76.9,227.3 77.3,226.7 77.9,230.7 78.9,238.1 79.1,237.5 79.9,221.4 80.8,202.6 80.9,203.8 81.9,188.6 82.6,176.0 82.9,177.1 83.9,180.9 84.3,184.3 84.9,188.5 85.9,200.4 86.1,201.4 86.9,208.1 87.5,211.1 87.9,208.0 88.7,203.0 88.9,201.1 89.9,201.8 90.4,201.8 90.9,201.9 91.9,206.2 92.2,206.8 92.9,216.9 93.4,220.9 93.9,208.3 94.5,186.9 94.9,190.4 95.7,202.2 95.9,207.3 96.9,223.5 97.1,225.0 97.9,232.5 98.3,237.3 98.9,221.7 99.7,191.3 99.9,193.8 100.9,195.5 101.5,199.1 101.9,207.0 102.7,220.6 102.9,221.6 103.9,230.0 104.5,231.5"/>
<polyline fill="none" stroke="#6b4ea6" stroke-width="2.7" stroke-linejoin="miter" stroke-linecap="butt" points="105.3,262.6 106.2,244.4 106.3,245.5 107.3,248.4 108.0,248.2 108.3,246.3 109.3,253.4 109.7,255.8 110.3,252.1 111.3,249.5 111.5,249.8 112.3,254.6 113.2,262.2 113.3,262.5 114.3,262.4 115.0,262.4 115.3,259.3 116.3,255.5 116.7,252.3 117.3,258.6 118.3,269.1 118.5,273.8 119.3,285.5 119.7,290.0 120.3,286.9 121.1,277.3 121.3,273.4 122.3,256.5 122.5,255.1 123.3,248.8 124.2,246.3 124.3,245.4 125.3,246.6 126.0,243.0 126.3,246.0 127.2,250.9 127.3,254.0 128.3,263.8 129.0,273.8 129.3,274.7 130.3,271.9 130.7,273.3 131.3,275.9 132.3,278.2 132.5,280.8 133.3,272.7 134.2,267.1 134.3,266.2 135.3,255.7 136.0,250.0 136.3,245.1 137.3,230.8 137.7,230.0 138.3,234.3 139.3,237.8 139.5,240.0 140.3,247.2 140.7,251.6 141.3,250.6 142.3,245.2 142.5,244.1 143.3,230.6 144.2,219.6 144.3,221.9 145.0,234.6 145.3,228.9 146.3,224.8 146.4,227.1 147.3,218.2 147.6,212.8 148.3,201.1 149.3,189.9 149.4,193.6 150.3,225.0 150.6,234.2 151.3,252.1 151.7,254.6 152.3,250.3 152.9,243.3 153.3,234.4 154.1,219.5 154.3,223.3 155.2,245.6 155.3,246.2 156.3,252.9 156.4,252.5 157.3,288.1 157.6,299.8 158.3,291.9 159.0,283.1 159.3,284.2 160.3,288.3 160.4,290.2 161.3,285.9 161.6,286.0 162.3,287.0 163.3,288.4 163.4,287.9 164.3,298.4 164.6,303.3 165.3,309.5 166.0,313.4 166.3,313.7 167.3,303.9 167.4,304.7 168.3,308.3 168.6,309.5 169.3,306.8 169.9,304.0 170.3,301.4 171.3,290.2 171.3,292.2 172.3,288.4 172.7,288.5 173.3,281.6 173.9,278.6 174.3,275.3 175.1,271.6 175.3,271.6 176.3,260.1 176.5,256.9 177.3,261.1 177.9,267.0 178.3,266.2 179.2,262.9 179.3,260.6 180.3,258.1 180.9,253.2 181.3,237.6 181.8,219.0 182.3,207.8 182.7,198.7 183.3,201.9 184.3,198.0 184.4,197.0 185.3,193.2 186.2,195.2 186.3,200.9 187.0,212.5 187.3,219.7 188.3,234.8 188.4,238.1 189.3,251.5 189.7,258.8 190.3,248.6 190.9,238.8 191.3,240.1 192.3,246.6 192.3,248.6 193.3,258.8 193.7,262.9 194.3,246.0 194.9,234.5 195.3,225.6 195.8,214.5 196.3,215.1 197.3,219.2 197.6,218.7 198.3,221.1 199.3,223.7 199.3,223.0 200.3,227.6 201.1,227.4 201.3,233.3 201.9,253.1 202.3,256.1 203.3,264.3 203.7,268.8 204.3,262.9 205.3,265.8 205.4,266.9 206.3,257.4 207.2,251.1 207.3,249.7 208.3,252.8 208.9,254.5 209.3,252.1 210.2,239.3 210.3,239.4 211.3,229.2 211.6,228.7 212.3,233.4 213.0,240.9 213.3,245.6 214.2,255.0 214.3,253.5 215.3,250.7 215.4,249.8 216.3,258.1 216.8,267.1 217.3,266.0 218.3,265.6 218.6,263.6 219.3,268.1 220.0,275.2 220.3,275.9 221.2,273.7 221.3,272.8 222.3,258.7 222.4,257.9 223.3,271.3 223.8,280.9 224.3,279.3 225.3,283.2 225.6,282.9 226.3,281.6 227.3,277.0 227.3,274.3 228.3,274.9 228.7,277.6 229.3,288.8 230.0,301.6 230.3,303.3 231.3,301.1 231.7,302.3 232.3,299.8 233.3,304.3 233.5,302.0 234.3,281.8 234.7,270.1 235.3,264.9 235.7,262.0 236.3,271.7 237.0,284.0 237.3,284.5 238.2,277.2 238.3,273.0 239.3,261.3 239.6,257.2 240.3,250.8 241.0,249.0 241.3,248.7 242.2,239.1 242.3,236.9 243.3,235.3 243.5,234.6 244.3,224.2 244.9,220.1 245.3,204.2 246.3,185.5 246.3,185.0 247.3,199.6 247.5,199.4 248.3,193.4 248.7,191.2 249.3,207.6 249.8,218.7 250.3,153.5 250.7,107.9 251.3,84.0 251.9,62.0 252.3,67.9 252.8,74.2 253.3,75.0 254.2,83.6 254.3,88.5 255.3,100.4 255.4,99.9 256.3,111.4 256.6,115.8 257.3,116.3 258.0,117.7 258.3,120.5 259.3,122.4 259.4,120.5 260.3,116.3 260.7,115.4 261.3,119.5 261.9,124.0 262.3,124.8 263.3,133.4 263.3,133.5 264.3,138.5 264.7,145.6 265.3,155.9 265.9,163.4 266.3,162.5 266.8,168.6 267.3,164.1 268.2,149.7 268.3,150.3 269.3,161.7 269.4,160.8 270.3,156.2 270.6,156.8 271.3,149.8 271.7,149.9 272.3,158.2 272.9,166.4 273.3,165.7 274.1,176.2 274.3,176.9 275.3,184.7 275.5,184.2"/>
<polyline fill="none" stroke="#6b4ea6" stroke-width="2.7" stroke-linejoin="miter" stroke-linecap="butt" points="276.4,202.3 276.9,231.6 277.4,234.1 278.2,236.8 278.4,234.5 279.4,221.1 279.4,217.9 280.4,225.7 280.5,226.5 281.2,250.2 281.4,256.0 282.2,264.5 282.4,223.1 282.6,202.9 283.4,200.4 283.4,200.9 284.4,196.5 284.7,199.0 285.4,200.5 286.1,202.5 286.4,199.4 286.9,193.7 287.4,195.2 288.2,202.1 288.4,196.3 289.4,204.5 289.6,205.2 290.4,172.6 290.4,173.6 291.4,173.0 291.7,171.4 292.4,174.5 293.1,178.5 293.4,180.3 294.4,183.6 294.5,185.6 295.4,192.3 295.7,193.8 296.4,196.5 296.9,199.3 297.4,198.7 298.0,200.3 298.4,205.1 299.2,219.5 299.4,221.2 300.4,227.1 301.4,213.5 301.8,212.0 302.4,214.6 302.7,218.6 303.4,228.3 303.6,237.6 304.4,256.0 304.5,255.2 305.3,280.0 305.4,279.4 306.2,295.6 306.4,291.9 307.1,286.5 307.4,281.8 308.0,276.2 308.4,272.8 309.2,270.8 309.4,272.9 310.2,274.7 310.4,271.1 310.9,258.1 311.4,247.4 312.0,232.4 312.4,226.2 313.2,219.9 313.4,217.6 314.4,213.8 314.4,215.0 315.4,234.9 315.8,239.3 316.4,215.4 316.7,202.5 317.4,192.9 317.6,185.7 318.4,179.1 318.5,177.8 319.3,165.0 319.4,165.2 320.2,169.5 320.4,174.6 321.1,187.6 321.4,190.7 322.4,202.9 322.5,200.7 323.4,209.6 323.7,209.6 324.4,205.4 324.9,203.1 325.4,203.5 326.0,198.4 326.4,203.4 327.2,219.5 327.4,220.7 328.4,226.9 328.5,228.3 329.4,204.5 329.5,204.7 330.2,189.9 330.4,194.1 331.3,209.6 331.4,215.0 332.4,227.0 332.5,224.9 333.4,217.2 333.7,213.0 334.4,205.9 334.8,206.3 335.4,210.2 336.0,216.2 336.4,212.6 337.2,208.5 337.4,207.9 338.4,200.1 338.6,195.8 339.4,219.9 339.5,220.0 340.4,232.8 340.7,237.9 341.4,238.4 342.1,241.2 342.4,238.7 343.4,232.7 343.5,233.0 344.4,229.9 344.7,226.0 345.4,224.0 346.1,223.7 346.4,225.6 347.4,236.8 347.4,237.4 348.4,249.6 348.4,250.3 349.4,253.4 349.6,253.7 350.4,261.1 350.5,263.3 351.4,278.2 351.4,279.2 352.3,249.5 352.4,243.4 353.1,218.4 353.4,214.8 354.4,211.5 354.4,210.5 355.4,198.6 355.8,195.8 356.4,203.0 357.2,210.1 357.4,214.6 358.4,226.6 358.4,226.3 359.4,213.5 359.6,210.5 360.4,198.8 361.0,187.9 361.4,183.4 362.4,176.9 363.4,185.3 363.6,189.0 364.4,207.6 364.9,221.7 365.4,231.0 365.9,246.3 366.4,249.6 366.8,253.7 367.4,274.7 367.7,284.7 368.4,272.4 368.9,264.9 369.4,252.7 370.1,235.0 370.4,225.8 371.2,210.6 371.4,209.8 372.4,206.2 372.4,207.8 373.4,217.9 373.6,221.7 374.4,220.6 375.0,224.6 375.4,226.1 376.4,235.2 376.4,233.8 377.4,228.5 377.7,224.5 378.4,231.9 378.9,233.2 379.4,232.3 380.3,237.3 380.4,239.2 381.4,230.1 381.7,225.7 382.4,236.7 382.9,239.2 383.4,247.1 384.1,254.4 384.4,255.5 385.4,264.7 385.5,262.7 386.4,266.7 386.9,271.6 387.4,277.4 388.2,286.4 388.4,283.6 389.4,260.3 389.4,260.2 390.4,270.8 390.8,278.8 391.4,272.5 392.2,263.1 392.4,266.1 393.4,276.2 393.4,275.8 394.3,291.9 394.4,291.1 395.4,273.5 395.7,268.8 396.4,236.1 396.4,235.4 397.4,239.8 397.8,241.2 398.4,243.2 399.2,251.1 399.4,252.4 400.4,253.8 400.4,253.8 401.4,250.6 401.7,250.6 402.4,242.5 403.1,239.0 403.4,240.2 404.4,244.0 404.5,247.5 405.4,242.0 405.7,241.3 406.4,234.4 406.9,232.3 407.4,216.1 408.0,202.9 408.4,211.6 409.2,223.4 409.4,226.6 410.4,244.7 411.4,247.9 411.5,249.2 412.4,292.6 412.4,289.1 413.4,272.5 413.6,269.0 414.4,264.9 415.0,261.8 415.4,254.4 416.2,238.6 416.4,231.8 417.1,207.9 417.4,207.0 418.4,204.5 418.5,201.6 419.4,194.4 419.7,195.4 420.4,200.7 420.9,201.2 421.4,205.9 422.3,212.6 422.4,211.8 423.4,203.9 423.7,200.5 424.4,195.6 425.3,191.8 425.4,195.4 426.4,203.3 426.7,205.2 427.4,224.1 427.6,229.7 428.4,228.1 429.0,231.8 429.4,230.4 430.2,224.2 430.4,225.4 431.4,224.8 431.4,224.7 432.4,231.9 432.8,232.1 433.4,240.3 434.2,250.0 434.4,247.3 435.4,249.3 435.5,252.9 436.4,274.0 436.4,275.8 437.2,273.2 437.4,256.0 438.1,204.7 438.4,182.4 438.6,165.6 439.4,160.5 439.5,158.5 440.4,162.4 440.7,163.9 441.4,169.1 442.0,174.9 442.4,178.7 443.4,184.1 443.4,181.7 444.4,190.8 444.8,191.4 445.4,197.5 446.0,204.6 446.4,202.2 447.2,204.2 447.4,204.5 448.4,205.7 448.6,203.5 449.4,203.1 450.0,204.3 450.4,188.8 450.7,181.0 451.4,182.3 452.1,182.3 452.4,184.4 453.4,188.6 453.5,189.0 454.4,180.3 454.7,179.7 455.4,181.7 456.0,185.7 456.4,186.2 456.8,186.2 457.4,189.0 458.2,196.3 458.4,199.3 459.4,207.8 459.4,207.2 460.4,213.7 460.6,210.0 461.4,213.9 462.0,212.9 462.4,214.3 463.4,224.8 463.4,224.5 464.1,248.2 464.4,248.9 465.4,254.4 465.5,250.2 466.4,226.0 466.4,228.4 467.4,227.4 467.6,230.6 468.4,231.1 469.0,234.7 469.4,233.4 469.9,228.2 470.4,222.7 471.1,215.9 471.4,218.0 472.4,225.3 472.5,224.6 473.4,216.0 473.9,215.2 474.4,224.8 475.1,236.1 475.4,237.4 476.4,243.9 476.4,246.3 477.4,244.2 478.4,221.9 478.6,217.3 479.4,164.0 479.5,157.3 480.4,160.1 480.9,161.2 481.4,160.7 482.2,164.4 482.4,165.8 483.4,172.3 483.4,172.3 484.4,176.3 484.8,178.8 485.4,181.6 486.2,182.6 486.4,180.5 487.4,173.5 487.4,172.9 488.4,166.9 488.6,165.8 489.4,156.0 490.0,149.0 490.4,160.6 490.9,174.7 491.4,187.6 492.1,199.2 492.4,205.8 493.2,217.3 493.4,211.8 494.4,183.7 494.4,186.3 495.4,171.3 495.6,169.7 496.4,163.8 497.0,166.2 497.4,162.7 498.4,164.9 498.8,166.0 499.4,167.0 500.2,173.2 500.4,176.3 501.4,198.4 502.4,200.6 502.6,202.6 503.4,192.4 504.1,182.2 504.4,179.9 504.9,178.6 505.4,188.5 506.2,200.4 506.4,203.3 507.4,208.7 507.6,211.7 508.4,213.8 509.3,216.8 509.4,213.0 510.4,199.0 510.7,195.1 511.4,179.4 511.4,179.2 512.4,185.8 512.8,189.1 513.4,183.1 514.2,172.5 514.4,165.5 515.4,148.2 515.4,144.0 516.3,173.3 516.4,173.0 517.4,176.2 517.7,176.4 518.4,175.4 518.9,173.3 519.4,174.3 520.2,168.5 520.4,170.3 521.4,185.3 521.6,188.5 522.4,209.6 522.4,208.7 523.4,201.1 523.7,203.2 524.4,201.0 525.1,200.1 525.4,194.4 526.4,192.9 526.5,194.3 527.2,146.8 527.4,146.6 528.2,146.1 528.4,146.1 529.4,140.6 529.5,134.2 530.4,146.1 530.7,148.8 531.4,148.8 532.1,148.3 532.4,156.4 533.0,166.2 533.4,169.9 534.2,173.3 534.4,168.6 535.4,166.0 535.6,169.3 536.4,218.0 536.5,217.0 537.3,245.7 537.4,246.2 538.4,226.9 538.7,217.2 539.4,215.0 540.0,213.9 540.4,203.5 541.2,192.8 541.4,189.2 542.4,192.8 542.6,194.2 543.4,198.6 544.0,201.1 544.4,197.2 545.2,201.3 545.4,198.4 546.1,186.4 546.4,183.2 547.4,182.3 547.8,181.5 548.4,183.1 549.2,178.7 549.4,169.9 549.9,143.8 550.4,141.2 551.0,140.5 551.4,145.3 552.2,148.6 552.4,145.5 553.4,134.8 553.5,133.2 554.4,138.0 554.9,140.7 555.4,137.5 556.3,132.5 556.4,134.2 557.4,128.7 557.5,127.1 558.4,123.2 558.4,123.3 559.4,134.3 559.8,134.0 560.4,145.5 561.0,154.0 561.4,162.2 562.2,171.8 562.4,173.8 563.4,178.6 563.6,178.4 564.4,183.7 565.0,182.7 565.4,180.8 566.2,180.1 566.4,178.4 566.8,173.6 567.4,177.9 568.2,177.1 568.4,179.0 569.4,183.5 569.4,184.4 570.4,187.5 570.6,186.8 571.4,185.8 572.0,184.7 572.4,181.4 573.4,182.0 573.4,184.6 574.4,188.9 574.6,187.0 575.4,177.3 575.5,178.3 576.4,217.1 576.4,216.6 576.9,229.8 577.4,211.8 577.6,211.9 578.4,209.4 579.0,204.2 579.4,203.3 580.4,201.3 580.4,204.0 581.4,199.7 581.6,199.2 582.4,199.7 582.9,200.2 583.4,200.0 584.3,203.5 584.4,202.0 585.4,206.2 585.7,205.8 586.4,206.9 586.9,206.3 587.4,210.1 588.1,209.0 588.4,211.4 589.4,213.3 589.5,209.9 590.4,212.1 590.9,214.3 591.4,214.4 592.2,218.9 592.4,220.7 593.4,222.1 593.4,221.9 594.4,212.8 594.8,208.4 595.4,203.6 596.2,198.4 596.4,198.6 597.4,196.7 597.4,196.2 598.3,185.8 598.4,186.4 599.2,192.8 599.4,199.7 600.0,206.7 600.4,205.5 601.4,199.8 601.4,196.6 602.4,192.1 602.7,194.6 603.4,191.5 603.9,193.8 604.4,195.2 605.3,189.3 605.4,191.1 606.4,191.4 606.7,195.5 607.4,196.3 607.9,197.7 608.4,196.2 609.1,200.6 609.4,206.2 610.2,217.4 610.4,217.5 611.4,210.6 612.4,207.1 612.6,205.0 613.4,205.7 613.7,205.7 614.4,223.7 614.9,235.0 615.4,231.0 616.2,229.7 616.4,240.6 617.4,282.8 617.6,287.7 618.4,261.1 619.0,242.6 619.4,239.6 620.2,238.2 620.4,238.8 621.4,235.5 621.4,237.3 622.4,232.6 622.8,231.0 623.4,229.2 624.2,229.9 624.4,229.8 625.4,231.1 625.4,231.7 626.4,233.9 626.7,236.1 627.4,234.7 627.7,236.7 628.4,231.9 628.9,227.7 629.4,225.7 630.2,223.4 630.4,221.7 631.4,216.1 631.6,214.2 632.4,212.3 633.0,210.6 633.4,212.9 634.2,207.7 634.4,209.6 635.4,211.3 636.4,235.1 636.5,234.9 637.4,238.0 637.7,239.3 638.4,235.0 638.9,231.4 639.4,231.9 640.3,227.0 640.4,226.6 641.4,229.2 641.7,229.7 642.4,221.6 643.0,218.0 643.4,214.8 644.2,209.3 644.4,210.3 645.4,202.7 645.6,200.3 646.4,202.1 647.0,202.8 647.4,206.1 648.2,209.4 648.4,209.6 649.4,209.1 649.4,210.3 650.4,210.3 650.8,209.9 651.4,211.5 652.2,206.8 652.4,207.0 653.4,203.2 653.5,206.6 654.4,201.9 654.7,198.6 655.4,206.2 656.1,211.8 656.4,218.0 657.4,223.7 657.5,220.9 658.4,219.6 658.7,218.4 659.4,216.4 659.9,215.5 660.4,217.6 661.4,221.8 661.4,223.1 662.4,226.0 662.8,227.9 663.4,225.5 664.0,223.8 664.4,228.3 665.2,227.3 665.4,229.4 666.4,239.3 666.6,236.1 667.4,240.5 668.0,243.7 668.4,235.6 669.2,226.5 669.4,222.6 670.4,213.6 670.5,216.9 671.4,214.7 671.9,215.9 672.4,211.0 673.3,211.4 673.4,206.7 674.4,210.2 674.5,209.4 675.4,214.2 675.7,218.7 676.4,222.0 677.1,225.5 677.4,237.4 678.0,261.0 678.4,258.1 678.9,252.0 679.4,250.8 680.4,250.6 680.6,253.2 681.4,253.0 682.0,251.5 682.4,250.3 683.2,248.6 683.4,249.3 684.4,249.1 684.5,248.6 685.0,247.8"/>
<polyline fill="none" stroke="#9a1f2b" stroke-width="2.7" stroke-linejoin="miter" stroke-linecap="butt" points="40.9,154.1 41.9,142.4 42.3,141.0 42.9,140.8 43.9,135.7 44.9,132.5 44.9,132.0 45.9,132.5 46.6,133.8 46.9,134.7 47.9,136.3 48.4,134.8 48.9,139.5 49.9,140.3 50.1,144.8 50.9,152.9 51.9,164.3 51.9,166.8 52.8,175.6 52.9,175.9 53.9,198.0 54.5,211.6 54.9,219.0 55.9,244.6 55.9,247.0 56.6,257.8 56.9,257.9 57.9,255.7 58.0,253.6 58.9,244.5 59.4,241.6 59.9,241.4 60.7,229.8 60.9,225.7 61.9,223.6 62.4,220.2 62.9,218.1 63.9,213.7 64.2,212.1 64.9,208.0 65.9,208.7 65.9,207.5 66.9,211.4 67.7,215.9 67.9,216.8 68.9,218.1 69.4,219.8 69.9,217.8 70.9,216.0 71.2,215.3 71.9,233.2 72.4,243.2 72.9,235.4 73.8,224.1 73.9,225.3 74.9,217.8 75.2,215.9 75.9,207.3 76.4,208.7 76.9,205.1 77.9,199.1 78.2,192.6 78.9,182.0 79.9,176.1 79.9,175.2 80.9,166.8 81.7,157.9 81.9,157.1 82.6,145.0 82.9,142.3 83.9,135.5 84.9,126.1 85.2,123.6 85.9,130.3 86.9,134.7 86.9,135.0 87.9,129.3 88.7,122.7 88.9,122.4 89.9,118.5 90.9,111.1 91.3,103.9 91.9,106.3 92.9,118.9 93.1,120.9 93.9,122.3 94.8,132.3 94.9,131.4 95.9,126.8 96.6,122.8 96.9,124.1 97.9,110.7 98.3,105.9 98.9,114.3 99.9,130.3 100.1,131.2 100.9,131.1 101.8,131.3 101.9,134.4 102.9,128.0 103.6,125.8 103.9,127.6 104.9,125.6 105.9,120.4 106.2,118.5 106.9,113.6 107.9,113.0 108.8,109.7 108.9,112.0 109.9,112.7 110.6,115.0 110.9,112.8 111.9,114.5 112.3,110.8 112.9,107.5 113.9,105.9 114.1,104.9 114.9,113.5 115.8,120.5 115.9,120.2 116.9,131.0 117.6,136.6 117.9,142.0 118.9,146.3 119.3,151.1 119.9,145.7 120.9,140.5 121.1,139.3 121.9,144.8 122.8,148.9 122.9,150.9 123.9,157.1 124.6,161.2 124.9,159.3 125.9,163.6 126.9,163.0 127.2,163.3 127.9,157.8 128.9,150.3 129.0,148.3 129.9,148.0 130.7,141.0 130.9,140.5 131.9,136.5 132.9,134.1 133.4,130.5 133.9,133.9 134.9,137.2 135.1,137.7 135.9,133.6 136.9,130.1 137.9,133.5 138.6,134.7 138.9,133.5 139.9,136.6 140.9,138.0 141.2,138.1 141.9,144.6 142.9,148.2 143.0,147.2 143.9,158.6 143.9,157.9 144.9,163.2 145.0,163.5 145.9,164.2 146.8,166.7 146.9,166.9 147.9,177.6 148.2,179.7 148.9,155.7 149.4,143.8 149.9,136.7 150.6,116.2 150.9,118.1 151.9,123.5 152.0,126.2 152.9,118.5 153.8,113.2 153.9,114.0 154.9,111.7 155.5,111.5 155.9,108.5 156.9,101.8 157.3,98.7 157.9,103.8 158.9,110.3 159.0,109.2 159.9,117.3 160.8,127.9 160.9,127.9 161.9,130.4 162.5,128.2 162.9,127.5 163.9,128.5 164.3,131.0 164.9,130.5 165.9,130.7 166.0,132.9 166.9,129.6 167.8,126.2 167.9,127.5 168.9,125.2 169.5,124.6 169.9,126.7 170.9,128.7 171.3,130.6 171.9,132.9 172.9,138.5 173.0,138.2 173.9,146.7 174.8,151.8 174.9,151.8 175.9,152.3 176.5,147.5 176.9,135.9 177.9,109.1 177.9,107.4 178.9,103.5 179.2,100.9 179.9,98.6 180.9,90.9 180.9,90.8 181.9,97.5 182.7,100.2 182.9,99.0 183.9,102.9 184.4,107.3 184.9,107.4 185.9,101.8 186.2,102.1 186.9,97.4 187.9,92.6 187.9,92.7 188.9,116.8 189.1,123.1 189.9,147.0 190.2,157.0 190.9,167.7 191.4,179.7 191.9,186.2 192.6,193.1 192.9,194.1 193.9,194.9 194.1,197.4 194.9,193.8 195.8,194.9 195.9,197.4 196.9,187.5 197.6,185.0 197.9,174.8 198.4,151.8 198.9,150.5 199.9,149.0 200.2,145.1 200.9,142.9 201.9,136.3 201.9,138.8 202.9,138.2 203.2,139.3 203.9,146.8 204.6,153.2 204.9,158.0 205.9,162.4 206.3,166.2 206.9,170.2 207.9,178.4 208.1,176.4 208.9,179.7 209.8,183.1 209.9,184.3 210.9,183.9 211.6,185.3 211.9,184.6 212.9,191.8 213.3,193.0 213.9,194.3 214.9,191.9 215.1,191.6 215.9,187.5 216.8,180.9 216.9,181.8 217.9,174.6 218.6,168.0 218.9,169.7 219.9,162.4 220.3,161.7 220.9,162.3 221.9,162.0 222.1,161.3 222.9,162.4 223.8,163.0 223.9,162.9 224.9,164.6 225.6,166.4 225.9,166.8 226.9,163.2 227.3,162.8 227.9,159.3 228.9,157.4 229.1,156.9 229.9,158.3 230.8,161.0 230.9,162.2 231.9,159.9 232.6,163.2 232.9,164.1 233.9,175.7 234.0,177.6 234.9,184.6 235.2,184.3 235.9,182.6 236.9,173.5 237.0,169.9 237.9,158.0 238.7,146.7 238.9,143.6 239.9,137.5 239.9,137.9 240.9,148.8 241.4,155.2 241.9,160.6 242.9,162.8 243.1,162.5 243.9,163.4 244.9,164.6 244.9,166.4 245.9,109.6 246.1,100.1 246.9,96.3 247.5,91.0 247.9,85.9 248.9,77.8 248.9,79.0 249.9,61.7 250.1,58.3 250.9,55.0 251.9,49.0 251.9,48.1 252.9,46.3 253.6,44.1 253.9,42.0 254.9,40.4 255.4,42.7 255.9,44.9 256.9,45.4 257.2,44.5 257.9,47.0 258.9,45.0 258.9,44.9 259.9,43.4 260.7,44.4 260.9,45.4 261.9,46.7 262.4,48.6 262.9,51.4 263.9,54.1 264.2,54.9 264.9,57.3 265.9,58.3 265.9,59.8 266.9,58.9 267.7,58.7 267.9,62.9 268.9,71.2 268.9,70.1 269.9,72.5 270.3,72.3 270.9,74.8 271.7,75.2 271.9,75.1 272.9,71.2 272.9,69.6 273.9,66.1 274.1,64.6 274.9,68.5 275.5,73.7 275.9,69.0 276.9,68.6 276.9,68.9 277.9,83.3 278.2,87.4 278.9,88.5 279.6,91.4 279.9,90.1 280.8,87.0 280.9,85.0 281.9,71.0 282.0,68.8 282.9,60.9 283.1,55.2 283.9,57.0 284.3,61.8 284.9,64.2 285.7,67.0 285.9,65.7 286.9,59.5 286.9,61.4 287.9,62.0 288.3,59.0 288.9,62.9 289.6,71.7 289.9,70.6 290.9,73.1 291.0,74.5 291.9,76.8 292.2,78.7 292.9,87.7 293.4,95.4 293.9,102.5 294.8,109.5 294.9,108.8 295.9,116.0 296.2,116.9 296.9,117.3 297.4,121.4 297.9,126.6 298.7,138.7 298.9,142.3 299.9,144.9 300.1,145.8 300.9,149.7 301.5,152.8 301.9,159.5 302.7,165.5 302.9,164.0 303.9,172.4 303.9,175.8 304.9,181.3 305.3,186.0 305.9,190.6 306.7,188.2 306.9,183.7 307.9,168.5 308.0,167.9 308.9,161.9 309.2,156.2 309.9,162.5 310.2,164.5 310.9,165.1 311.5,170.8 311.9,171.0 312.7,170.2 312.9,167.4 313.9,165.0 314.1,161.7 314.9,160.3 315.8,154.5 315.9,157.1 316.9,149.5 317.6,147.4 317.9,144.5 318.9,148.4 319.3,145.3 319.9,141.7 320.9,142.3 321.1,145.0 321.9,146.3 322.8,146.1 322.9,143.3 323.9,144.9 324.6,143.9 324.9,144.5 325.9,156.4 326.0,158.6 326.9,163.8 327.2,164.4 327.9,141.0 328.5,121.7 328.9,120.9 329.9,108.3 329.9,105.8 330.9,103.1 331.3,103.6 331.9,100.7 332.5,99.2 332.9,102.6 333.7,98.0 333.9,94.7 334.9,103.1 335.1,102.6 335.9,102.3 336.9,104.1 337.9,106.2 338.6,107.0 338.9,107.5 339.9,105.2 340.4,105.1 340.9,105.0 341.9,108.5 342.1,110.9 342.9,114.4 343.9,117.2 343.9,118.9 344.0,111.5 344.1,119.3 344.9,123.8 345.3,123.2 345.9,125.7 346.9,130.0 347.0,127.9 347.9,130.0 348.8,133.2 348.9,135.0 349.9,145.5 350.2,147.6 350.9,138.9 351.4,133.4 351.9,126.6 352.6,121.7 352.9,123.4 353.9,125.8 354.0,130.5 354.9,137.2 355.4,143.6 355.9,146.4 356.6,152.0 356.9,147.7 357.9,130.8 357.9,130.0 358.9,119.4 359.3,109.8 359.9,105.9 360.7,103.0 360.9,104.0 361.9,104.2 362.4,105.6 362.9,108.2 363.6,109.7 363.9,111.9 364.9,118.0 364.9,118.5 365.9,124.7 366.3,129.4 366.9,137.2 367.7,150.0 367.9,150.4 368.9,151.7 368.9,155.6 369.9,153.5 370.1,151.0 370.9,158.0 371.5,162.4 371.9,163.9 372.9,163.8 372.9,166.3 373.9,170.8 374.2,171.7 374.9,179.3 375.4,181.9 375.9,188.4 376.8,200.7 376.9,200.9 377.9,193.8 378.2,193.3 378.9,181.3 379.4,169.8 379.9,169.1 380.6,172.1 380.9,172.7 381.9,184.7 382.0,183.7 382.9,184.8 383.4,188.7 383.9,194.5 384.7,199.9 384.9,201.7 385.9,213.3 385.9,209.8 386.9,189.1 386.9,189.8 387.9,191.8 388.2,190.4 388.9,176.4 389.4,168.4 389.9,166.5 390.8,157.4 390.9,154.4 391.9,165.9 392.2,168.3 392.9,179.8 393.4,190.2 393.9,195.9 394.7,200.2 394.9,197.2 395.9,194.6 396.1,195.7 396.9,192.7 397.8,193.7 397.9,196.4 398.9,196.4 399.6,195.5 399.9,196.7 400.9,195.7 401.3,195.5 401.9,193.4 402.7,198.7 402.9,200.9 403.9,209.0 403.9,209.3 404.9,211.0 405.2,213.3 405.9,215.5 406.2,220.0 406.9,199.9 407.4,181.7 407.9,176.0 408.7,157.5 408.9,157.2 409.9,151.1 410.1,149.2 410.9,151.3 411.5,151.7 411.9,144.1 412.7,131.4 412.9,129.3 413.9,123.0 413.9,120.4 414.9,120.3 415.3,122.9 415.9,112.1 416.4,92.6 416.9,90.2 417.9,89.5 418.0,90.7 418.9,99.0 419.2,103.1 419.9,103.1 420.6,104.5 420.9,105.9 421.9,110.9 422.0,111.9 422.9,118.1 423.2,119.9 423.9,127.7 424.4,130.8 424.9,132.9 425.8,137.6 425.9,136.9 426.9,142.8 427.2,144.5 427.9,148.2 428.5,145.8 428.9,146.5 429.7,144.2 429.9,140.8 430.9,143.8 431.1,147.3 431.9,148.8 432.5,150.3 432.9,154.8 433.7,158.2 433.9,159.5 434.9,166.2 434.9,164.9 435.9,159.4 436.4,153.7 436.9,142.9 437.8,130.8 437.9,131.8 438.9,121.2 439.0,117.4 439.9,118.3 440.2,118.4 440.9,118.1 441.6,121.1 441.9,120.7 442.9,124.8 443.0,121.7 443.9,122.7 444.2,123.2 444.9,124.3 445.5,131.6 445.9,136.2 446.9,140.0 447.9,144.1 448.3,145.0 448.9,146.4 449.5,144.3 449.9,140.2 450.7,141.9 450.9,137.1 451.9,140.6 452.1,139.9 452.9,141.8 453.5,142.9 453.9,144.3 454.9,143.3 455.0,146.0 455.9,146.3 456.8,146.6 456.9,149.7 457.9,140.4 458.2,137.6 458.9,135.5 459.4,132.9 459.9,121.8 460.6,105.9 460.9,102.0 461.9,99.4 462.0,101.1 462.9,106.8 463.4,111.4 463.9,111.4 464.6,117.5 464.9,117.3 465.9,125.9 466.9,131.8 467.3,131.3 467.9,134.7 468.7,138.5 468.9,138.2 469.9,129.5 469.9,130.8 470.9,128.1 471.1,127.0 471.9,129.7 472.5,134.8 472.9,140.8 473.4,151.4 473.9,164.7 474.3,179.8 474.9,190.8 475.7,199.2 475.9,207.6 476.9,225.7 476.9,223.4 477.8,200.8 477.9,200.2 478.9,170.4 479.2,164.3 479.9,171.2 480.4,170.8 480.9,180.1 481.6,193.5 481.9,199.9 482.9,212.1 483.0,210.8 483.9,206.4 484.8,206.3 484.9,206.5 485.9,202.7 486.5,199.6 486.9,194.0 487.9,185.3 487.9,182.5 488.9,173.2 489.2,172.1 489.9,208.8 490.0,217.7 490.9,238.8 490.9,237.1 491.9,222.3 492.1,218.8 492.9,199.3 493.5,182.7 493.9,178.3 494.9,160.8 494.9,158.4 495.9,148.0 496.2,146.2 496.9,142.0 497.4,138.4 497.9,136.3 498.8,132.8 498.9,129.8 499.9,131.0 500.2,128.9 500.9,130.5 501.4,130.1 501.9,127.3 502.6,120.7 502.9,117.9 503.9,111.5 504.1,111.7 504.9,110.0 505.5,105.9 505.9,105.0 506.7,112.9 506.9,112.9 507.9,120.6 507.9,119.8 508.9,125.4 509.3,129.3 509.9,133.8 510.7,136.6 510.9,140.2 511.9,142.9 511.9,145.6 512.9,137.1 513.2,135.6 513.9,130.4 514.6,124.8 514.9,121.1 515.9,114.9 516.0,111.8 516.9,109.0 517.2,110.4 517.9,116.5 518.4,114.7 518.9,113.2 519.8,116.3 519.9,117.8 520.9,121.4 521.2,121.0 521.9,122.4 522.4,122.2 522.9,123.8 523.7,120.4 523.9,116.9 524.9,114.7 525.1,117.0 525.9,104.6 526.5,92.4 526.9,90.1 527.7,85.3 527.9,80.8 528.9,87.0 528.9,89.4 529.9,98.1 530.3,102.6 530.9,108.0 531.7,117.0 531.9,117.7 532.9,123.3 533.0,121.3 533.9,129.2 534.2,135.3 534.9,140.8 535.6,147.7 535.9,145.3 536.9,133.3 537.0,131.6 537.9,126.7 538.2,120.1 538.9,116.8 539.4,118.4 539.9,117.7 540.8,118.3 540.9,117.8 541.9,117.6 542.2,119.5 542.9,124.6 543.5,126.7 543.9,127.1 544.7,131.3 544.9,131.4 545.9,126.7 546.1,124.7 546.9,120.6 547.5,120.5 547.9,113.9 548.7,107.6 548.9,104.4 549.9,89.9 549.9,90.4 550.9,92.4 551.4,89.3 551.9,90.9 552.8,92.3 552.9,91.3 553.9,99.4 554.0,100.3 554.9,105.8 555.2,103.8 555.9,106.7 556.6,109.7 556.9,110.6 557.9,111.3 558.0,108.2 558.9,105.3 559.2,101.5 559.9,99.4 560.5,102.6 560.9,100.5 561.9,103.1 562.9,106.3 563.3,111.5 563.9,99.3 564.5,91.4 564.9,88.0 565.7,81.2 565.9,78.3 566.9,81.0 567.1,83.4 567.9,84.5 568.2,91.4 568.9,93.0 569.4,95.6 569.9,97.0 570.6,97.6 570.9,98.6 571.9,103.0 572.0,102.0 572.9,105.9 573.4,107.5 573.9,115.5 574.6,129.4 574.9,134.1 575.9,137.9 576.9,113.7 576.9,112.1 577.9,104.1 578.1,103.1 578.9,103.3 579.4,102.7 579.9,102.7 580.8,103.0 580.9,102.7 581.9,100.8 582.2,97.2 582.9,103.5 583.4,105.1 583.9,104.3 584.6,108.9 584.9,106.8 585.9,111.7 586.0,114.2 586.9,110.1 587.4,107.9 587.9,111.7 588.6,113.5 588.9,112.1 589.9,95.6 589.9,97.0 590.9,108.6 591.3,108.5 591.9,109.3 592.7,112.4 592.9,113.6 593.9,117.2 593.9,114.7 594.9,118.6 595.1,118.1 595.9,117.8 596.5,115.8 596.9,112.1 597.9,110.7 597.9,112.6 598.9,116.2 599.2,114.3 599.9,114.4 600.4,116.5 600.9,115.6 601.8,120.9 601.9,121.0 602.9,123.9 603.2,119.0 603.9,123.8 604.4,129.0 604.9,131.9 605.6,137.1 605.9,140.1 606.9,144.7 607.0,149.4 607.9,157.9 608.4,164.6 608.9,168.2 609.7,179.4 609.9,178.8 610.9,170.6 610.9,168.3 611.9,164.7 612.3,163.6 612.9,162.9 613.7,160.4 613.9,159.7 614.9,146.1 614.9,147.4 615.9,133.6 616.2,131.0 616.9,107.5 617.0,102.7 617.9,115.6 618.1,119.2 618.9,121.4 619.3,123.0 619.9,124.9 620.7,126.4 620.9,129.6 621.9,129.9 621.9,130.7 622.9,134.5 623.2,131.2 623.9,130.4 624.6,133.0 624.9,135.6 625.9,135.6 626.0,136.6 626.9,136.5 627.2,137.2 627.9,144.6 628.4,148.7 628.9,153.2 629.5,158.6 629.9,161.7 630.7,165.3 630.9,163.7 631.6,147.3 631.9,149.5 632.9,133.6 633.0,129.5 633.9,119.1 634.2,117.9 634.9,111.9 635.4,105.0 635.9,106.9 636.8,103.7 636.9,101.8 637.9,103.9 638.2,104.7 638.9,103.8 639.5,102.3 639.9,102.2 640.7,99.7 640.9,101.6 641.9,104.4 642.1,105.3 642.9,104.8 643.5,106.9 643.9,108.0 644.7,107.1 644.9,110.1 645.9,110.6 645.9,111.3 646.9,117.4 647.3,115.2 647.9,115.7 648.7,119.8 648.9,121.5 649.9,127.2 650.0,128.7 650.9,130.1 651.2,126.8 651.9,124.1 652.6,120.9 652.9,122.7 653.9,116.3 654.0,118.0 654.9,105.7 655.2,100.1 655.9,99.0 656.4,99.7 656.9,101.9 657.8,105.6 657.9,105.0 658.9,106.8 659.2,108.7 659.9,117.1 660.5,126.7 660.9,127.7 661.7,132.2 661.9,131.6 662.9,129.8 663.1,131.1 663.9,122.3 664.5,113.6 664.9,123.1 665.7,132.0 665.9,132.9 666.9,138.1 667.0,137.4 667.9,138.4 668.4,132.8 668.9,135.3 669.8,136.4 669.9,141.2 670.9,144.6 671.0,146.1 671.9,153.5 672.2,153.8 672.9,153.8 673.6,159.1 673.9,154.5 674.9,147.7 675.0,149.4 675.9,141.9 676.2,141.1 676.9,146.4 677.5,146.6 677.9,150.9 678.9,157.5 678.9,160.1 679.9,162.6 680.3,162.1 680.9,154.8 681.5,148.3 681.9,149.5 682.7,147.0 682.9,143.9 683.9,146.9 684.1,146.3 684.9,146.4 685.0,147.0"/>
<text class="ax" x="32.3" y="13.4" font-size="18.5" text-anchor="end" textLength="26.3" lengthAdjust="spacingAndGlyphs">1.0</text>
<text class="ax" x="32.3" y="65.9" font-size="18.5" text-anchor="end" textLength="26.3" lengthAdjust="spacingAndGlyphs">0.8</text>
<text class="ax" x="32.3" y="118.8" font-size="18.5" text-anchor="end" textLength="26.3" lengthAdjust="spacingAndGlyphs">0.6</text>
<text class="ax" x="32.3" y="171.4" font-size="18.5" text-anchor="end" textLength="26.3" lengthAdjust="spacingAndGlyphs">0.4</text>
<text class="ax" x="32.3" y="224.3" font-size="18.5" text-anchor="end" textLength="26.3" lengthAdjust="spacingAndGlyphs">0.2</text>
<text class="ax" x="32.3" y="277.2" font-size="18.5" text-anchor="end" textLength="26.3" lengthAdjust="spacingAndGlyphs">0.0</text>
<text class="ax" x="32.3" y="329.9" font-size="18.5" text-anchor="end" textLength="32.8" lengthAdjust="spacingAndGlyphs">-0.2</text>
<text class="ax" x="60.6" y="349.5" font-size="18" text-anchor="middle">III</text>
<text class="ax" x="91.1" y="349.5" font-size="18" text-anchor="middle">IV</text>
<text class="ax" x="121.6" y="349.5" font-size="18" text-anchor="middle">I</text>
<text class="ax" x="152.0" y="349.5" font-size="18" text-anchor="middle">II</text>
<text class="ax" x="182.5" y="349.5" font-size="18" text-anchor="middle">III</text>
<text class="ax" x="213.0" y="349.5" font-size="18" text-anchor="middle">IV</text>
<text class="ax" x="243.5" y="349.5" font-size="18" text-anchor="middle">I</text>
<text class="ax" x="274.0" y="349.5" font-size="18" text-anchor="middle">II</text>
<text class="ax" x="304.4" y="349.5" font-size="18" text-anchor="middle">III</text>
<text class="ax" x="334.9" y="349.5" font-size="18" text-anchor="middle">IV</text>
<text class="ax" x="365.4" y="349.5" font-size="18" text-anchor="middle">I</text>
<text class="ax" x="395.9" y="349.5" font-size="18" text-anchor="middle">II</text>
<text class="ax" x="426.4" y="349.5" font-size="18" text-anchor="middle">III</text>
<text class="ax" x="456.8" y="349.5" font-size="18" text-anchor="middle">IV</text>
<text class="ax" x="487.3" y="349.5" font-size="18" text-anchor="middle">I</text>
<text class="ax" x="517.8" y="349.5" font-size="18" text-anchor="middle">II</text>
<text class="ax" x="548.3" y="349.5" font-size="18" text-anchor="middle">III</text>
<text class="ax" x="578.8" y="349.5" font-size="18" text-anchor="middle">IV</text>
<text class="ax" x="609.2" y="349.5" font-size="18" text-anchor="middle">I</text>
<text class="ax" x="639.7" y="349.5" font-size="18" text-anchor="middle">II</text>
<text class="ax" x="670.2" y="349.5" font-size="18" text-anchor="middle">III</text>
<text class="ax" x="68.8" y="382.4" font-size="19" text-anchor="middle">2018</text>
<text class="ax" x="167.0" y="382.4" font-size="19" text-anchor="middle">2019</text>
<text class="ax" x="289.2" y="382.4" font-size="19" text-anchor="middle">2020</text>
<text class="ax" x="411.3" y="382.4" font-size="19" text-anchor="middle">2021</text>
<text class="ax" x="533.0" y="382.4" font-size="19" text-anchor="middle">2022</text>
<text class="ax" x="643.7" y="382.4" font-size="19" text-anchor="middle">2023</text>
<rect x="152" y="411" width="420" height="110.5" fill="#fff" stroke="#e3e3e3" stroke-width="1"/>
<line x1="160.7" y1="428.2" x2="212.5" y2="428.2" stroke="#3d6fbd" stroke-width="2.3"/><text class="lg" x="219.5" y="433.4" textLength="128.0" lengthAdjust="spacingAndGlyphs">GLBLBNK-IGRAITI</text>
<line x1="360.2" y1="428.2" x2="412.0" y2="428.2" stroke="#e3862f" stroke-width="2.3"/><text class="lg" x="418.8" y="433.4" textLength="125.0" lengthAdjust="spacingAndGlyphs">GLBLBNK-SPKFPI</text>
<line x1="160.7" y1="454.0" x2="212.5" y2="454.0" stroke="#3a9c54" stroke-width="2.3"/><text class="lg" x="219.5" y="459.2" textLength="125.0" lengthAdjust="spacingAndGlyphs">GLBLBNK-SPKAFI</text>
<line x1="360.2" y1="454.0" x2="412.0" y2="454.0" stroke="#d3232a" stroke-width="2.3"/><text class="lg" x="418.8" y="459.2" textLength="128.0" lengthAdjust="spacingAndGlyphs">GLBLBNK-SPKDBI</text>
<line x1="160.7" y1="479.9" x2="212.5" y2="479.9" stroke="#58585a" stroke-width="2.3"/><text class="lg" x="219.5" y="485.1" textLength="125.0" lengthAdjust="spacingAndGlyphs">GLBLBNK-SPKDLI</text>
<line x1="360.2" y1="479.9" x2="412.0" y2="479.9" stroke="#6b4ea6" stroke-width="2.3"/><text class="lg" x="418.8" y="485.1" textLength="144.5" lengthAdjust="spacingAndGlyphs">GLBLBNK-SPKCDEFI</text>
<line x1="160.7" y1="505.5" x2="212.5" y2="505.5" stroke="#9a1f2b" stroke-width="2.3"/><text class="lg" x="219.5" y="510.7" textLength="116.5" lengthAdjust="spacingAndGlyphs">GLBLBNK-KNFTI</text>
<text class="cap" x="125.4" y="551.5" font-weight="bold">a.</text><text class="cap" x="145.1" y="551.5" textLength="490.4" lengthAdjust="spacingAndGlyphs">Graph of cADCC between GLBLBNK and FinTech Indices</text>
<text class="cap" x="114.5" y="1153" font-weight="bold">b.</text><text class="cap" x="134.2" y="1153" textLength="512.7" lengthAdjust="spacingAndGlyphs">Heatmap of cADCC between GLBLBNK and FinTech Indices</text>
<text class="hm" x="121.5" y="581.7" text-anchor="end" font-size="9.7" textLength="39" lengthAdjust="spacingAndGlyphs">2018-06</text>
<text class="hm" x="121.5" y="591.3" text-anchor="end" font-size="9.7" textLength="39" lengthAdjust="spacingAndGlyphs">2018-07</text>
<text class="hm" x="121.5" y="600.9" text-anchor="end" font-size="9.7" textLength="39" lengthAdjust="spacingAndGlyphs">2018-09</text>
<text class="hm" x="121.5" y="610.6" text-anchor="end" font-size="9.7" textLength="39" lengthAdjust="spacingAndGlyphs">2018-10</text>
<text class="hm" x="121.5" y="620.2" text-anchor="end" font-size="9.7" textLength="39" lengthAdjust="spacingAndGlyphs">2018-11</text>
<text class="hm" x="121.5" y="629.8" text-anchor="end" font-size="9.7" textLength="39" lengthAdjust="spacingAndGlyphs">2019-01</text>
<text class="hm" x="121.5" y="639.4" text-anchor="end" font-size="9.7" textLength="39" lengthAdjust="spacingAndGlyphs">2019-02</text>
<text class="hm" x="121.5" y="649.0" text-anchor="end" font-size="9.7" textLength="39" lengthAdjust="spacingAndGlyphs">2019-04</text>
<text class="hm" x="121.5" y="658.7" text-anchor="end" font-size="9.7" textLength="39" lengthAdjust="spacingAndGlyphs">2019-05</text>
<text class="hm" x="121.5" y="668.3" text-anchor="end" font-size="9.7" textLength="39" lengthAdjust="spacingAndGlyphs">2019-07</text>
<text class="hm" x="121.5" y="677.9" text-anchor="end" font-size="9.7" textLength="39" lengthAdjust="spacingAndGlyphs">2019-08</text>
<text class="hm" x="121.5" y="687.5" text-anchor="end" font-size="9.7" textLength="39" lengthAdjust="spacingAndGlyphs">2019-09</text>
<text class="hm" x="121.5" y="697.1" text-anchor="end" font-size="9.7" textLength="39" lengthAdjust="spacingAndGlyphs">2019-11</text>
<text class="hm" x="121.5" y="706.8" text-anchor="end" font-size="9.7" textLength="39" lengthAdjust="spacingAndGlyphs">2019-12</text>
<text class="hm" x="121.5" y="716.4" text-anchor="end" font-size="9.7" textLength="39" lengthAdjust="spacingAndGlyphs">2020-01</text>
<text class="hm" x="121.5" y="726.0" text-anchor="end" font-size="9.7" textLength="39" lengthAdjust="spacingAndGlyphs">2020-03</text>
<text class="hm" x="121.5" y="735.6" text-anchor="end" font-size="9.7" textLength="39" lengthAdjust="spacingAndGlyphs">2020-04</text>
<text class="hm" x="121.5" y="745.2" text-anchor="end" font-size="9.7" textLength="39" lengthAdjust="spacingAndGlyphs">2020-06</text>
<text class="hm" x="121.5" y="754.9" text-anchor="end" font-size="9.7" textLength="39" lengthAdjust="spacingAndGlyphs">2020-07</text>
<text class="hm" x="121.5" y="764.5" text-anchor="end" font-size="9.7" textLength="39" lengthAdjust="spacingAndGlyphs">2020-08</text>
<text class="hm" x="121.5" y="774.1" text-anchor="end" font-size="9.7" textLength="39" lengthAdjust="spacingAndGlyphs">2020-10</text>
<text class="hm" x="121.5" y="783.7" text-anchor="end" font-size="9.7" textLength="39" lengthAdjust="spacingAndGlyphs">2020-11</text>
<text class="hm" x="121.5" y="793.3" text-anchor="end" font-size="9.7" textLength="39" lengthAdjust="spacingAndGlyphs">2020-12</text>
<text class="hm" x="121.5" y="803.0" text-anchor="end" font-size="9.7" textLength="39" lengthAdjust="spacingAndGlyphs">2021-02</text>
<text class="hm" x="121.5" y="812.6" text-anchor="end" font-size="9.7" textLength="39" lengthAdjust="spacingAndGlyphs">2021-03</text>
<text class="hm" x="121.5" y="822.2" text-anchor="end" font-size="9.7" textLength="39" lengthAdjust="spacingAndGlyphs">2021-05</text>
<text class="hm" x="121.5" y="831.8" text-anchor="end" font-size="9.7" textLength="39" lengthAdjust="spacingAndGlyphs">2021-06</text>
<text class="hm" x="121.5" y="841.4" text-anchor="end" font-size="9.7" textLength="39" lengthAdjust="spacingAndGlyphs">2021-07</text>
<text class="hm" x="121.5" y="851.1" text-anchor="end" font-size="9.7" textLength="39" lengthAdjust="spacingAndGlyphs">2021-09</text>
<text class="hm" x="121.5" y="860.7" text-anchor="end" font-size="9.7" textLength="39" lengthAdjust="spacingAndGlyphs">2021-10</text>
<text class="hm" x="121.5" y="870.3" text-anchor="end" font-size="9.7" textLength="39" lengthAdjust="spacingAndGlyphs">2021-11</text>
<text class="hm" x="121.5" y="879.9" text-anchor="end" font-size="9.7" textLength="39" lengthAdjust="spacingAndGlyphs">2022-01</text>
<text class="hm" x="121.5" y="889.5" text-anchor="end" font-size="9.7" textLength="39" lengthAdjust="spacingAndGlyphs">2022-02</text>
<text class="hm" x="121.5" y="899.2" text-anchor="end" font-size="9.7" textLength="39" lengthAdjust="spacingAndGlyphs">2022-04</text>
<text class="hm" x="121.5" y="908.8" text-anchor="end" font-size="9.7" textLength="39" lengthAdjust="spacingAndGlyphs">2022-05</text>
<text class="hm" x="121.5" y="918.4" text-anchor="end" font-size="9.7" textLength="39" lengthAdjust="spacingAndGlyphs">2022-06</text>
<text class="hm" x="121.5" y="928.0" text-anchor="end" font-size="9.7" textLength="39" lengthAdjust="spacingAndGlyphs">2022-08</text>
<text class="hm" x="121.5" y="937.6" text-anchor="end" font-size="9.7" textLength="39" lengthAdjust="spacingAndGlyphs">2022-09</text>
<text class="hm" x="121.5" y="947.3" text-anchor="end" font-size="9.7" textLength="39" lengthAdjust="spacingAndGlyphs">2022-11</text>
<text class="hm" x="121.5" y="956.9" text-anchor="end" font-size="9.7" textLength="39" lengthAdjust="spacingAndGlyphs">2022-12</text>
<text class="hm" x="121.5" y="966.5" text-anchor="end" font-size="9.7" textLength="39" lengthAdjust="spacingAndGlyphs">2023-01</text>
<text class="hm" x="121.5" y="976.1" text-anchor="end" font-size="9.7" textLength="39" lengthAdjust="spacingAndGlyphs">2023-03</text>
<text class="hm" x="121.5" y="985.7" text-anchor="end" font-size="9.7" textLength="39" lengthAdjust="spacingAndGlyphs">2023-04</text>
<text class="hm" x="121.5" y="995.4" text-anchor="end" font-size="9.7" textLength="39" lengthAdjust="spacingAndGlyphs">2023-06</text>
<text class="hm" x="121.5" y="1005.0" text-anchor="end" font-size="9.7" textLength="39" lengthAdjust="spacingAndGlyphs">2023-07</text>
<text class="hm" x="121.5" y="1014.6" text-anchor="end" font-size="9.7" textLength="39" lengthAdjust="spacingAndGlyphs">2023-08</text>
<text class="hm" transform="translate(77.5,801) rotate(-90)" text-anchor="middle">Date</text>
<text class="hm" transform="translate(158.1,1025.6) rotate(-90)" text-anchor="end" font-size="9.6">GLBLBANK-IGRAITI</text>
<text class="hm" transform="translate(219.2,1025.6) rotate(-90)" text-anchor="end" font-size="9.6">GLBLBANK-SPKFPI</text>
<text class="hm" transform="translate(280.4,1025.6) rotate(-90)" text-anchor="end" font-size="9.6">GLBLBANK-SPKAFI</text>
<text class="hm" transform="translate(341.5,1025.6) rotate(-90)" text-anchor="end" font-size="9.6">GLBLBANK-SPKDBI</text>
<text class="hm" transform="translate(402.6,1025.6) rotate(-90)" text-anchor="end" font-size="9.6">GLBLBANK-SPKDLI</text>
<text class="hm" transform="translate(463.8,1025.6) rotate(-90)" text-anchor="end" font-size="9.6">GLBLBANK-SPKCDEFI</text>
<text class="hm" transform="translate(524.9,1025.6) rotate(-90)" text-anchor="end" font-size="9.6">GLBLBANK-KNFTI</text>
<text class="hm" x="604.9" y="630.8" font-size="9.5">0.8</text>
<text class="hm" x="604.9" y="712.8" font-size="9.5">0.6</text>
<text class="hm" x="604.9" y="794.8" font-size="9.5">0.4</text>
<text class="hm" x="604.9" y="876.8" font-size="9.5">0.2</text>
<text class="hm" x="604.9" y="958.3" font-size="9.5">0.0</text>
<line x1="125.2" y1="578.8" x2="128" y2="578.8" stroke="#333" stroke-width="0.9"/>
<line x1="125.2" y1="588.4" x2="128" y2="588.4" stroke="#333" stroke-width="0.9"/>
<line x1="125.2" y1="598.0" x2="128" y2="598.0" stroke="#333" stroke-width="0.9"/>
<line x1="125.2" y1="607.7" x2="128" y2="607.7" stroke="#333" stroke-width="0.9"/>
<line x1="125.2" y1="617.3" x2="128" y2="617.3" stroke="#333" stroke-width="0.9"/>
<line x1="125.2" y1="626.9" x2="128" y2="626.9" stroke="#333" stroke-width="0.9"/>
<line x1="125.2" y1="636.5" x2="128" y2="636.5" stroke="#333" stroke-width="0.9"/>
<line x1="125.2" y1="646.1" x2="128" y2="646.1" stroke="#333" stroke-width="0.9"/>
<line x1="125.2" y1="655.8" x2="128" y2="655.8" stroke="#333" stroke-width="0.9"/>
<line x1="125.2" y1="665.4" x2="128" y2="665.4" stroke="#333" stroke-width="0.9"/>
<line x1="125.2" y1="675.0" x2="128" y2="675.0" stroke="#333" stroke-width="0.9"/>
<line x1="125.2" y1="684.6" x2="128" y2="684.6" stroke="#333" stroke-width="0.9"/>
<line x1="125.2" y1="694.2" x2="128" y2="694.2" stroke="#333" stroke-width="0.9"/>
<line x1="125.2" y1="703.9" x2="128" y2="703.9" stroke="#333" stroke-width="0.9"/>
<line x1="125.2" y1="713.5" x2="128" y2="713.5" stroke="#333" stroke-width="0.9"/>
<line x1="125.2" y1="723.1" x2="128" y2="723.1" stroke="#333" stroke-width="0.9"/>
<line x1="125.2" y1="732.7" x2="128" y2="732.7" stroke="#333" stroke-width="0.9"/>
<line x1="125.2" y1="742.3" x2="128" y2="742.3" stroke="#333" stroke-width="0.9"/>
<line x1="125.2" y1="752.0" x2="128" y2="752.0" stroke="#333" stroke-width="0.9"/>
<line x1="125.2" y1="761.6" x2="128" y2="761.6" stroke="#333" stroke-width="0.9"/>
<line x1="125.2" y1="771.2" x2="128" y2="771.2" stroke="#333" stroke-width="0.9"/>
<line x1="125.2" y1="780.8" x2="128" y2="780.8" stroke="#333" stroke-width="0.9"/>
<line x1="125.2" y1="790.4" x2="128" y2="790.4" stroke="#333" stroke-width="0.9"/>
<line x1="125.2" y1="800.1" x2="128" y2="800.1" stroke="#333" stroke-width="0.9"/>
<line x1="125.2" y1="809.7" x2="128" y2="809.7" stroke="#333" stroke-width="0.9"/>
<line x1="125.2" y1="819.3" x2="128" y2="819.3" stroke="#333" stroke-width="0.9"/>
<line x1="125.2" y1="828.9" x2="128" y2="828.9" stroke="#333" stroke-width="0.9"/>
<line x1="125.2" y1="838.5" x2="128" y2="838.5" stroke="#333" stroke-width="0.9"/>
<line x1="125.2" y1="848.2" x2="128" y2="848.2" stroke="#333" stroke-width="0.9"/>
<line x1="125.2" y1="857.8" x2="128" y2="857.8" stroke="#333" stroke-width="0.9"/>
<line x1="125.2" y1="867.4" x2="128" y2="867.4" stroke="#333" stroke-width="0.9"/>
<line x1="125.2" y1="877.0" x2="128" y2="877.0" stroke="#333" stroke-width="0.9"/>
<line x1="125.2" y1="886.6" x2="128" y2="886.6" stroke="#333" stroke-width="0.9"/>
<line x1="125.2" y1="896.3" x2="128" y2="896.3" stroke="#333" stroke-width="0.9"/>
<line x1="125.2" y1="905.9" x2="128" y2="905.9" stroke="#333" stroke-width="0.9"/>
<line x1="125.2" y1="915.5" x2="128" y2="915.5" stroke="#333" stroke-width="0.9"/>
<line x1="125.2" y1="925.1" x2="128" y2="925.1" stroke="#333" stroke-width="0.9"/>
<line x1="125.2" y1="934.7" x2="128" y2="934.7" stroke="#333" stroke-width="0.9"/>
<line x1="125.2" y1="944.4" x2="128" y2="944.4" stroke="#333" stroke-width="0.9"/>
<line x1="125.2" y1="954.0" x2="128" y2="954.0" stroke="#333" stroke-width="0.9"/>
<line x1="125.2" y1="963.6" x2="128" y2="963.6" stroke="#333" stroke-width="0.9"/>
<line x1="125.2" y1="973.2" x2="128" y2="973.2" stroke="#333" stroke-width="0.9"/>
<line x1="125.2" y1="982.8" x2="128" y2="982.8" stroke="#333" stroke-width="0.9"/>
<line x1="125.2" y1="992.5" x2="128" y2="992.5" stroke="#333" stroke-width="0.9"/>
<line x1="125.2" y1="1002.1" x2="128" y2="1002.1" stroke="#333" stroke-width="0.9"/>
<line x1="125.2" y1="1011.7" x2="128" y2="1011.7" stroke="#333" stroke-width="0.9"/>
<line x1="155.3" y1="1017.8" x2="155.3" y2="1020.8" stroke="#333" stroke-width="0.9"/>
<line x1="216.4" y1="1017.8" x2="216.4" y2="1020.8" stroke="#333" stroke-width="0.9"/>
<line x1="277.6" y1="1017.8" x2="277.6" y2="1020.8" stroke="#333" stroke-width="0.9"/>
<line x1="338.7" y1="1017.8" x2="338.7" y2="1020.8" stroke="#333" stroke-width="0.9"/>
<line x1="399.8" y1="1017.8" x2="399.8" y2="1020.8" stroke="#333" stroke-width="0.9"/>
<line x1="461.0" y1="1017.8" x2="461.0" y2="1020.8" stroke="#333" stroke-width="0.9"/>
<line x1="522.1" y1="1017.8" x2="522.1" y2="1020.8" stroke="#333" stroke-width="0.9"/>
<line x1="598.9" y1="627.3" x2="601.6" y2="627.3" stroke="#333" stroke-width="0.9"/>
<line x1="598.9" y1="709.3" x2="601.6" y2="709.3" stroke="#333" stroke-width="0.9"/>
<line x1="598.9" y1="791.3" x2="601.6" y2="791.3" stroke="#333" stroke-width="0.9"/>
<line x1="598.9" y1="873.3" x2="601.6" y2="873.3" stroke="#333" stroke-width="0.9"/>
<line x1="598.9" y1="954.8" x2="601.6" y2="954.8" stroke="#333" stroke-width="0.9"/>
</svg>
</body></html>
